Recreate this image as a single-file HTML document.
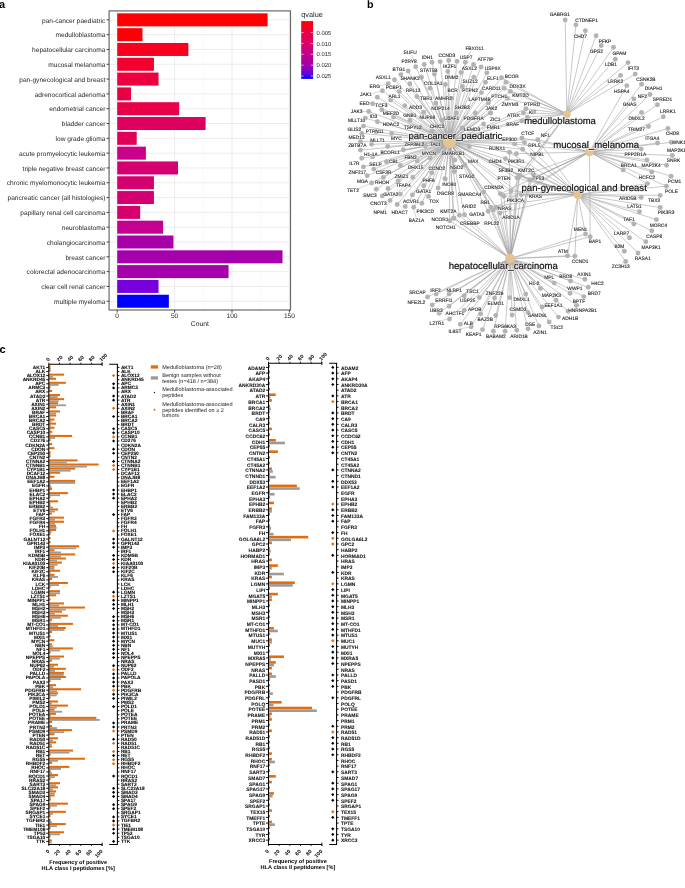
<!DOCTYPE html>
<html><head><meta charset="utf-8"><title>figure</title><style>
html,body{margin:0;padding:0;background:#fff;}
svg{display:block;will-change:transform;}
text{font-family:"Liberation Sans",sans-serif;text-rendering:geometricPrecision;}
.ax{font-size:6.6px;fill:#262626;}
.axt{font-size:6.8px;fill:#1a1a1a;}
.legt{font-size:7.3px;fill:#1a1a1a;}
.legl{font-size:5.9px;fill:#1a1a1a;}
.pl{font-size:11px;font-weight:bold;fill:#000;}
.gl text{font-size:4.85px;fill:#1a1a1a;stroke:#1a1a1a;stroke-width:0.1px;}
.glh text{font-size:4.85px;fill:#fff;stroke:#fff;stroke-width:0.8px;stroke-linejoin:round;opacity:0.8;}
.catl{font-size:9.6px;fill:#111;stroke:#fff;stroke-width:1.1px;stroke-linejoin:round;}
.catl2{font-size:9.6px;fill:#111;stroke:#111;stroke-width:0.2px;}
.cg{font-size:4.8px;font-weight:bold;fill:#000;stroke:#000;stroke-width:0.07px;}
.cg2{font-size:4.9px;font-weight:bold;fill:#111;stroke:#111;stroke-width:0.05px;}
.ct{font-size:5.2px;font-weight:bold;fill:#000;}
.cat{font-size:5.6px;font-weight:bold;fill:#000;}
.cl{font-size:5.55px;fill:#262626;}
</style></head>
<body>
<svg width="685" height="888" viewBox="0 0 685 888">
<rect width="685" height="888" fill="#fff"/>
<text x="-1" y="8.3" class="pl">a</text>
<text x="366.9" y="8.0" class="pl" style="font-size:10.6px">b</text>
<text x="-0.5" y="353.3" class="pl">c</text>
<rect x="109.1" y="10.9" width="181.4" height="299.1" fill="#fff"/>
<line x1="145.90" y1="10.9" x2="145.90" y2="310.0" stroke="#F2F2F2" stroke-width="0.5"/>
<line x1="203.30" y1="10.9" x2="203.30" y2="310.0" stroke="#F2F2F2" stroke-width="0.5"/>
<line x1="260.70" y1="10.9" x2="260.70" y2="310.0" stroke="#F2F2F2" stroke-width="0.5"/>
<line x1="117.20" y1="10.9" x2="117.20" y2="310.0" stroke="#EBEBEB" stroke-width="0.9"/>
<line x1="174.60" y1="10.9" x2="174.60" y2="310.0" stroke="#EBEBEB" stroke-width="0.9"/>
<line x1="232.00" y1="10.9" x2="232.00" y2="310.0" stroke="#EBEBEB" stroke-width="0.9"/>
<line x1="289.40" y1="10.9" x2="289.40" y2="310.0" stroke="#EBEBEB" stroke-width="0.9"/>
<line x1="109.1" y1="19.85" x2="290.5" y2="19.85" stroke="#EBEBEB" stroke-width="0.9"/>
<line x1="109.1" y1="34.66" x2="290.5" y2="34.66" stroke="#EBEBEB" stroke-width="0.9"/>
<line x1="109.1" y1="49.47" x2="290.5" y2="49.47" stroke="#EBEBEB" stroke-width="0.9"/>
<line x1="109.1" y1="64.28" x2="290.5" y2="64.28" stroke="#EBEBEB" stroke-width="0.9"/>
<line x1="109.1" y1="79.09" x2="290.5" y2="79.09" stroke="#EBEBEB" stroke-width="0.9"/>
<line x1="109.1" y1="93.90" x2="290.5" y2="93.90" stroke="#EBEBEB" stroke-width="0.9"/>
<line x1="109.1" y1="108.71" x2="290.5" y2="108.71" stroke="#EBEBEB" stroke-width="0.9"/>
<line x1="109.1" y1="123.52" x2="290.5" y2="123.52" stroke="#EBEBEB" stroke-width="0.9"/>
<line x1="109.1" y1="138.33" x2="290.5" y2="138.33" stroke="#EBEBEB" stroke-width="0.9"/>
<line x1="109.1" y1="153.14" x2="290.5" y2="153.14" stroke="#EBEBEB" stroke-width="0.9"/>
<line x1="109.1" y1="167.95" x2="290.5" y2="167.95" stroke="#EBEBEB" stroke-width="0.9"/>
<line x1="109.1" y1="182.76" x2="290.5" y2="182.76" stroke="#EBEBEB" stroke-width="0.9"/>
<line x1="109.1" y1="197.57" x2="290.5" y2="197.57" stroke="#EBEBEB" stroke-width="0.9"/>
<line x1="109.1" y1="212.38" x2="290.5" y2="212.38" stroke="#EBEBEB" stroke-width="0.9"/>
<line x1="109.1" y1="227.19" x2="290.5" y2="227.19" stroke="#EBEBEB" stroke-width="0.9"/>
<line x1="109.1" y1="242.00" x2="290.5" y2="242.00" stroke="#EBEBEB" stroke-width="0.9"/>
<line x1="109.1" y1="256.81" x2="290.5" y2="256.81" stroke="#EBEBEB" stroke-width="0.9"/>
<line x1="109.1" y1="271.62" x2="290.5" y2="271.62" stroke="#EBEBEB" stroke-width="0.9"/>
<line x1="109.1" y1="286.43" x2="290.5" y2="286.43" stroke="#EBEBEB" stroke-width="0.9"/>
<line x1="109.1" y1="301.24" x2="290.5" y2="301.24" stroke="#EBEBEB" stroke-width="0.9"/>
<rect x="117.2" y="13.35" width="150.39" height="13.0" fill="#FF0000"/>
<rect x="117.2" y="28.16" width="25.26" height="13.0" fill="#FC0008"/>
<rect x="117.2" y="42.97" width="71.18" height="13.0" fill="#F80020"/>
<rect x="117.2" y="57.78" width="36.74" height="13.0" fill="#F20030"/>
<rect x="117.2" y="72.59" width="41.33" height="13.0" fill="#EC0040"/>
<rect x="117.2" y="87.40" width="13.78" height="13.0" fill="#E80045"/>
<rect x="117.2" y="102.21" width="61.99" height="13.0" fill="#E80048"/>
<rect x="117.2" y="117.02" width="88.40" height="13.0" fill="#DE005E"/>
<rect x="117.2" y="131.83" width="19.52" height="13.0" fill="#E00055"/>
<rect x="117.2" y="146.64" width="28.70" height="13.0" fill="#C8008A"/>
<rect x="117.2" y="161.45" width="60.84" height="13.0" fill="#D40070"/>
<rect x="117.2" y="176.26" width="36.74" height="13.0" fill="#D50070"/>
<rect x="117.2" y="191.07" width="36.74" height="13.0" fill="#D50070"/>
<rect x="117.2" y="205.88" width="22.96" height="13.0" fill="#D5006E"/>
<rect x="117.2" y="220.69" width="45.92" height="13.0" fill="#C30090"/>
<rect x="117.2" y="235.50" width="56.25" height="13.0" fill="#A800A8"/>
<rect x="117.2" y="250.31" width="165.31" height="13.0" fill="#A600AC"/>
<rect x="117.2" y="265.12" width="111.36" height="13.0" fill="#A500AA"/>
<rect x="117.2" y="279.93" width="41.33" height="13.0" fill="#7800DD"/>
<rect x="117.2" y="294.74" width="51.66" height="13.0" fill="#0000FF"/>
<rect x="109.1" y="10.9" width="181.4" height="299.1" fill="none" stroke="#6a6a6a" stroke-width="1.2"/>
<line x1="106.5" y1="19.85" x2="109.1" y2="19.85" stroke="#333" stroke-width="0.9"/>
<text x="105.4" y="22.55" text-anchor="end" class="ax">pan-cancer paediatric</text>
<line x1="106.5" y1="34.66" x2="109.1" y2="34.66" stroke="#333" stroke-width="0.9"/>
<text x="105.4" y="37.36" text-anchor="end" class="ax">medulloblastoma</text>
<line x1="106.5" y1="49.47" x2="109.1" y2="49.47" stroke="#333" stroke-width="0.9"/>
<text x="105.4" y="52.17" text-anchor="end" class="ax">hepatocellular carcinoma</text>
<line x1="106.5" y1="64.28" x2="109.1" y2="64.28" stroke="#333" stroke-width="0.9"/>
<text x="105.4" y="66.98" text-anchor="end" class="ax">mucosal melanoma</text>
<line x1="106.5" y1="79.09" x2="109.1" y2="79.09" stroke="#333" stroke-width="0.9"/>
<text x="105.4" y="81.79" text-anchor="end" class="ax">pan-gynecological and breast</text>
<line x1="106.5" y1="93.90" x2="109.1" y2="93.90" stroke="#333" stroke-width="0.9"/>
<text x="105.4" y="96.60" text-anchor="end" class="ax">adrenocortical adenoma</text>
<line x1="106.5" y1="108.71" x2="109.1" y2="108.71" stroke="#333" stroke-width="0.9"/>
<text x="105.4" y="111.41" text-anchor="end" class="ax">endometrial cancer</text>
<line x1="106.5" y1="123.52" x2="109.1" y2="123.52" stroke="#333" stroke-width="0.9"/>
<text x="105.4" y="126.22" text-anchor="end" class="ax">bladder cancer</text>
<line x1="106.5" y1="138.33" x2="109.1" y2="138.33" stroke="#333" stroke-width="0.9"/>
<text x="105.4" y="141.03" text-anchor="end" class="ax">low grade glioma</text>
<line x1="106.5" y1="153.14" x2="109.1" y2="153.14" stroke="#333" stroke-width="0.9"/>
<text x="105.4" y="155.84" text-anchor="end" class="ax">acute promyelocytic leukemia</text>
<line x1="106.5" y1="167.95" x2="109.1" y2="167.95" stroke="#333" stroke-width="0.9"/>
<text x="105.4" y="170.65" text-anchor="end" class="ax">triple negative breast cancer</text>
<line x1="106.5" y1="182.76" x2="109.1" y2="182.76" stroke="#333" stroke-width="0.9"/>
<text x="105.4" y="185.46" text-anchor="end" class="ax">chronic myelomonocytic leukemia</text>
<line x1="106.5" y1="197.57" x2="109.1" y2="197.57" stroke="#333" stroke-width="0.9"/>
<text x="105.4" y="200.27" text-anchor="end" class="ax">pancreatic cancer (all histologies)</text>
<line x1="106.5" y1="212.38" x2="109.1" y2="212.38" stroke="#333" stroke-width="0.9"/>
<text x="105.4" y="215.08" text-anchor="end" class="ax">papillary renal cell carcinoma</text>
<line x1="106.5" y1="227.19" x2="109.1" y2="227.19" stroke="#333" stroke-width="0.9"/>
<text x="105.4" y="229.89" text-anchor="end" class="ax">neuroblastoma</text>
<line x1="106.5" y1="242.00" x2="109.1" y2="242.00" stroke="#333" stroke-width="0.9"/>
<text x="105.4" y="244.70" text-anchor="end" class="ax">cholangiocarcinoma</text>
<line x1="106.5" y1="256.81" x2="109.1" y2="256.81" stroke="#333" stroke-width="0.9"/>
<text x="105.4" y="259.51" text-anchor="end" class="ax">breast cancer</text>
<line x1="106.5" y1="271.62" x2="109.1" y2="271.62" stroke="#333" stroke-width="0.9"/>
<text x="105.4" y="274.32" text-anchor="end" class="ax">colorectal adenocarcinoma</text>
<line x1="106.5" y1="286.43" x2="109.1" y2="286.43" stroke="#333" stroke-width="0.9"/>
<text x="105.4" y="289.13" text-anchor="end" class="ax">clear cell renal cancer</text>
<line x1="106.5" y1="301.24" x2="109.1" y2="301.24" stroke="#333" stroke-width="0.9"/>
<text x="105.4" y="303.94" text-anchor="end" class="ax">multiple myeloma</text>
<line x1="117.20" y1="310.0" x2="117.20" y2="312.6" stroke="#333" stroke-width="0.9"/>
<text x="117.20" y="318.10" text-anchor="middle" class="ax">0</text>
<line x1="174.60" y1="310.0" x2="174.60" y2="312.6" stroke="#333" stroke-width="0.9"/>
<text x="174.60" y="318.10" text-anchor="middle" class="ax">50</text>
<line x1="232.00" y1="310.0" x2="232.00" y2="312.6" stroke="#333" stroke-width="0.9"/>
<text x="232.00" y="318.10" text-anchor="middle" class="ax">100</text>
<line x1="289.40" y1="310.0" x2="289.40" y2="312.6" stroke="#333" stroke-width="0.9"/>
<text x="289.40" y="318.10" text-anchor="middle" class="ax">150</text>
<text x="199.8" y="325.8" text-anchor="middle" class="axt">Count</text>
<defs><linearGradient id="qg" x1="0" y1="0" x2="0" y2="1"><stop offset="0" stop-color="#FF0000"/><stop offset="0.2" stop-color="#EA0045"/><stop offset="0.4" stop-color="#D7006C"/><stop offset="0.6" stop-color="#C0008E"/><stop offset="0.8" stop-color="#9A00B5"/><stop offset="0.92" stop-color="#5A00DE"/><stop offset="1" stop-color="#0000FF"/></linearGradient></defs>
<text x="301.3" y="17.3" class="legt">qvalue</text>
<rect x="301.2" y="21.1" width="11.9" height="57.8" fill="url(#qg)"/>
<line x1="301.2" y1="32.60" x2="303.6" y2="32.60" stroke="#fff" stroke-width="0.6"/>
<line x1="310.7" y1="32.60" x2="313.1" y2="32.60" stroke="#fff" stroke-width="0.6"/>
<text x="316.6" y="34.70" class="legl">0.005</text>
<line x1="301.2" y1="43.45" x2="303.6" y2="43.45" stroke="#fff" stroke-width="0.6"/>
<line x1="310.7" y1="43.45" x2="313.1" y2="43.45" stroke="#fff" stroke-width="0.6"/>
<text x="316.6" y="45.55" class="legl">0.010</text>
<line x1="301.2" y1="54.30" x2="303.6" y2="54.30" stroke="#fff" stroke-width="0.6"/>
<line x1="310.7" y1="54.30" x2="313.1" y2="54.30" stroke="#fff" stroke-width="0.6"/>
<text x="316.6" y="56.40" class="legl">0.015</text>
<line x1="301.2" y1="65.15" x2="303.6" y2="65.15" stroke="#fff" stroke-width="0.6"/>
<line x1="310.7" y1="65.15" x2="313.1" y2="65.15" stroke="#fff" stroke-width="0.6"/>
<text x="316.6" y="67.25" class="legl">0.020</text>
<line x1="301.2" y1="76.00" x2="303.6" y2="76.00" stroke="#fff" stroke-width="0.6"/>
<line x1="310.7" y1="76.00" x2="313.1" y2="76.00" stroke="#fff" stroke-width="0.6"/>
<text x="316.6" y="78.10" class="legl">0.025</text>
<g stroke="#A0A0A0" stroke-opacity="0.8" stroke-width="0.72" fill="none"><path d="M449.4 141.6L415.7 66.7"/><path d="M449.4 141.6L424.2 64.5"/><path d="M449.4 141.6L432 62.2"/><path d="M449.4 141.6L440.2 61.6"/><path d="M449.4 141.6L448.7 60.4"/><path d="M449.4 141.6L457 61.2"/><path d="M449.4 141.6L465.3 62.2"/><path d="M449.4 141.6L473.5 64.5"/><path d="M449.4 141.6L481.1 67"/><path d="M449.4 141.6L408.1 71"/><path d="M449.4 141.6L400.8 74.6"/><path d="M449.4 141.6L394.5 79.7"/><path d="M449.4 141.6L388.2 83.8"/><path d="M449.4 141.6L382.4 90.8"/><path d="M449.4 141.6L377.4 97.2"/><path d="M449.4 141.6L372.6 103.8"/><path d="M449.4 141.6L368.7 111.5"/><path d="M449.4 141.6L365.3 118.1"/><path d="M449.4 141.6L421.5 77.2"/><path d="M449.4 141.6L409.9 83.8"/><path d="M449.4 141.6L434.4 73.9"/><path d="M449.4 141.6L430 88.2"/><path d="M449.4 141.6L445.3 84.5"/><path d="M449.4 141.6L447.8 71.4"/><path d="M449.4 141.6L461 72.4"/><path d="M449.4 141.6L473.8 77.2"/><path d="M449.4 141.6L486.9 72.8"/><path d="M449.4 141.6L485.5 82.3"/><path d="M449.4 141.6L462.4 86.4"/><path d="M449.4 141.6L481.5 92.6"/><path d="M449.4 141.6L399.3 91.4"/><path d="M449.4 141.6L390.6 100.1"/><path d="M449.4 141.6L416.9 96.6"/><path d="M449.4 141.6L404.7 105.7"/><path d="M449.4 141.6L435.8 103.1"/><path d="M449.4 141.6L423.7 112.3"/><path d="M449.4 141.6L381.8 109.8"/><path d="M449.4 141.6L393.5 117.1"/><path d="M449.4 141.6L451.6 98.4"/><path d="M449.4 141.6L456.3 113"/><path d="M449.4 141.6L475.3 113"/><path d="M449.4 141.6L488.4 102.8"/><path d="M449.4 141.6L490.6 113"/><path d="M449.4 141.6L377.4 121.7"/><path d="M449.4 141.6L363.4 126.1"/><path d="M449.4 141.6L361.7 133.4"/><path d="M449.4 141.6L360.5 141.4"/><path d="M449.4 141.6L360.5 150.1"/><path d="M449.4 141.6L361.7 158.2"/><path d="M449.4 141.6L363.4 166.9"/><path d="M449.4 141.6L367.2 175.7"/><path d="M449.4 141.6L371.6 183"/><path d="M449.4 141.6L376.3 131.9"/><path d="M449.4 141.6L371.6 144.3"/><path d="M449.4 141.6L372.6 156.7"/><path d="M449.4 141.6L373.8 169.1"/><path d="M449.4 141.6L383.3 177.4"/><path d="M449.4 141.6L387.7 146.5"/><path d="M449.4 141.6L391.6 133.4"/><path d="M449.4 141.6L400.4 165.5"/><path d="M449.4 141.6L403.3 149.7"/><path d="M449.4 141.6L409.9 120.2"/><path d="M449.4 141.6L386.5 161.8"/><path d="M449.4 141.6L398.2 180.8"/><path d="M449.4 141.6L412.8 177.2"/><path d="M449.4 141.6L417.2 161.1"/><path d="M449.4 141.6L431.8 172.8"/><path d="M449.4 141.6L444.9 178.6"/><path d="M449.4 141.6L442 120.2"/><path d="M449.4 141.6L376.3 189.3"/><path d="M449.4 141.6L388 188.5"/><path d="M449.4 141.6L382.3 196"/><path d="M449.4 141.6L400.4 194.1"/><path d="M449.4 141.6L423.7 185.7"/><path d="M449.4 141.6L438.1 188"/><path d="M449.4 141.6L412.4 194.9"/><path d="M449.4 141.6L428.5 196.5"/><path d="M449.4 141.6L390 200.5"/><path d="M449.4 141.6L397.2 204.5"/><path d="M449.4 141.6L405.2 206.6"/><path d="M449.4 141.6L413.7 207.3"/><path d="M449.4 141.6L421.8 203.2"/><path d="M449.4 141.6L483.5 123.9"/><path d="M449.4 141.6L490.4 112.9"/><path d="M449.4 141.6L469.2 146.5"/><path d="M449.4 141.6L454.6 171"/><path d="M449.4 141.6L420 128"/><path d="M449.4 141.6L432 131"/><path d="M449.4 141.6L425 146"/><path d="M449.4 141.6L438 151"/><path d="M449.4 141.6L430 158"/><path d="M449.4 141.6L412 138"/><path d="M449.4 141.6L462 128"/><path d="M449.4 141.6L470 136"/><path d="M449.4 141.6L455 160"/><path d="M449.4 141.6L465 165"/><path d="M449.4 141.6L445.3 179.1"/><path d="M449.4 141.6L454.4 171.4"/><path d="M449.4 141.6L501.5 77.7"/><path d="M566.8 114.05L501.5 77.7"/><path d="M449.4 141.6L505.9 82.3"/><path d="M566.8 114.05L505.9 82.3"/><path d="M449.4 141.6L504.2 88.2"/><path d="M566.8 114.05L504.2 88.2"/><path d="M449.4 141.6L510.3 91.4"/><path d="M566.8 114.05L510.3 91.4"/><path d="M449.4 141.6L507.4 98.4"/><path d="M566.8 114.05L507.4 98.4"/><path d="M449.4 141.6L526 108.8"/><path d="M566.8 114.05L526 108.8"/><path d="M449.4 141.6L523.4 113"/><path d="M566.8 114.05L523.4 113"/><path d="M449.4 141.6L527.4 117.2"/><path d="M566.8 114.05L527.4 117.2"/><path d="M449.4 141.6L521.8 121"/><path d="M566.8 114.05L521.8 121"/><path d="M449.4 141.6L522 138"/><path d="M589.45 151.85L522 138"/><path d="M449.4 141.6L537.7 139.7"/><path d="M566.8 114.05L537.7 139.7"/><path d="M589.45 151.85L537.7 139.7"/><path d="M577.75 194.55L537.7 139.7"/><path d="M449.4 141.6L524.5 142.6"/><path d="M577.75 194.55L524.5 142.6"/><path d="M449.4 141.6L514.6 144.1"/><path d="M589.45 151.85L514.6 144.1"/><path d="M577.75 194.55L514.6 144.1"/><path d="M449.4 141.6L522.6 149.3"/><path d="M577.75 194.55L522.6 149.3"/><path d="M449.4 141.6L509.5 152.3"/><path d="M577.75 194.55L509.5 152.3"/><path d="M510.15 258.55L509.5 152.3"/><path d="M449.4 141.6L516.4 153.7"/><path d="M589.45 151.85L516.4 153.7"/><path d="M449.4 141.6L505.5 158.7"/><path d="M577.75 194.55L505.5 158.7"/><path d="M449.4 141.6L519 175.9"/><path d="M566.8 114.05L519 175.9"/><path d="M577.75 194.55L519 175.9"/><path d="M510.15 258.55L519 175.9"/><path d="M449.4 141.6L529.8 180.1"/><path d="M589.45 151.85L529.8 180.1"/><path d="M577.75 194.55L529.8 180.1"/><path d="M510.15 258.55L529.8 180.1"/><path d="M449.4 141.6L533.4 174.2"/><path d="M577.75 194.55L533.4 174.2"/><path d="M510.15 258.55L533.4 174.2"/><path d="M449.4 141.6L517.1 177.9"/><path d="M566.8 114.05L517.1 177.9"/><path d="M589.45 151.85L517.1 177.9"/><path d="M577.75 194.55L517.1 177.9"/><path d="M510.15 258.55L517.1 177.9"/><path d="M449.4 141.6L530.2 179.6"/><path d="M589.45 151.85L530.2 179.6"/><path d="M577.75 194.55L530.2 179.6"/><path d="M510.15 258.55L530.2 179.6"/><path d="M449.4 141.6L519.7 175.3"/><path d="M577.75 194.55L519.7 175.3"/><path d="M510.15 258.55L519.7 175.3"/><path d="M449.4 141.6L500.4 193.7"/><path d="M589.45 151.85L500.4 193.7"/><path d="M577.75 194.55L500.4 193.7"/><path d="M510.15 258.55L500.4 193.7"/><path d="M449.4 141.6L511 191"/><path d="M566.8 114.05L511 191"/><path d="M577.75 194.55L511 191"/><path d="M510.15 258.55L511 191"/><path d="M449.4 141.6L521.5 194.5"/><path d="M589.45 151.85L521.5 194.5"/><path d="M577.75 194.55L521.5 194.5"/><path d="M510.15 258.55L521.5 194.5"/><path d="M449.4 141.6L503.9 196.3"/><path d="M577.75 194.55L503.9 196.3"/><path d="M510.15 258.55L503.9 196.3"/><path d="M449.4 141.6L483.8 191.9"/><path d="M510.15 258.55L483.8 191.9"/><path d="M449.4 141.6L490.8 207.1"/><path d="M577.75 194.55L490.8 207.1"/><path d="M510.15 258.55L490.8 207.1"/><path d="M449.4 141.6L496.1 207.1"/><path d="M589.45 151.85L496.1 207.1"/><path d="M510.15 258.55L496.1 207.1"/><path d="M449.4 141.6L488.2 211.2"/><path d="M510.15 258.55L488.2 211.2"/><path d="M449.4 141.6L493.4 209.9"/><path d="M510.15 258.55L493.4 209.9"/><path d="M449.4 141.6L500 213"/><path d="M577.75 194.55L500 213"/><path d="M510.15 258.55L500 213"/><path d="M449.4 141.6L464.5 214.7"/><path d="M510.15 258.55L464.5 214.7"/><path d="M449.4 141.6L459.3 215.2"/><path d="M510.15 258.55L459.3 215.2"/><path d="M449.4 141.6L454 218.2"/><path d="M510.15 258.55L454 218.2"/><path d="M449.4 141.6L449.6 220.8"/><path d="M510.15 258.55L449.6 220.8"/><path d="M449.4 141.6L453.4 218.2"/><path d="M510.15 258.55L453.4 218.2"/><path d="M566.8 114.05L565.2 19.9"/><path d="M566.8 114.05L575.9 24.8"/><path d="M566.8 114.05L585.4 30.7"/><path d="M566.8 114.05L596.1 35.8"/><path d="M566.8 114.05L601.2 45.5"/><path d="M566.8 114.05L613.5 47.3"/><path d="M566.8 114.05L615.3 59.3"/><path d="M566.8 114.05L628 62.6"/><path d="M566.8 114.05L620.6 75.4"/><path d="M566.8 114.05L635.2 74.1"/><path d="M589.45 151.85L626.8 85.6"/><path d="M589.45 151.85L641.6 84.3"/><path d="M589.45 151.85L650 94.5"/><path d="M589.45 151.85L633.9 98.9"/><path d="M589.45 151.85L657.4 104.8"/><path d="M589.45 151.85L641.6 112.4"/><path d="M589.45 151.85L663.3 116.8"/><path d="M589.45 151.85L648.5 126.5"/><path d="M589.45 151.85L667.9 128.5"/><path d="M589.45 151.85L657.5 143"/><path d="M589.45 151.85L671.2 142.3"/><path d="M589.45 151.85L641.2 149.1"/><path d="M589.45 151.85L672.3 155.5"/><path d="M589.45 151.85L646.9 159.9"/><path d="M589.45 151.85L666.6 165.2"/><path d="M589.45 151.85L623.2 169.9"/><path d="M589.45 151.85L651.8 172"/><path d="M589.45 151.85L671.2 176.2"/><path d="M589.45 151.85L666.4 186.2"/><path d="M577.75 194.55L666.4 186.2"/><path d="M589.45 151.85L647.5 183.6"/><path d="M577.75 194.55L647.5 183.6"/><path d="M577.75 194.55L641.2 197.4"/><path d="M577.75 194.55L660.2 195.4"/><path d="M577.75 194.55L639.5 211.8"/><path d="M577.75 194.55L660.2 207.5"/><path d="M577.75 194.55L633.8 224"/><path d="M577.75 194.55L656.4 219.6"/><path d="M577.75 194.55L629.5 237.8"/><path d="M577.75 194.55L651.8 230.8"/><path d="M577.75 194.55L645.8 241.8"/><path d="M577.75 194.55L624.3 251.3"/><path d="M577.75 194.55L638 253"/><path d="M577.75 194.55L625.7 261.5"/><path d="M577.75 194.55L585.5 234"/><path d="M510.15 258.55L585.5 234"/><path d="M589.45 151.85L590.2 236.7"/><path d="M510.15 258.55L590.2 236.7"/><path d="M577.75 194.55L567.5 255.8"/><path d="M510.15 258.55L567.5 255.8"/><path d="M577.75 194.55L574.9 256.2"/><path d="M510.15 258.55L574.9 256.2"/><path d="M510.15 258.55L427.6 296.9"/><path d="M510.15 258.55L436.2 294.1"/><path d="M510.15 258.55L449.1 294.1"/><path d="M510.15 258.55L432.2 305"/><path d="M510.15 258.55L449.1 306.2"/><path d="M510.15 258.55L439.2 313.2"/><path d="M510.15 258.55L464.2 295.7"/><path d="M510.15 258.55L479.4 297.6"/><path d="M510.15 258.55L464.2 310.2"/><path d="M510.15 258.55L449.5 319"/><path d="M510.15 258.55L480.6 313.9"/><path d="M510.15 258.55L460.3 324.2"/><path d="M510.15 258.55L471.2 326.8"/><path d="M510.15 258.55L495.8 315.5"/><path d="M510.15 258.55L482.5 329.6"/><path d="M510.15 258.55L494.6 298"/><path d="M510.15 258.55L509.8 297.6"/><path d="M510.15 258.55L525.7 294.1"/><path d="M510.15 258.55L512.1 315.1"/><path d="M510.15 258.55L528 312.5"/><path d="M510.15 258.55L493.4 331.2"/><path d="M510.15 258.55L505.1 331.2"/><path d="M510.15 258.55L516.8 330.3"/><path d="M510.15 258.55L528 328.7"/><path d="M510.15 258.55L538.9 326"/><path d="M510.15 258.55L549.2 322"/><path d="M510.15 258.55L542.2 307"/><path d="M510.15 258.55L556.1 300.2"/><path d="M510.15 258.55L540.5 288.4"/><path d="M510.15 258.55L554.3 283.1"/><path d="M510.15 258.55L570.6 281"/><path d="M510.15 258.55L584.8 279.2"/><path d="M510.15 258.55L588.2 287.3"/><path d="M510.15 258.55L570.1 293.2"/><path d="M510.15 258.55L583.8 296.6"/><path d="M510.15 258.55L576.6 305.3"/><path d="M510.15 258.55L568.2 311.3"/><path d="M510.15 258.55L558.5 317.1"/></g>
<line x1="411.5" y1="55" x2="415.7" y2="64.5" stroke="#999" stroke-width="0.4"/>
<line x1="471" y1="50.5" x2="466" y2="60" stroke="#999" stroke-width="0.4"/>
<line x1="379" y1="86" x2="386" y2="84.2" stroke="#999" stroke-width="0.4"/>
<line x1="370" y1="94.5" x2="380.2" y2="91.2" stroke="#999" stroke-width="0.4"/>
<line x1="368" y1="102.8" x2="370.4" y2="103.5" stroke="#999" stroke-width="0.4"/>
<line x1="361" y1="111.5" x2="366.4" y2="111.5" stroke="#999" stroke-width="0.4"/>
<line x1="357.5" y1="189" x2="369.6" y2="183.8" stroke="#999" stroke-width="0.4"/>
<line x1="384" y1="210" x2="389.4" y2="202.6" stroke="#999" stroke-width="0.4"/>
<line x1="416" y1="217.5" x2="414" y2="209.5" stroke="#999" stroke-width="0.4"/>
<line x1="622.5" y1="263.5" x2="624.6" y2="262.6" stroke="#999" stroke-width="0.4"/>
<line x1="437.5" y1="321" x2="447.6" y2="319.4" stroke="#999" stroke-width="0.4"/>
<line x1="459" y1="329" x2="470" y2="327" stroke="#999" stroke-width="0.4"/>
<line x1="548.5" y1="280" x2="553" y2="282.5" stroke="#999" stroke-width="0.4"/>
<circle cx="415.7" cy="66.7" r="2.45" fill="#B3B3B3"/>
<circle cx="424.2" cy="64.5" r="2.45" fill="#B3B3B3"/>
<circle cx="432" cy="62.2" r="2.45" fill="#B3B3B3"/>
<circle cx="440.2" cy="61.6" r="2.45" fill="#B3B3B3"/>
<circle cx="448.7" cy="60.4" r="2.45" fill="#B3B3B3"/>
<circle cx="457" cy="61.2" r="2.45" fill="#B3B3B3"/>
<circle cx="465.3" cy="62.2" r="2.45" fill="#B3B3B3"/>
<circle cx="473.5" cy="64.5" r="2.45" fill="#B3B3B3"/>
<circle cx="481.1" cy="67" r="2.45" fill="#B3B3B3"/>
<circle cx="408.1" cy="71" r="2.45" fill="#B3B3B3"/>
<circle cx="400.8" cy="74.6" r="2.45" fill="#B3B3B3"/>
<circle cx="394.5" cy="79.7" r="2.45" fill="#B3B3B3"/>
<circle cx="388.2" cy="83.8" r="2.45" fill="#B3B3B3"/>
<circle cx="382.4" cy="90.8" r="2.45" fill="#B3B3B3"/>
<circle cx="377.4" cy="97.2" r="2.45" fill="#B3B3B3"/>
<circle cx="372.6" cy="103.8" r="2.45" fill="#B3B3B3"/>
<circle cx="368.7" cy="111.5" r="2.45" fill="#B3B3B3"/>
<circle cx="365.3" cy="118.1" r="2.45" fill="#B3B3B3"/>
<circle cx="421.5" cy="77.2" r="2.45" fill="#B3B3B3"/>
<circle cx="409.9" cy="83.8" r="2.45" fill="#B3B3B3"/>
<circle cx="434.4" cy="73.9" r="2.45" fill="#B3B3B3"/>
<circle cx="430" cy="88.2" r="2.45" fill="#B3B3B3"/>
<circle cx="445.3" cy="84.5" r="2.45" fill="#B3B3B3"/>
<circle cx="447.8" cy="71.4" r="2.45" fill="#B3B3B3"/>
<circle cx="461" cy="72.4" r="2.45" fill="#B3B3B3"/>
<circle cx="473.8" cy="77.2" r="2.45" fill="#B3B3B3"/>
<circle cx="486.9" cy="72.8" r="2.45" fill="#B3B3B3"/>
<circle cx="485.5" cy="82.3" r="2.45" fill="#B3B3B3"/>
<circle cx="462.4" cy="86.4" r="2.45" fill="#B3B3B3"/>
<circle cx="481.5" cy="92.6" r="2.45" fill="#B3B3B3"/>
<circle cx="399.3" cy="91.4" r="2.45" fill="#B3B3B3"/>
<circle cx="390.6" cy="100.1" r="2.45" fill="#B3B3B3"/>
<circle cx="416.9" cy="96.6" r="2.45" fill="#B3B3B3"/>
<circle cx="404.7" cy="105.7" r="2.45" fill="#B3B3B3"/>
<circle cx="435.8" cy="103.1" r="2.45" fill="#B3B3B3"/>
<circle cx="423.7" cy="112.3" r="2.45" fill="#B3B3B3"/>
<circle cx="381.8" cy="109.8" r="2.45" fill="#B3B3B3"/>
<circle cx="393.5" cy="117.1" r="2.45" fill="#B3B3B3"/>
<circle cx="451.6" cy="98.4" r="2.45" fill="#B3B3B3"/>
<circle cx="456.3" cy="113" r="2.45" fill="#B3B3B3"/>
<circle cx="475.3" cy="113" r="2.45" fill="#B3B3B3"/>
<circle cx="488.4" cy="102.8" r="2.45" fill="#B3B3B3"/>
<circle cx="490.6" cy="113" r="2.45" fill="#B3B3B3"/>
<circle cx="377.4" cy="121.7" r="2.45" fill="#B3B3B3"/>
<circle cx="363.4" cy="126.1" r="2.45" fill="#B3B3B3"/>
<circle cx="361.7" cy="133.4" r="2.45" fill="#B3B3B3"/>
<circle cx="360.5" cy="141.4" r="2.45" fill="#B3B3B3"/>
<circle cx="360.5" cy="150.1" r="2.45" fill="#B3B3B3"/>
<circle cx="361.7" cy="158.2" r="2.45" fill="#B3B3B3"/>
<circle cx="363.4" cy="166.9" r="2.45" fill="#B3B3B3"/>
<circle cx="367.2" cy="175.7" r="2.45" fill="#B3B3B3"/>
<circle cx="371.6" cy="183" r="2.45" fill="#B3B3B3"/>
<circle cx="376.3" cy="131.9" r="2.45" fill="#B3B3B3"/>
<circle cx="371.6" cy="144.3" r="2.45" fill="#B3B3B3"/>
<circle cx="372.6" cy="156.7" r="2.45" fill="#B3B3B3"/>
<circle cx="373.8" cy="169.1" r="2.45" fill="#B3B3B3"/>
<circle cx="383.3" cy="177.4" r="2.45" fill="#B3B3B3"/>
<circle cx="387.7" cy="146.5" r="2.45" fill="#B3B3B3"/>
<circle cx="391.6" cy="133.4" r="2.45" fill="#B3B3B3"/>
<circle cx="400.4" cy="165.5" r="2.45" fill="#B3B3B3"/>
<circle cx="403.3" cy="149.7" r="2.45" fill="#B3B3B3"/>
<circle cx="409.9" cy="120.2" r="2.45" fill="#B3B3B3"/>
<circle cx="386.5" cy="161.8" r="2.45" fill="#B3B3B3"/>
<circle cx="398.2" cy="180.8" r="2.45" fill="#B3B3B3"/>
<circle cx="412.8" cy="177.2" r="2.45" fill="#B3B3B3"/>
<circle cx="417.2" cy="161.1" r="2.45" fill="#B3B3B3"/>
<circle cx="431.8" cy="172.8" r="2.45" fill="#B3B3B3"/>
<circle cx="444.9" cy="178.6" r="2.45" fill="#B3B3B3"/>
<circle cx="442" cy="120.2" r="2.45" fill="#B3B3B3"/>
<circle cx="376.3" cy="189.3" r="2.45" fill="#B3B3B3"/>
<circle cx="388" cy="188.5" r="2.45" fill="#B3B3B3"/>
<circle cx="382.3" cy="196" r="2.45" fill="#B3B3B3"/>
<circle cx="400.4" cy="194.1" r="2.45" fill="#B3B3B3"/>
<circle cx="423.7" cy="185.7" r="2.45" fill="#B3B3B3"/>
<circle cx="438.1" cy="188" r="2.45" fill="#B3B3B3"/>
<circle cx="412.4" cy="194.9" r="2.45" fill="#B3B3B3"/>
<circle cx="428.5" cy="196.5" r="2.45" fill="#B3B3B3"/>
<circle cx="390" cy="200.5" r="2.45" fill="#B3B3B3"/>
<circle cx="397.2" cy="204.5" r="2.45" fill="#B3B3B3"/>
<circle cx="405.2" cy="206.6" r="2.45" fill="#B3B3B3"/>
<circle cx="413.7" cy="207.3" r="2.45" fill="#B3B3B3"/>
<circle cx="421.8" cy="203.2" r="2.45" fill="#B3B3B3"/>
<circle cx="483.5" cy="123.9" r="2.45" fill="#B3B3B3"/>
<circle cx="490.4" cy="112.9" r="2.45" fill="#B3B3B3"/>
<circle cx="469.2" cy="146.5" r="2.45" fill="#B3B3B3"/>
<circle cx="454.6" cy="171" r="2.45" fill="#B3B3B3"/>
<circle cx="420" cy="128" r="2.45" fill="#B3B3B3"/>
<circle cx="432" cy="131" r="2.45" fill="#B3B3B3"/>
<circle cx="425" cy="146" r="2.45" fill="#B3B3B3"/>
<circle cx="438" cy="151" r="2.45" fill="#B3B3B3"/>
<circle cx="430" cy="158" r="2.45" fill="#B3B3B3"/>
<circle cx="412" cy="138" r="2.45" fill="#B3B3B3"/>
<circle cx="462" cy="128" r="2.45" fill="#B3B3B3"/>
<circle cx="470" cy="136" r="2.45" fill="#B3B3B3"/>
<circle cx="455" cy="160" r="2.45" fill="#B3B3B3"/>
<circle cx="465" cy="165" r="2.45" fill="#B3B3B3"/>
<circle cx="445.3" cy="179.1" r="2.45" fill="#B3B3B3"/>
<circle cx="454.4" cy="171.4" r="2.45" fill="#B3B3B3"/>
<circle cx="501.5" cy="77.7" r="2.45" fill="#B3B3B3"/>
<circle cx="505.9" cy="82.3" r="2.45" fill="#B3B3B3"/>
<circle cx="504.2" cy="88.2" r="2.45" fill="#B3B3B3"/>
<circle cx="510.3" cy="91.4" r="2.45" fill="#B3B3B3"/>
<circle cx="507.4" cy="98.4" r="2.45" fill="#B3B3B3"/>
<circle cx="526" cy="108.8" r="2.45" fill="#B3B3B3"/>
<circle cx="523.4" cy="113" r="2.45" fill="#B3B3B3"/>
<circle cx="527.4" cy="117.2" r="2.45" fill="#B3B3B3"/>
<circle cx="521.8" cy="121" r="2.45" fill="#B3B3B3"/>
<circle cx="522" cy="138" r="2.45" fill="#B3B3B3"/>
<circle cx="537.7" cy="139.7" r="2.45" fill="#B3B3B3"/>
<circle cx="524.5" cy="142.6" r="2.45" fill="#B3B3B3"/>
<circle cx="514.6" cy="144.1" r="2.45" fill="#B3B3B3"/>
<circle cx="522.6" cy="149.3" r="2.45" fill="#B3B3B3"/>
<circle cx="509.5" cy="152.3" r="2.45" fill="#B3B3B3"/>
<circle cx="516.4" cy="153.7" r="2.45" fill="#B3B3B3"/>
<circle cx="505.5" cy="158.7" r="2.45" fill="#B3B3B3"/>
<circle cx="519" cy="175.9" r="2.45" fill="#B3B3B3"/>
<circle cx="529.8" cy="180.1" r="2.45" fill="#B3B3B3"/>
<circle cx="533.4" cy="174.2" r="2.45" fill="#B3B3B3"/>
<circle cx="517.1" cy="177.9" r="2.45" fill="#B3B3B3"/>
<circle cx="530.2" cy="179.6" r="2.45" fill="#B3B3B3"/>
<circle cx="519.7" cy="175.3" r="2.45" fill="#B3B3B3"/>
<circle cx="500.4" cy="193.7" r="2.45" fill="#B3B3B3"/>
<circle cx="511" cy="191" r="2.45" fill="#B3B3B3"/>
<circle cx="521.5" cy="194.5" r="2.45" fill="#B3B3B3"/>
<circle cx="503.9" cy="196.3" r="2.45" fill="#B3B3B3"/>
<circle cx="483.8" cy="191.9" r="2.45" fill="#B3B3B3"/>
<circle cx="490.8" cy="207.1" r="2.45" fill="#B3B3B3"/>
<circle cx="496.1" cy="207.1" r="2.45" fill="#B3B3B3"/>
<circle cx="488.2" cy="211.2" r="2.45" fill="#B3B3B3"/>
<circle cx="493.4" cy="209.9" r="2.45" fill="#B3B3B3"/>
<circle cx="500" cy="213" r="2.45" fill="#B3B3B3"/>
<circle cx="464.5" cy="214.7" r="2.45" fill="#B3B3B3"/>
<circle cx="459.3" cy="215.2" r="2.45" fill="#B3B3B3"/>
<circle cx="454" cy="218.2" r="2.45" fill="#B3B3B3"/>
<circle cx="449.6" cy="220.8" r="2.45" fill="#B3B3B3"/>
<circle cx="453.4" cy="218.2" r="2.45" fill="#B3B3B3"/>
<circle cx="565.2" cy="19.9" r="2.45" fill="#B3B3B3"/>
<circle cx="575.9" cy="24.8" r="2.45" fill="#B3B3B3"/>
<circle cx="585.4" cy="30.7" r="2.45" fill="#B3B3B3"/>
<circle cx="596.1" cy="35.8" r="2.45" fill="#B3B3B3"/>
<circle cx="601.2" cy="45.5" r="2.45" fill="#B3B3B3"/>
<circle cx="613.5" cy="47.3" r="2.45" fill="#B3B3B3"/>
<circle cx="615.3" cy="59.3" r="2.45" fill="#B3B3B3"/>
<circle cx="628" cy="62.6" r="2.45" fill="#B3B3B3"/>
<circle cx="620.6" cy="75.4" r="2.45" fill="#B3B3B3"/>
<circle cx="635.2" cy="74.1" r="2.45" fill="#B3B3B3"/>
<circle cx="626.8" cy="85.6" r="2.45" fill="#B3B3B3"/>
<circle cx="641.6" cy="84.3" r="2.45" fill="#B3B3B3"/>
<circle cx="650" cy="94.5" r="2.45" fill="#B3B3B3"/>
<circle cx="633.9" cy="98.9" r="2.45" fill="#B3B3B3"/>
<circle cx="657.4" cy="104.8" r="2.45" fill="#B3B3B3"/>
<circle cx="641.6" cy="112.4" r="2.45" fill="#B3B3B3"/>
<circle cx="663.3" cy="116.8" r="2.45" fill="#B3B3B3"/>
<circle cx="648.5" cy="126.5" r="2.45" fill="#B3B3B3"/>
<circle cx="667.9" cy="128.5" r="2.45" fill="#B3B3B3"/>
<circle cx="657.5" cy="143" r="2.45" fill="#B3B3B3"/>
<circle cx="671.2" cy="142.3" r="2.45" fill="#B3B3B3"/>
<circle cx="641.2" cy="149.1" r="2.45" fill="#B3B3B3"/>
<circle cx="672.3" cy="155.5" r="2.45" fill="#B3B3B3"/>
<circle cx="646.9" cy="159.9" r="2.45" fill="#B3B3B3"/>
<circle cx="666.6" cy="165.2" r="2.45" fill="#B3B3B3"/>
<circle cx="623.2" cy="169.9" r="2.45" fill="#B3B3B3"/>
<circle cx="651.8" cy="172" r="2.45" fill="#B3B3B3"/>
<circle cx="671.2" cy="176.2" r="2.45" fill="#B3B3B3"/>
<circle cx="666.4" cy="186.2" r="2.45" fill="#B3B3B3"/>
<circle cx="647.5" cy="183.6" r="2.45" fill="#B3B3B3"/>
<circle cx="641.2" cy="197.4" r="2.45" fill="#B3B3B3"/>
<circle cx="660.2" cy="195.4" r="2.45" fill="#B3B3B3"/>
<circle cx="639.5" cy="211.8" r="2.45" fill="#B3B3B3"/>
<circle cx="660.2" cy="207.5" r="2.45" fill="#B3B3B3"/>
<circle cx="633.8" cy="224" r="2.45" fill="#B3B3B3"/>
<circle cx="656.4" cy="219.6" r="2.45" fill="#B3B3B3"/>
<circle cx="629.5" cy="237.8" r="2.45" fill="#B3B3B3"/>
<circle cx="651.8" cy="230.8" r="2.45" fill="#B3B3B3"/>
<circle cx="645.8" cy="241.8" r="2.45" fill="#B3B3B3"/>
<circle cx="624.3" cy="251.3" r="2.45" fill="#B3B3B3"/>
<circle cx="638" cy="253" r="2.45" fill="#B3B3B3"/>
<circle cx="625.7" cy="261.5" r="2.45" fill="#B3B3B3"/>
<circle cx="585.5" cy="234" r="2.45" fill="#B3B3B3"/>
<circle cx="590.2" cy="236.7" r="2.45" fill="#B3B3B3"/>
<circle cx="567.5" cy="255.8" r="2.45" fill="#B3B3B3"/>
<circle cx="574.9" cy="256.2" r="2.45" fill="#B3B3B3"/>
<circle cx="427.6" cy="296.9" r="2.45" fill="#B3B3B3"/>
<circle cx="436.2" cy="294.1" r="2.45" fill="#B3B3B3"/>
<circle cx="449.1" cy="294.1" r="2.45" fill="#B3B3B3"/>
<circle cx="432.2" cy="305" r="2.45" fill="#B3B3B3"/>
<circle cx="449.1" cy="306.2" r="2.45" fill="#B3B3B3"/>
<circle cx="439.2" cy="313.2" r="2.45" fill="#B3B3B3"/>
<circle cx="464.2" cy="295.7" r="2.45" fill="#B3B3B3"/>
<circle cx="479.4" cy="297.6" r="2.45" fill="#B3B3B3"/>
<circle cx="464.2" cy="310.2" r="2.45" fill="#B3B3B3"/>
<circle cx="449.5" cy="319" r="2.45" fill="#B3B3B3"/>
<circle cx="480.6" cy="313.9" r="2.45" fill="#B3B3B3"/>
<circle cx="460.3" cy="324.2" r="2.45" fill="#B3B3B3"/>
<circle cx="471.2" cy="326.8" r="2.45" fill="#B3B3B3"/>
<circle cx="495.8" cy="315.5" r="2.45" fill="#B3B3B3"/>
<circle cx="482.5" cy="329.6" r="2.45" fill="#B3B3B3"/>
<circle cx="494.6" cy="298" r="2.45" fill="#B3B3B3"/>
<circle cx="509.8" cy="297.6" r="2.45" fill="#B3B3B3"/>
<circle cx="525.7" cy="294.1" r="2.45" fill="#B3B3B3"/>
<circle cx="512.1" cy="315.1" r="2.45" fill="#B3B3B3"/>
<circle cx="528" cy="312.5" r="2.45" fill="#B3B3B3"/>
<circle cx="493.4" cy="331.2" r="2.45" fill="#B3B3B3"/>
<circle cx="505.1" cy="331.2" r="2.45" fill="#B3B3B3"/>
<circle cx="516.8" cy="330.3" r="2.45" fill="#B3B3B3"/>
<circle cx="528" cy="328.7" r="2.45" fill="#B3B3B3"/>
<circle cx="538.9" cy="326" r="2.45" fill="#B3B3B3"/>
<circle cx="549.2" cy="322" r="2.45" fill="#B3B3B3"/>
<circle cx="542.2" cy="307" r="2.45" fill="#B3B3B3"/>
<circle cx="556.1" cy="300.2" r="2.45" fill="#B3B3B3"/>
<circle cx="540.5" cy="288.4" r="2.45" fill="#B3B3B3"/>
<circle cx="554.3" cy="283.1" r="2.45" fill="#B3B3B3"/>
<circle cx="570.6" cy="281" r="2.45" fill="#B3B3B3"/>
<circle cx="584.8" cy="279.2" r="2.45" fill="#B3B3B3"/>
<circle cx="588.2" cy="287.3" r="2.45" fill="#B3B3B3"/>
<circle cx="570.1" cy="293.2" r="2.45" fill="#B3B3B3"/>
<circle cx="583.8" cy="296.6" r="2.45" fill="#B3B3B3"/>
<circle cx="576.6" cy="305.3" r="2.45" fill="#B3B3B3"/>
<circle cx="568.2" cy="311.3" r="2.45" fill="#B3B3B3"/>
<circle cx="558.5" cy="317.1" r="2.45" fill="#B3B3B3"/>
<circle cx="449.4" cy="141.6" r="6.5" fill="#E5C494"/>
<circle cx="566.8" cy="114.05" r="3.9" fill="#E5C494"/>
<circle cx="589.45" cy="151.85" r="4.45" fill="#E5C494"/>
<circle cx="577.75" cy="194.55" r="4.45" fill="#E5C494"/>
<circle cx="510.15" cy="258.55" r="5.05" fill="#E5C494"/>
<g class="glh" text-anchor="middle"><text x="410.1" y="53.6">SUFU</text><text x="409.1" y="62.5">P2RY8</text><text x="427.4" y="59.1">IDH1</text><text x="446.8" y="56.6">CCND3</text><text x="474.5" y="49.6">FBXO11</text><text x="466.2" y="58.8">USP7</text><text x="485.5" y="60.9">ATF7IP</text><text x="398.9" y="70.8">BTG1</text><text x="428.8" y="71.5">STAT5B</text><text x="449.7" y="67.9">IKZF1</text><text x="469.4" y="69.6">ASXL2</text><text x="492.8" y="69.6">USP9X</text><text x="383.3" y="79.3">ASXL1</text><text x="410.1" y="80.0">SHANK2</text><text x="451.6" y="78.8">DNM2</text><text x="492.8" y="79.8">ELF1</text><text x="511.8" y="77.8">BCOR</text><text x="374.8" y="87.6">ERG</text><text x="393.8" y="88.6">PCBP1</text><text x="433.2" y="85.1">COL1A1</text><text x="470.1" y="83.2">SUZ12</text><text x="517.6" y="88.0">DDX3X</text><text x="491.3" y="89.5">CARD11</text><text x="365.8" y="96.3">JAK1</text><text x="413.1" y="92.0">RPL13</text><text x="452.6" y="91.5">BCR</text><text x="470.1" y="92.4">PTPN2</text><text x="520.5" y="96.8">KMT2D</text><text x="394.5" y="97.8">ARL1</text><text x="426.2" y="100.3">TBR1</text><text x="443.4" y="100.3">AMHR2</text><text x="479.6" y="100.7">LAPTM4B</text><text x="499.3" y="97.8">PTCH1</text><text x="364.6" y="104.7">EED</text><text x="381.4" y="106.9">TCF3</text><text x="415.4" y="108.8">ADD3</text><text x="440.5" y="109.5">NUP214</text><text x="462.1" y="109.0">SH2B3</text><text x="491.3" y="109.5">JAK2</text><text x="510" y="106.2">ZMYM3</text><text x="532.1" y="105.7">PTPRD</text><text x="356.6" y="113.1">JAK3</text><text x="390.9" y="114.6">MEF2D</text><text x="409.9" y="116.8">GNB1</text><text x="427.4" y="119.0">NUP98</text><text x="451.7" y="119.6">U2AF1</text><text x="473.6" y="119.6">PDGFRA</text><text x="495.2" y="120.7">ZIC1</text><text x="513.4" y="116.9">ATRX</text><text x="532.8" y="114.4">KIT</text><text x="373.4" y="118.2">ID3</text><text x="356.6" y="121.8">MLLT10</text><text x="390.9" y="125.5">HDAC2</text><text x="412.8" y="129.1">TSPYL2</text><text x="436.9" y="128.0">CHIC2</text><text x="472.1" y="131.3">LEMD3</text><text x="493.3" y="129.4">FMR1</text><text x="512.8" y="125.7">BRAF</text><text x="354.4" y="130.6">GLIS2</text><text x="374.8" y="132.8">PTPN11</text><text x="527.7" y="135.2">CTCF</text><text x="545.3" y="136.6">NF1</text><text x="356.6" y="138.6">MED12</text><text x="377.7" y="141.5">MLLT1</text><text x="396.4" y="140.1">MYC</text><text x="509.5" y="140.7">EP300</text><text x="357.3" y="147.4">ZBTB7A</text><text x="414.2" y="146.3">ZFP36L2</text><text x="435.4" y="145.9">TAL1</text><text x="534.3" y="146.9">RPL5</text><text x="497" y="150.4">RUNX1</text><text x="390.1" y="153.9">BCORL1</text><text x="428.8" y="154.7">MYCN</text><text x="453.1" y="154.7">SMARCB1</text><text x="537.2" y="155.6">NIPBL</text><text x="370.9" y="156.1">H1-1A</text><text x="410.6" y="158.6">FBN2</text><text x="473.3" y="162.7">MAX</text><text x="495.2" y="163.4">CHD4</text><text x="516.1" y="163.2">PIK3R1</text><text x="354.4" y="165.3">IL7R</text><text x="375.5" y="165.6">SELP</text><text x="393.8" y="162.7">CBL</text><text x="415.7" y="168.5">DHX15</text><text x="456.8" y="168.5">NSD2</text><text x="436.9" y="169.7">CCND2</text><text x="505.8" y="172.3">SF3B2</text><text x="526.2" y="172.3">KMT2C</text><text x="357.3" y="174.1">ZNF217</text><text x="383.6" y="174.1">CSF3R</text><text x="401.5" y="177.5">ZMIZ1</text><text x="466.7" y="177.8">STAG2</text><text x="504" y="180.4">PTEN</text><text x="538.3" y="179.8">TP53</text><text x="428.6" y="182.4">PHF6</text><text x="362.5" y="182.6">MGA</text><text x="382.2" y="184.0">RHOH</text><text x="403.2" y="187.0">TFAP4</text><text x="449.2" y="186.1">INO80</text><text x="494" y="188.6">CDKN2A</text><text x="353" y="191.7">TET2</text><text x="423.7" y="192.5">GATA1</text><text x="445.4" y="194.6">DGCR8</text><text x="369.9" y="196.5">SMC3</text><text x="390.8" y="195.7">GATA2</text><text x="469.8" y="195.8">SMARCA4</text><text x="535.5" y="197.9">KRAS</text><text x="515.3" y="201.7">PIK3CA</text><text x="434.1" y="203.4">TOX</text><text x="411.2" y="203.4">ACVR1</text><text x="485.2" y="204.0">RB1</text><text x="378.4" y="204.5">CNOT3</text><text x="468.9" y="207.5">ARID2</text><text x="504.8" y="210.1">NRAS</text><text x="448.3" y="212.5">KMT2A</text><text x="425.3" y="212.6">PIK3CD</text><text x="380.3" y="213.7">NPM1</text><text x="399.6" y="213.7">HDAC7</text><text x="476.8" y="216.3">GATA3</text><text x="511" y="218.6">ARID1A</text><text x="440" y="220.9">NCOR1</text><text x="469.8" y="225.0">CREBBP</text><text x="491.7" y="225.0">RPL22</text><text x="416.5" y="221.7">BAZ1A</text><text x="445.8" y="229.2">NOTCH1</text><text x="559.8" y="16.4">GABRG1</text><text x="586.6" y="21.5">CTDNEP1</text><text x="580.3" y="37.9">CHD7</text><text x="605" y="42.5">PFKP</text><text x="596.4" y="52.7">GPS2</text><text x="619.4" y="54.5">GPAM</text><text x="610.9" y="66.0">LDB1</text><text x="633.4" y="69.8">IFIT3</text><text x="615.3" y="82.8">LRRK2</text><text x="645.9" y="81.1">CSNK2B</text><text x="621.7" y="92.8">HSPA4</text><text x="653.6" y="89.7">DIAPH1</text><text x="642.3" y="98.2">NF2</text><text x="629.6" y="106.4">GNAS</text><text x="662.5" y="101.2">SPRED1</text><text x="636.5" y="119.6">DMXL2</text><text x="667.9" y="113.2">LRRK1</text><text x="636.3" y="131.2">TRIM27</text><text x="672.3" y="135.0">CHD8</text><text x="652.2" y="139.7">ITGA4</text><text x="678.7" y="143.5">WNK1</text><text x="676.5" y="152.4">MAP2K1</text><text x="635.3" y="156.2">PPP2R1A</text><text x="673.4" y="161.9">SNRK</text><text x="651.1" y="167.2">MAP2K4</text><text x="628.9" y="167.2">BRCA1</text><text x="646.9" y="178.9">HCFC2</text><text x="674.4" y="182.7">PCM1</text><text x="671.5" y="192.6">POLE</text><text x="627.8" y="199.5">ARID5B</text><text x="654" y="201.6">TBX3</text><text x="634.5" y="207.8">LATS1</text><text x="666" y="214.4">PIK3R3</text><text x="628.9" y="221.4">TAF1</text><text x="658.5" y="226.5">MORC4</text><text x="621.5" y="234.9">LARP7</text><text x="654.3" y="237.7">CASP8</text><text x="651.1" y="248.9">MAP3K1</text><text x="619.4" y="248.3">B2M</text><text x="642.7" y="259.5">RASA1</text><text x="620.8" y="267.8">ZC3H13</text><text x="580.6" y="230.7">MEN1</text><text x="595" y="243.4">BAP1</text><text x="562.9" y="252.5">ATM</text><text x="580.2" y="263.1">CCND1</text><text x="565.8" y="277.6">BRD8</text><text x="584.3" y="276.0">AXIN1</text><text x="549.2" y="279.4">MPL</text><text x="597.4" y="284.9">H4C2</text><text x="534.2" y="285.0">H1-2</text><text x="574.9" y="290.0">WWP1</text><text x="594.2" y="294.6">BRD7</text><text x="551.3" y="296.8">MAP2K3</text><text x="579" y="303.0">BPTF</text><text x="553.4" y="306.7">EEF1A1</text><text x="582.6" y="312.2">HNRNPA2B1</text><text x="537.6" y="316.5">SAMD9L</text><text x="570.1" y="320.1">ADH1B</text><text x="556.7" y="328.5">TSC2</text><text x="530.2" y="325.7">DSE</text><text x="540" y="334.1">AZIN1</text><text x="519.1" y="337.5">ARID1B</text><text x="495.8" y="338.2">BABAM2</text><text x="505.1" y="327.7">RPS6KA3</text><text x="518" y="311.3">CSMD3</text><text x="521.5" y="301.3">DMXL1</text><text x="495.8" y="305.0">ELMO1</text><text x="494.6" y="295.0">ZNF226</text><text x="485.3" y="320.6">BAZ2B</text><text x="473.6" y="335.8">KEAP1</text><text x="454.9" y="332.8">IL6ST</text><text x="468.4" y="324.9">ALB</text><text x="474.7" y="310.8">APOB</text><text x="436.9" y="324.6">LZTR1</text><text x="454.9" y="315.3">AHCTF1</text><text x="467.7" y="302.4">USP25</text><text x="472.4" y="293.1">TSC1</text><text x="436.2" y="311.8">UBR3</text><text x="443.9" y="302.4">ERRFI1</text><text x="416.4" y="304.3">NFE2L2</text><text x="454.2" y="291.5">NLRP1</text><text x="435.5" y="291.5">IRF2</text><text x="417.5" y="294.3">SRCAP</text></g>
<g class="gl" text-anchor="middle"><text x="410.1" y="53.6">SUFU</text><text x="409.1" y="62.5">P2RY8</text><text x="427.4" y="59.1">IDH1</text><text x="446.8" y="56.6">CCND3</text><text x="474.5" y="49.6">FBXO11</text><text x="466.2" y="58.8">USP7</text><text x="485.5" y="60.9">ATF7IP</text><text x="398.9" y="70.8">BTG1</text><text x="428.8" y="71.5">STAT5B</text><text x="449.7" y="67.9">IKZF1</text><text x="469.4" y="69.6">ASXL2</text><text x="492.8" y="69.6">USP9X</text><text x="383.3" y="79.3">ASXL1</text><text x="410.1" y="80.0">SHANK2</text><text x="451.6" y="78.8">DNM2</text><text x="492.8" y="79.8">ELF1</text><text x="511.8" y="77.8">BCOR</text><text x="374.8" y="87.6">ERG</text><text x="393.8" y="88.6">PCBP1</text><text x="433.2" y="85.1">COL1A1</text><text x="470.1" y="83.2">SUZ12</text><text x="517.6" y="88.0">DDX3X</text><text x="491.3" y="89.5">CARD11</text><text x="365.8" y="96.3">JAK1</text><text x="413.1" y="92.0">RPL13</text><text x="452.6" y="91.5">BCR</text><text x="470.1" y="92.4">PTPN2</text><text x="520.5" y="96.8">KMT2D</text><text x="394.5" y="97.8">ARL1</text><text x="426.2" y="100.3">TBR1</text><text x="443.4" y="100.3">AMHR2</text><text x="479.6" y="100.7">LAPTM4B</text><text x="499.3" y="97.8">PTCH1</text><text x="364.6" y="104.7">EED</text><text x="381.4" y="106.9">TCF3</text><text x="415.4" y="108.8">ADD3</text><text x="440.5" y="109.5">NUP214</text><text x="462.1" y="109.0">SH2B3</text><text x="491.3" y="109.5">JAK2</text><text x="510" y="106.2">ZMYM3</text><text x="532.1" y="105.7">PTPRD</text><text x="356.6" y="113.1">JAK3</text><text x="390.9" y="114.6">MEF2D</text><text x="409.9" y="116.8">GNB1</text><text x="427.4" y="119.0">NUP98</text><text x="451.7" y="119.6">U2AF1</text><text x="473.6" y="119.6">PDGFRA</text><text x="495.2" y="120.7">ZIC1</text><text x="513.4" y="116.9">ATRX</text><text x="532.8" y="114.4">KIT</text><text x="373.4" y="118.2">ID3</text><text x="356.6" y="121.8">MLLT10</text><text x="390.9" y="125.5">HDAC2</text><text x="412.8" y="129.1">TSPYL2</text><text x="436.9" y="128.0">CHIC2</text><text x="472.1" y="131.3">LEMD3</text><text x="493.3" y="129.4">FMR1</text><text x="512.8" y="125.7">BRAF</text><text x="354.4" y="130.6">GLIS2</text><text x="374.8" y="132.8">PTPN11</text><text x="527.7" y="135.2">CTCF</text><text x="545.3" y="136.6">NF1</text><text x="356.6" y="138.6">MED12</text><text x="377.7" y="141.5">MLLT1</text><text x="396.4" y="140.1">MYC</text><text x="509.5" y="140.7">EP300</text><text x="357.3" y="147.4">ZBTB7A</text><text x="414.2" y="146.3">ZFP36L2</text><text x="435.4" y="145.9">TAL1</text><text x="534.3" y="146.9">RPL5</text><text x="497" y="150.4">RUNX1</text><text x="390.1" y="153.9">BCORL1</text><text x="428.8" y="154.7">MYCN</text><text x="453.1" y="154.7">SMARCB1</text><text x="537.2" y="155.6">NIPBL</text><text x="370.9" y="156.1">H1-1A</text><text x="410.6" y="158.6">FBN2</text><text x="473.3" y="162.7">MAX</text><text x="495.2" y="163.4">CHD4</text><text x="516.1" y="163.2">PIK3R1</text><text x="354.4" y="165.3">IL7R</text><text x="375.5" y="165.6">SELP</text><text x="393.8" y="162.7">CBL</text><text x="415.7" y="168.5">DHX15</text><text x="456.8" y="168.5">NSD2</text><text x="436.9" y="169.7">CCND2</text><text x="505.8" y="172.3">SF3B2</text><text x="526.2" y="172.3">KMT2C</text><text x="357.3" y="174.1">ZNF217</text><text x="383.6" y="174.1">CSF3R</text><text x="401.5" y="177.5">ZMIZ1</text><text x="466.7" y="177.8">STAG2</text><text x="504" y="180.4">PTEN</text><text x="538.3" y="179.8">TP53</text><text x="428.6" y="182.4">PHF6</text><text x="362.5" y="182.6">MGA</text><text x="382.2" y="184.0">RHOH</text><text x="403.2" y="187.0">TFAP4</text><text x="449.2" y="186.1">INO80</text><text x="494" y="188.6">CDKN2A</text><text x="353" y="191.7">TET2</text><text x="423.7" y="192.5">GATA1</text><text x="445.4" y="194.6">DGCR8</text><text x="369.9" y="196.5">SMC3</text><text x="390.8" y="195.7">GATA2</text><text x="469.8" y="195.8">SMARCA4</text><text x="535.5" y="197.9">KRAS</text><text x="515.3" y="201.7">PIK3CA</text><text x="434.1" y="203.4">TOX</text><text x="411.2" y="203.4">ACVR1</text><text x="485.2" y="204.0">RB1</text><text x="378.4" y="204.5">CNOT3</text><text x="468.9" y="207.5">ARID2</text><text x="504.8" y="210.1">NRAS</text><text x="448.3" y="212.5">KMT2A</text><text x="425.3" y="212.6">PIK3CD</text><text x="380.3" y="213.7">NPM1</text><text x="399.6" y="213.7">HDAC7</text><text x="476.8" y="216.3">GATA3</text><text x="511" y="218.6">ARID1A</text><text x="440" y="220.9">NCOR1</text><text x="469.8" y="225.0">CREBBP</text><text x="491.7" y="225.0">RPL22</text><text x="416.5" y="221.7">BAZ1A</text><text x="445.8" y="229.2">NOTCH1</text><text x="559.8" y="16.4">GABRG1</text><text x="586.6" y="21.5">CTDNEP1</text><text x="580.3" y="37.9">CHD7</text><text x="605" y="42.5">PFKP</text><text x="596.4" y="52.7">GPS2</text><text x="619.4" y="54.5">GPAM</text><text x="610.9" y="66.0">LDB1</text><text x="633.4" y="69.8">IFIT3</text><text x="615.3" y="82.8">LRRK2</text><text x="645.9" y="81.1">CSNK2B</text><text x="621.7" y="92.8">HSPA4</text><text x="653.6" y="89.7">DIAPH1</text><text x="642.3" y="98.2">NF2</text><text x="629.6" y="106.4">GNAS</text><text x="662.5" y="101.2">SPRED1</text><text x="636.5" y="119.6">DMXL2</text><text x="667.9" y="113.2">LRRK1</text><text x="636.3" y="131.2">TRIM27</text><text x="672.3" y="135.0">CHD8</text><text x="652.2" y="139.7">ITGA4</text><text x="678.7" y="143.5">WNK1</text><text x="676.5" y="152.4">MAP2K1</text><text x="635.3" y="156.2">PPP2R1A</text><text x="673.4" y="161.9">SNRK</text><text x="651.1" y="167.2">MAP2K4</text><text x="628.9" y="167.2">BRCA1</text><text x="646.9" y="178.9">HCFC2</text><text x="674.4" y="182.7">PCM1</text><text x="671.5" y="192.6">POLE</text><text x="627.8" y="199.5">ARID5B</text><text x="654" y="201.6">TBX3</text><text x="634.5" y="207.8">LATS1</text><text x="666" y="214.4">PIK3R3</text><text x="628.9" y="221.4">TAF1</text><text x="658.5" y="226.5">MORC4</text><text x="621.5" y="234.9">LARP7</text><text x="654.3" y="237.7">CASP8</text><text x="651.1" y="248.9">MAP3K1</text><text x="619.4" y="248.3">B2M</text><text x="642.7" y="259.5">RASA1</text><text x="620.8" y="267.8">ZC3H13</text><text x="580.6" y="230.7">MEN1</text><text x="595" y="243.4">BAP1</text><text x="562.9" y="252.5">ATM</text><text x="580.2" y="263.1">CCND1</text><text x="565.8" y="277.6">BRD8</text><text x="584.3" y="276.0">AXIN1</text><text x="549.2" y="279.4">MPL</text><text x="597.4" y="284.9">H4C2</text><text x="534.2" y="285.0">H1-2</text><text x="574.9" y="290.0">WWP1</text><text x="594.2" y="294.6">BRD7</text><text x="551.3" y="296.8">MAP2K3</text><text x="579" y="303.0">BPTF</text><text x="553.4" y="306.7">EEF1A1</text><text x="582.6" y="312.2">HNRNPA2B1</text><text x="537.6" y="316.5">SAMD9L</text><text x="570.1" y="320.1">ADH1B</text><text x="556.7" y="328.5">TSC2</text><text x="530.2" y="325.7">DSE</text><text x="540" y="334.1">AZIN1</text><text x="519.1" y="337.5">ARID1B</text><text x="495.8" y="338.2">BABAM2</text><text x="505.1" y="327.7">RPS6KA3</text><text x="518" y="311.3">CSMD3</text><text x="521.5" y="301.3">DMXL1</text><text x="495.8" y="305.0">ELMO1</text><text x="494.6" y="295.0">ZNF226</text><text x="485.3" y="320.6">BAZ2B</text><text x="473.6" y="335.8">KEAP1</text><text x="454.9" y="332.8">IL6ST</text><text x="468.4" y="324.9">ALB</text><text x="474.7" y="310.8">APOB</text><text x="436.9" y="324.6">LZTR1</text><text x="454.9" y="315.3">AHCTF1</text><text x="467.7" y="302.4">USP25</text><text x="472.4" y="293.1">TSC1</text><text x="436.2" y="311.8">UBR3</text><text x="443.9" y="302.4">ERRFI1</text><text x="416.4" y="304.3">NFE2L2</text><text x="454.2" y="291.5">NLRP1</text><text x="435.5" y="291.5">IRF2</text><text x="417.5" y="294.3">SRCAP</text></g>
<text x="455.45" y="138.7" text-anchor="middle" class="catl" style="font-size:9.49px">pan-cancer_paediatric</text>
<text x="455.45" y="138.7" text-anchor="middle" class="catl2" style="font-size:9.49px">pan-cancer_paediatric</text>
<text x="560.0" y="124.2" text-anchor="middle" class="catl" style="font-size:9.49px">medulloblastoma</text>
<text x="560.0" y="124.2" text-anchor="middle" class="catl2" style="font-size:9.49px">medulloblastoma</text>
<text x="596.1" y="148.1" text-anchor="middle" class="catl" style="font-size:9.6px">mucosal_melanoma</text>
<text x="596.1" y="148.1" text-anchor="middle" class="catl2" style="font-size:9.6px">mucosal_melanoma</text>
<text x="584.15" y="191.4" text-anchor="middle" class="catl" style="font-size:9.6px">pan-gynecological and breast</text>
<text x="584.15" y="191.4" text-anchor="middle" class="catl2" style="font-size:9.6px">pan-gynecological and breast</text>
<text x="503.3" y="268.7" text-anchor="middle" class="catl" style="font-size:9.58px">hepatocellular_carcinoma</text>
<text x="503.3" y="268.7" text-anchor="middle" class="catl2" style="font-size:9.58px">hepatocellular_carcinoma</text>
<rect x="48.8" y="365.45" width="1.76" height="2.05" fill="#E46C0A"/>
<rect x="48.8" y="367.60" width="2.08" height="1.85" fill="#9B9B9B"/>
<rect x="48.8" y="369.54" width="1.76" height="2.05" fill="#E46C0A"/>
<rect x="48.8" y="373.62" width="15.30" height="2.05" fill="#E46C0A"/>
<rect x="48.8" y="375.77" width="4.32" height="1.85" fill="#9B9B9B"/>
<rect x="48.8" y="377.71" width="7.20" height="2.05" fill="#E46C0A"/>
<rect x="48.8" y="381.79" width="17.06" height="2.05" fill="#E46C0A"/>
<rect x="48.8" y="383.94" width="9.91" height="1.85" fill="#9B9B9B"/>
<rect x="48.8" y="385.88" width="1.76" height="2.05" fill="#E46C0A"/>
<rect x="48.8" y="388.03" width="1.49" height="1.85" fill="#9B9B9B"/>
<rect x="48.8" y="389.96" width="3.30" height="2.05" fill="#E46C0A"/>
<rect x="48.8" y="394.05" width="11.19" height="2.05" fill="#E46C0A"/>
<rect x="48.8" y="396.20" width="8.90" height="1.85" fill="#9B9B9B"/>
<rect x="48.8" y="398.14" width="15.30" height="2.05" fill="#E46C0A"/>
<rect x="48.8" y="400.29" width="9.91" height="1.85" fill="#9B9B9B"/>
<rect x="48.8" y="402.22" width="9.22" height="2.05" fill="#E46C0A"/>
<rect x="48.8" y="404.37" width="17.32" height="1.85" fill="#9B9B9B"/>
<rect x="48.8" y="406.31" width="7.20" height="2.05" fill="#E46C0A"/>
<rect x="48.8" y="408.46" width="0.75" height="1.85" fill="#9B9B9B"/>
<rect x="48.8" y="410.39" width="11.19" height="2.05" fill="#E46C0A"/>
<rect x="48.8" y="412.54" width="7.20" height="1.85" fill="#9B9B9B"/>
<rect x="48.8" y="414.48" width="7.20" height="2.05" fill="#E46C0A"/>
<rect x="48.8" y="416.63" width="1.76" height="1.85" fill="#9B9B9B"/>
<rect x="48.8" y="418.57" width="5.65" height="2.05" fill="#E46C0A"/>
<rect x="48.8" y="420.72" width="2.77" height="1.85" fill="#9B9B9B"/>
<rect x="48.8" y="422.65" width="7.20" height="2.05" fill="#E46C0A"/>
<rect x="48.8" y="424.80" width="2.08" height="1.85" fill="#9B9B9B"/>
<rect x="48.8" y="426.74" width="5.65" height="2.05" fill="#E46C0A"/>
<rect x="48.8" y="428.89" width="1.76" height="1.85" fill="#9B9B9B"/>
<rect x="48.8" y="430.82" width="3.30" height="2.05" fill="#E46C0A"/>
<rect x="48.8" y="432.97" width="1.76" height="1.85" fill="#9B9B9B"/>
<rect x="48.8" y="434.91" width="23.13" height="2.05" fill="#E46C0A"/>
<rect x="48.8" y="437.06" width="6.34" height="1.85" fill="#9B9B9B"/>
<rect x="48.8" y="438.99" width="1.76" height="2.05" fill="#E46C0A"/>
<rect x="48.8" y="443.08" width="3.30" height="2.05" fill="#E46C0A"/>
<rect x="48.8" y="447.17" width="5.65" height="2.05" fill="#E46C0A"/>
<rect x="48.8" y="451.25" width="1.76" height="2.05" fill="#E46C0A"/>
<rect x="48.8" y="453.40" width="1.76" height="1.85" fill="#9B9B9B"/>
<rect x="48.8" y="455.34" width="1.76" height="2.05" fill="#E46C0A"/>
<rect x="48.8" y="459.42" width="28.73" height="2.05" fill="#E46C0A"/>
<rect x="48.8" y="461.57" width="18.07" height="1.85" fill="#9B9B9B"/>
<rect x="48.8" y="463.51" width="49.78" height="2.05" fill="#E46C0A"/>
<rect x="48.8" y="465.66" width="38.22" height="1.85" fill="#9B9B9B"/>
<rect x="48.8" y="467.59" width="26.38" height="2.05" fill="#E46C0A"/>
<rect x="48.8" y="469.74" width="21.91" height="1.85" fill="#9B9B9B"/>
<rect x="48.8" y="471.68" width="11.14" height="2.05" fill="#E46C0A"/>
<rect x="48.8" y="473.83" width="1.76" height="1.85" fill="#9B9B9B"/>
<rect x="48.8" y="475.77" width="5.65" height="2.05" fill="#E46C0A"/>
<rect x="48.8" y="477.92" width="1.28" height="1.85" fill="#9B9B9B"/>
<rect x="48.8" y="479.85" width="26.38" height="2.05" fill="#E46C0A"/>
<rect x="48.8" y="482.00" width="26.38" height="1.85" fill="#9B9B9B"/>
<rect x="48.8" y="483.94" width="1.60" height="2.05" fill="#E46C0A"/>
<rect x="48.8" y="486.09" width="2.77" height="1.85" fill="#9B9B9B"/>
<rect x="48.8" y="488.02" width="3.09" height="2.05" fill="#E46C0A"/>
<rect x="48.8" y="490.17" width="1.07" height="1.85" fill="#9B9B9B"/>
<rect x="48.8" y="492.11" width="19.08" height="2.05" fill="#E46C0A"/>
<rect x="48.8" y="494.26" width="11.19" height="1.85" fill="#9B9B9B"/>
<rect x="48.8" y="496.20" width="1.60" height="2.05" fill="#E46C0A"/>
<rect x="48.8" y="500.28" width="9.22" height="2.05" fill="#E46C0A"/>
<rect x="48.8" y="502.43" width="1.76" height="1.85" fill="#9B9B9B"/>
<rect x="48.8" y="504.37" width="1.60" height="2.05" fill="#E46C0A"/>
<rect x="48.8" y="506.52" width="4.32" height="1.85" fill="#9B9B9B"/>
<rect x="48.8" y="508.45" width="9.22" height="2.05" fill="#E46C0A"/>
<rect x="48.8" y="510.60" width="6.13" height="1.85" fill="#9B9B9B"/>
<rect x="48.8" y="512.54" width="3.09" height="2.05" fill="#E46C0A"/>
<rect x="48.8" y="516.62" width="15.19" height="2.05" fill="#E46C0A"/>
<rect x="48.8" y="518.77" width="6.13" height="1.85" fill="#9B9B9B"/>
<rect x="48.8" y="520.71" width="15.19" height="2.05" fill="#E46C0A"/>
<rect x="48.8" y="522.86" width="6.13" height="1.85" fill="#9B9B9B"/>
<rect x="48.8" y="524.80" width="7.20" height="2.05" fill="#E46C0A"/>
<rect x="48.8" y="526.95" width="7.89" height="1.85" fill="#9B9B9B"/>
<rect x="48.8" y="528.88" width="7.20" height="2.05" fill="#E46C0A"/>
<rect x="48.8" y="531.03" width="2.77" height="1.85" fill="#9B9B9B"/>
<rect x="48.8" y="532.97" width="1.76" height="2.05" fill="#E46C0A"/>
<rect x="48.8" y="537.05" width="1.76" height="2.05" fill="#E46C0A"/>
<rect x="48.8" y="541.14" width="1.76" height="2.05" fill="#E46C0A"/>
<rect x="48.8" y="545.23" width="30.27" height="2.05" fill="#E46C0A"/>
<rect x="48.8" y="547.38" width="27.40" height="1.85" fill="#9B9B9B"/>
<rect x="48.8" y="549.31" width="5.65" height="2.05" fill="#E46C0A"/>
<rect x="48.8" y="551.46" width="12.15" height="1.85" fill="#9B9B9B"/>
<rect x="48.8" y="553.40" width="26.38" height="2.05" fill="#E46C0A"/>
<rect x="48.8" y="555.55" width="12.15" height="1.85" fill="#9B9B9B"/>
<rect x="48.8" y="557.48" width="17.06" height="2.05" fill="#E46C0A"/>
<rect x="48.8" y="559.63" width="8.21" height="1.85" fill="#9B9B9B"/>
<rect x="48.8" y="561.57" width="13.17" height="2.05" fill="#E46C0A"/>
<rect x="48.8" y="563.72" width="8.90" height="1.85" fill="#9B9B9B"/>
<rect x="48.8" y="565.65" width="5.65" height="2.05" fill="#E46C0A"/>
<rect x="48.8" y="567.80" width="5.65" height="1.85" fill="#9B9B9B"/>
<rect x="48.8" y="569.74" width="11.19" height="2.05" fill="#E46C0A"/>
<rect x="48.8" y="571.89" width="1.76" height="1.85" fill="#9B9B9B"/>
<rect x="48.8" y="573.83" width="5.65" height="2.05" fill="#E46C0A"/>
<rect x="48.8" y="575.98" width="9.22" height="1.85" fill="#9B9B9B"/>
<rect x="48.8" y="577.91" width="3.30" height="2.05" fill="#E46C0A"/>
<rect x="48.8" y="580.06" width="1.28" height="1.85" fill="#9B9B9B"/>
<rect x="48.8" y="582.00" width="19.08" height="2.05" fill="#E46C0A"/>
<rect x="48.8" y="584.15" width="10.23" height="1.85" fill="#9B9B9B"/>
<rect x="48.8" y="586.08" width="1.76" height="2.05" fill="#E46C0A"/>
<rect x="48.8" y="588.23" width="0.75" height="1.85" fill="#9B9B9B"/>
<rect x="48.8" y="590.17" width="11.19" height="2.05" fill="#E46C0A"/>
<rect x="48.8" y="592.32" width="11.19" height="1.85" fill="#9B9B9B"/>
<rect x="48.8" y="594.25" width="7.20" height="2.05" fill="#E46C0A"/>
<rect x="48.8" y="598.34" width="1.76" height="2.05" fill="#E46C0A"/>
<rect x="48.8" y="602.43" width="15.19" height="2.05" fill="#E46C0A"/>
<rect x="48.8" y="604.58" width="10.23" height="1.85" fill="#9B9B9B"/>
<rect x="48.8" y="606.51" width="36.14" height="2.05" fill="#E46C0A"/>
<rect x="48.8" y="608.66" width="17.06" height="1.85" fill="#9B9B9B"/>
<rect x="48.8" y="610.60" width="13.17" height="2.05" fill="#E46C0A"/>
<rect x="48.8" y="612.75" width="6.13" height="1.85" fill="#9B9B9B"/>
<rect x="48.8" y="614.68" width="19.08" height="2.05" fill="#E46C0A"/>
<rect x="48.8" y="616.83" width="12.15" height="1.85" fill="#9B9B9B"/>
<rect x="48.8" y="618.77" width="3.30" height="2.05" fill="#E46C0A"/>
<rect x="48.8" y="620.92" width="1.76" height="1.85" fill="#9B9B9B"/>
<rect x="48.8" y="622.86" width="24.14" height="2.05" fill="#E46C0A"/>
<rect x="48.8" y="625.01" width="9.22" height="1.85" fill="#9B9B9B"/>
<rect x="48.8" y="626.94" width="17.06" height="2.05" fill="#E46C0A"/>
<rect x="48.8" y="629.09" width="15.83" height="1.85" fill="#9B9B9B"/>
<rect x="48.8" y="631.03" width="3.09" height="2.05" fill="#E46C0A"/>
<rect x="48.8" y="633.18" width="0.75" height="1.85" fill="#9B9B9B"/>
<rect x="48.8" y="635.11" width="1.76" height="2.05" fill="#E46C0A"/>
<rect x="48.8" y="639.20" width="5.65" height="2.05" fill="#E46C0A"/>
<rect x="48.8" y="643.28" width="3.09" height="2.05" fill="#E46C0A"/>
<rect x="48.8" y="645.43" width="4.32" height="1.85" fill="#9B9B9B"/>
<rect x="48.8" y="647.37" width="24.14" height="2.05" fill="#E46C0A"/>
<rect x="48.8" y="649.52" width="11.19" height="1.85" fill="#9B9B9B"/>
<rect x="48.8" y="651.46" width="1.76" height="2.05" fill="#E46C0A"/>
<rect x="48.8" y="655.54" width="15.19" height="2.05" fill="#E46C0A"/>
<rect x="48.8" y="657.69" width="11.19" height="1.85" fill="#9B9B9B"/>
<rect x="48.8" y="659.63" width="3.09" height="2.05" fill="#E46C0A"/>
<rect x="48.8" y="661.78" width="0.75" height="1.85" fill="#9B9B9B"/>
<rect x="48.8" y="663.71" width="9.22" height="2.05" fill="#E46C0A"/>
<rect x="48.8" y="665.86" width="5.12" height="1.85" fill="#9B9B9B"/>
<rect x="48.8" y="667.80" width="17.06" height="2.05" fill="#E46C0A"/>
<rect x="48.8" y="669.95" width="6.13" height="1.85" fill="#9B9B9B"/>
<rect x="48.8" y="671.88" width="15.19" height="2.05" fill="#E46C0A"/>
<rect x="48.8" y="674.03" width="14.82" height="1.85" fill="#9B9B9B"/>
<rect x="48.8" y="675.97" width="17.06" height="2.05" fill="#E46C0A"/>
<rect x="48.8" y="678.12" width="12.15" height="1.85" fill="#9B9B9B"/>
<rect x="48.8" y="680.06" width="1.76" height="2.05" fill="#E46C0A"/>
<rect x="48.8" y="684.14" width="7.20" height="2.05" fill="#E46C0A"/>
<rect x="48.8" y="686.29" width="4.32" height="1.85" fill="#9B9B9B"/>
<rect x="48.8" y="688.23" width="32.30" height="2.05" fill="#E46C0A"/>
<rect x="48.8" y="690.38" width="8.21" height="1.85" fill="#9B9B9B"/>
<rect x="48.8" y="692.31" width="9.22" height="2.05" fill="#E46C0A"/>
<rect x="48.8" y="694.46" width="7.89" height="1.85" fill="#9B9B9B"/>
<rect x="48.8" y="696.40" width="1.76" height="2.05" fill="#E46C0A"/>
<rect x="48.8" y="700.49" width="9.22" height="2.05" fill="#E46C0A"/>
<rect x="48.8" y="702.64" width="3.09" height="1.85" fill="#9B9B9B"/>
<rect x="48.8" y="704.57" width="19.08" height="2.05" fill="#E46C0A"/>
<rect x="48.8" y="706.72" width="7.89" height="1.85" fill="#9B9B9B"/>
<rect x="48.8" y="708.66" width="5.65" height="2.05" fill="#E46C0A"/>
<rect x="48.8" y="710.81" width="13.17" height="1.85" fill="#9B9B9B"/>
<rect x="48.8" y="712.74" width="7.20" height="2.05" fill="#E46C0A"/>
<rect x="48.8" y="714.89" width="2.08" height="1.85" fill="#9B9B9B"/>
<rect x="48.8" y="716.83" width="47.54" height="2.05" fill="#E46C0A"/>
<rect x="48.8" y="718.98" width="50.90" height="1.85" fill="#9B9B9B"/>
<rect x="48.8" y="720.91" width="3.30" height="2.05" fill="#E46C0A"/>
<rect x="48.8" y="723.06" width="0.75" height="1.85" fill="#9B9B9B"/>
<rect x="48.8" y="725.00" width="3.30" height="2.05" fill="#E46C0A"/>
<rect x="48.8" y="727.15" width="8.21" height="1.85" fill="#9B9B9B"/>
<rect x="48.8" y="729.09" width="23.13" height="2.05" fill="#E46C0A"/>
<rect x="48.8" y="731.24" width="15.19" height="1.85" fill="#9B9B9B"/>
<rect x="48.8" y="733.17" width="5.65" height="2.05" fill="#E46C0A"/>
<rect x="48.8" y="737.26" width="9.22" height="2.05" fill="#E46C0A"/>
<rect x="48.8" y="739.41" width="4.10" height="1.85" fill="#9B9B9B"/>
<rect x="48.8" y="741.34" width="7.20" height="2.05" fill="#E46C0A"/>
<rect x="48.8" y="743.49" width="2.77" height="1.85" fill="#9B9B9B"/>
<rect x="48.8" y="745.43" width="3.30" height="2.05" fill="#E46C0A"/>
<rect x="48.8" y="749.52" width="24.14" height="2.05" fill="#E46C0A"/>
<rect x="48.8" y="751.67" width="20.63" height="1.85" fill="#9B9B9B"/>
<rect x="48.8" y="753.60" width="1.76" height="2.05" fill="#E46C0A"/>
<rect x="48.8" y="757.69" width="36.14" height="2.05" fill="#E46C0A"/>
<rect x="48.8" y="759.84" width="9.22" height="1.85" fill="#9B9B9B"/>
<rect x="48.8" y="761.77" width="3.30" height="2.05" fill="#E46C0A"/>
<rect x="48.8" y="765.86" width="20.63" height="2.05" fill="#E46C0A"/>
<rect x="48.8" y="768.01" width="12.15" height="1.85" fill="#9B9B9B"/>
<rect x="48.8" y="769.94" width="1.76" height="2.05" fill="#E46C0A"/>
<rect x="48.8" y="772.09" width="3.09" height="1.85" fill="#9B9B9B"/>
<rect x="48.8" y="774.03" width="9.22" height="2.05" fill="#E46C0A"/>
<rect x="48.8" y="776.18" width="6.13" height="1.85" fill="#9B9B9B"/>
<rect x="48.8" y="778.12" width="1.76" height="2.05" fill="#E46C0A"/>
<rect x="48.8" y="782.20" width="11.19" height="2.05" fill="#E46C0A"/>
<rect x="48.8" y="784.35" width="7.20" height="1.85" fill="#9B9B9B"/>
<rect x="48.8" y="786.29" width="9.22" height="2.05" fill="#E46C0A"/>
<rect x="48.8" y="788.44" width="4.10" height="1.85" fill="#9B9B9B"/>
<rect x="48.8" y="790.37" width="7.20" height="2.05" fill="#E46C0A"/>
<rect x="48.8" y="792.52" width="6.13" height="1.85" fill="#9B9B9B"/>
<rect x="48.8" y="794.46" width="5.65" height="2.05" fill="#E46C0A"/>
<rect x="48.8" y="796.61" width="2.08" height="1.85" fill="#9B9B9B"/>
<rect x="48.8" y="798.54" width="2.08" height="2.05" fill="#E46C0A"/>
<rect x="48.8" y="802.63" width="19.08" height="2.05" fill="#E46C0A"/>
<rect x="48.8" y="804.78" width="8.21" height="1.85" fill="#9B9B9B"/>
<rect x="48.8" y="806.72" width="1.76" height="2.05" fill="#E46C0A"/>
<rect x="48.8" y="810.80" width="17.06" height="2.05" fill="#E46C0A"/>
<rect x="48.8" y="812.95" width="4.10" height="1.85" fill="#9B9B9B"/>
<rect x="48.8" y="814.89" width="1.76" height="2.05" fill="#E46C0A"/>
<rect x="48.8" y="818.97" width="1.76" height="2.05" fill="#E46C0A"/>
<rect x="48.8" y="821.12" width="3.09" height="1.85" fill="#9B9B9B"/>
<rect x="48.8" y="823.06" width="17.06" height="2.05" fill="#E46C0A"/>
<rect x="48.8" y="825.21" width="8.21" height="1.85" fill="#9B9B9B"/>
<rect x="48.8" y="827.15" width="1.76" height="2.05" fill="#E46C0A"/>
<rect x="48.8" y="831.23" width="15.19" height="2.05" fill="#E46C0A"/>
<rect x="48.8" y="833.38" width="11.19" height="1.85" fill="#9B9B9B"/>
<rect x="48.8" y="835.32" width="1.76" height="2.05" fill="#E46C0A"/>
<rect x="48.8" y="839.40" width="3.09" height="2.05" fill="#E46C0A"/>
<rect x="48.8" y="841.55" width="2.77" height="1.85" fill="#9B9B9B"/>
<path d="M102.10 364.2H48.8V844.4H102.10" fill="none" stroke="#000" stroke-width="1.05"/>
<path d="M102.10 362.59999999999997V366.0M102.10 842.6V846.0" stroke="#000" stroke-width="0.9"/>
<line x1="48.80" y1="364.2" x2="48.80" y2="362.59999999999997" stroke="#000" stroke-width="0.8"/>
<line x1="48.80" y1="844.4" x2="48.80" y2="846.0" stroke="#000" stroke-width="0.8"/>
<text transform="translate(48.20,361.80) rotate(-45)" class="ct">0</text>
<text transform="translate(49.70,851.80) rotate(-45)" text-anchor="end" class="ct">0</text>
<line x1="59.46" y1="364.2" x2="59.46" y2="362.59999999999997" stroke="#000" stroke-width="0.8"/>
<line x1="59.46" y1="844.4" x2="59.46" y2="846.0" stroke="#000" stroke-width="0.8"/>
<text transform="translate(58.86,361.80) rotate(-45)" class="ct">20</text>
<text transform="translate(60.36,851.80) rotate(-45)" text-anchor="end" class="ct">20</text>
<line x1="70.12" y1="364.2" x2="70.12" y2="362.59999999999997" stroke="#000" stroke-width="0.8"/>
<line x1="70.12" y1="844.4" x2="70.12" y2="846.0" stroke="#000" stroke-width="0.8"/>
<text transform="translate(69.52,361.80) rotate(-45)" class="ct">40</text>
<text transform="translate(71.02,851.80) rotate(-45)" text-anchor="end" class="ct">40</text>
<line x1="80.78" y1="364.2" x2="80.78" y2="362.59999999999997" stroke="#000" stroke-width="0.8"/>
<line x1="80.78" y1="844.4" x2="80.78" y2="846.0" stroke="#000" stroke-width="0.8"/>
<text transform="translate(80.18,361.80) rotate(-45)" class="ct">60</text>
<text transform="translate(81.68,851.80) rotate(-45)" text-anchor="end" class="ct">60</text>
<line x1="91.44" y1="364.2" x2="91.44" y2="362.59999999999997" stroke="#000" stroke-width="0.8"/>
<line x1="91.44" y1="844.4" x2="91.44" y2="846.0" stroke="#000" stroke-width="0.8"/>
<text transform="translate(90.84,361.80) rotate(-45)" class="ct">80</text>
<text transform="translate(92.34,851.80) rotate(-45)" text-anchor="end" class="ct">80</text>
<line x1="102.10" y1="364.2" x2="102.10" y2="362.59999999999997" stroke="#000" stroke-width="0.8"/>
<line x1="102.10" y1="844.4" x2="102.10" y2="846.0" stroke="#000" stroke-width="0.8"/>
<text transform="translate(101.50,361.80) rotate(-45)" class="ct">100</text>
<text transform="translate(103.00,851.80) rotate(-45)" text-anchor="end" class="ct">100</text>
<line x1="46.20" y1="367.45" x2="48.8" y2="367.45" stroke="#000" stroke-width="0.9"/>
<text x="45.3" y="368.95" text-anchor="end" class="cg">AKT1</text>
<line x1="46.20" y1="371.54" x2="48.8" y2="371.54" stroke="#000" stroke-width="0.9"/>
<text x="45.3" y="373.04" text-anchor="end" class="cg">ALK</text>
<line x1="46.20" y1="375.62" x2="48.8" y2="375.62" stroke="#000" stroke-width="0.9"/>
<text x="45.3" y="377.12" text-anchor="end" class="cg">ALOX12</text>
<line x1="46.20" y1="379.71" x2="48.8" y2="379.71" stroke="#000" stroke-width="0.9"/>
<text x="45.3" y="381.21" text-anchor="end" class="cg">ANKRD45</text>
<line x1="46.20" y1="383.79" x2="48.8" y2="383.79" stroke="#000" stroke-width="0.9"/>
<text x="45.3" y="385.29" text-anchor="end" class="cg">APC</text>
<line x1="46.20" y1="387.88" x2="48.8" y2="387.88" stroke="#000" stroke-width="0.9"/>
<text x="45.3" y="389.38" text-anchor="end" class="cg">ARMC3</text>
<line x1="46.20" y1="391.96" x2="48.8" y2="391.96" stroke="#000" stroke-width="0.9"/>
<text x="45.3" y="393.46" text-anchor="end" class="cg">ARX</text>
<line x1="46.20" y1="396.05" x2="48.8" y2="396.05" stroke="#000" stroke-width="0.9"/>
<text x="45.3" y="397.55" text-anchor="end" class="cg">ATAD2</text>
<line x1="46.20" y1="400.14" x2="48.8" y2="400.14" stroke="#000" stroke-width="0.9"/>
<text x="45.3" y="401.64" text-anchor="end" class="cg">ATR</text>
<line x1="46.20" y1="404.22" x2="48.8" y2="404.22" stroke="#000" stroke-width="0.9"/>
<text x="45.3" y="405.72" text-anchor="end" class="cg">AXIN1</text>
<line x1="46.20" y1="408.31" x2="48.8" y2="408.31" stroke="#000" stroke-width="0.9"/>
<text x="45.3" y="409.81" text-anchor="end" class="cg">AXIN2</text>
<line x1="46.20" y1="412.39" x2="48.8" y2="412.39" stroke="#000" stroke-width="0.9"/>
<text x="45.3" y="413.89" text-anchor="end" class="cg">BRAF</text>
<line x1="46.20" y1="416.48" x2="48.8" y2="416.48" stroke="#000" stroke-width="0.9"/>
<text x="45.3" y="417.98" text-anchor="end" class="cg">BRCA1</text>
<line x1="46.20" y1="420.57" x2="48.8" y2="420.57" stroke="#000" stroke-width="0.9"/>
<text x="45.3" y="422.07" text-anchor="end" class="cg">BRCA2</text>
<line x1="46.20" y1="424.65" x2="48.8" y2="424.65" stroke="#000" stroke-width="0.9"/>
<text x="45.3" y="426.15" text-anchor="end" class="cg">BRDT</text>
<line x1="46.20" y1="428.74" x2="48.8" y2="428.74" stroke="#000" stroke-width="0.9"/>
<text x="45.3" y="430.24" text-anchor="end" class="cg">CASC5</text>
<line x1="46.20" y1="432.82" x2="48.8" y2="432.82" stroke="#000" stroke-width="0.9"/>
<text x="45.3" y="434.32" text-anchor="end" class="cg">CASP10</text>
<line x1="46.20" y1="436.91" x2="48.8" y2="436.91" stroke="#000" stroke-width="0.9"/>
<text x="45.3" y="438.41" text-anchor="end" class="cg">CCNB1</text>
<line x1="46.20" y1="440.99" x2="48.8" y2="440.99" stroke="#000" stroke-width="0.9"/>
<text x="45.3" y="442.49" text-anchor="end" class="cg">CD276</text>
<line x1="46.20" y1="445.08" x2="48.8" y2="445.08" stroke="#000" stroke-width="0.9"/>
<text x="45.3" y="446.58" text-anchor="end" class="cg">CDKN2A</text>
<line x1="46.20" y1="449.17" x2="48.8" y2="449.17" stroke="#000" stroke-width="0.9"/>
<text x="45.3" y="450.67" text-anchor="end" class="cg">CDON</text>
<line x1="46.20" y1="453.25" x2="48.8" y2="453.25" stroke="#000" stroke-width="0.9"/>
<text x="45.3" y="454.75" text-anchor="end" class="cg">CEP250</text>
<line x1="46.20" y1="457.34" x2="48.8" y2="457.34" stroke="#000" stroke-width="0.9"/>
<text x="45.3" y="458.84" text-anchor="end" class="cg">CNTN2</text>
<line x1="46.20" y1="461.42" x2="48.8" y2="461.42" stroke="#000" stroke-width="0.9"/>
<text x="45.3" y="462.92" text-anchor="end" class="cg">CTNNA2</text>
<line x1="46.20" y1="465.51" x2="48.8" y2="465.51" stroke="#000" stroke-width="0.9"/>
<text x="45.3" y="467.01" text-anchor="end" class="cg">CTNNB1</text>
<line x1="46.20" y1="469.59" x2="48.8" y2="469.59" stroke="#000" stroke-width="0.9"/>
<text x="45.3" y="471.09" text-anchor="end" class="cg">CYP1B1</text>
<line x1="46.20" y1="473.68" x2="48.8" y2="473.68" stroke="#000" stroke-width="0.9"/>
<text x="45.3" y="475.18" text-anchor="end" class="cg">DCAF12</text>
<line x1="46.20" y1="477.77" x2="48.8" y2="477.77" stroke="#000" stroke-width="0.9"/>
<text x="45.3" y="479.27" text-anchor="end" class="cg">DNAJB8</text>
<line x1="46.20" y1="481.85" x2="48.8" y2="481.85" stroke="#000" stroke-width="0.9"/>
<text x="45.3" y="483.35" text-anchor="end" class="cg">EEF1A2</text>
<line x1="46.20" y1="485.94" x2="48.8" y2="485.94" stroke="#000" stroke-width="0.9"/>
<text x="45.3" y="487.44" text-anchor="end" class="cg">EGFR</text>
<line x1="46.20" y1="490.02" x2="48.8" y2="490.02" stroke="#000" stroke-width="0.9"/>
<text x="45.3" y="491.52" text-anchor="end" class="cg">EHBP1</text>
<line x1="46.20" y1="494.11" x2="48.8" y2="494.11" stroke="#000" stroke-width="0.9"/>
<text x="45.3" y="495.61" text-anchor="end" class="cg">ELAC2</text>
<line x1="46.20" y1="498.20" x2="48.8" y2="498.20" stroke="#000" stroke-width="0.9"/>
<text x="45.3" y="499.70" text-anchor="end" class="cg">EPHA2</text>
<line x1="46.20" y1="502.28" x2="48.8" y2="502.28" stroke="#000" stroke-width="0.9"/>
<text x="45.3" y="503.78" text-anchor="end" class="cg">EPHB2</text>
<line x1="46.20" y1="506.37" x2="48.8" y2="506.37" stroke="#000" stroke-width="0.9"/>
<text x="45.3" y="507.87" text-anchor="end" class="cg">ERBB2</text>
<line x1="46.20" y1="510.45" x2="48.8" y2="510.45" stroke="#000" stroke-width="0.9"/>
<text x="45.3" y="511.95" text-anchor="end" class="cg">ETV6</text>
<line x1="46.20" y1="514.54" x2="48.8" y2="514.54" stroke="#000" stroke-width="0.9"/>
<text x="45.3" y="516.04" text-anchor="end" class="cg">FAP</text>
<line x1="46.20" y1="518.62" x2="48.8" y2="518.62" stroke="#000" stroke-width="0.9"/>
<text x="45.3" y="520.12" text-anchor="end" class="cg">FGFR3</text>
<line x1="46.20" y1="522.71" x2="48.8" y2="522.71" stroke="#000" stroke-width="0.9"/>
<text x="45.3" y="524.21" text-anchor="end" class="cg">FGFR4</text>
<line x1="46.20" y1="526.80" x2="48.8" y2="526.80" stroke="#000" stroke-width="0.9"/>
<text x="45.3" y="528.30" text-anchor="end" class="cg">FH</text>
<line x1="46.20" y1="530.88" x2="48.8" y2="530.88" stroke="#000" stroke-width="0.9"/>
<text x="45.3" y="532.38" text-anchor="end" class="cg">FOLH1</text>
<line x1="46.20" y1="534.97" x2="48.8" y2="534.97" stroke="#000" stroke-width="0.9"/>
<text x="45.3" y="536.47" text-anchor="end" class="cg">FOXE1</text>
<line x1="46.20" y1="539.05" x2="48.8" y2="539.05" stroke="#000" stroke-width="0.9"/>
<text x="45.3" y="540.55" text-anchor="end" class="cg">GALNT12</text>
<line x1="46.20" y1="543.14" x2="48.8" y2="543.14" stroke="#000" stroke-width="0.9"/>
<text x="45.3" y="544.64" text-anchor="end" class="cg">GPR143</text>
<line x1="46.20" y1="547.23" x2="48.8" y2="547.23" stroke="#000" stroke-width="0.9"/>
<text x="45.3" y="548.73" text-anchor="end" class="cg">IMP3</text>
<line x1="46.20" y1="551.31" x2="48.8" y2="551.31" stroke="#000" stroke-width="0.9"/>
<text x="45.3" y="552.81" text-anchor="end" class="cg">IRF1</text>
<line x1="46.20" y1="555.40" x2="48.8" y2="555.40" stroke="#000" stroke-width="0.9"/>
<text x="45.3" y="556.90" text-anchor="end" class="cg">KDM5B</text>
<line x1="46.20" y1="559.48" x2="48.8" y2="559.48" stroke="#000" stroke-width="0.9"/>
<text x="45.3" y="560.98" text-anchor="end" class="cg">KDR</text>
<line x1="46.20" y1="563.57" x2="48.8" y2="563.57" stroke="#000" stroke-width="0.9"/>
<text x="45.3" y="565.07" text-anchor="end" class="cg">KIAA0100</text>
<line x1="46.20" y1="567.65" x2="48.8" y2="567.65" stroke="#000" stroke-width="0.9"/>
<text x="45.3" y="569.15" text-anchor="end" class="cg">KIF20B</text>
<line x1="46.20" y1="571.74" x2="48.8" y2="571.74" stroke="#000" stroke-width="0.9"/>
<text x="45.3" y="573.24" text-anchor="end" class="cg">KIF2C</text>
<line x1="46.20" y1="575.83" x2="48.8" y2="575.83" stroke="#000" stroke-width="0.9"/>
<text x="45.3" y="577.33" text-anchor="end" class="cg">KLF6</text>
<line x1="46.20" y1="579.91" x2="48.8" y2="579.91" stroke="#000" stroke-width="0.9"/>
<text x="45.3" y="581.41" text-anchor="end" class="cg">KRAS</text>
<line x1="46.20" y1="584.00" x2="48.8" y2="584.00" stroke="#000" stroke-width="0.9"/>
<text x="45.3" y="585.50" text-anchor="end" class="cg">LCK</text>
<line x1="46.20" y1="588.08" x2="48.8" y2="588.08" stroke="#000" stroke-width="0.9"/>
<text x="45.3" y="589.58" text-anchor="end" class="cg">LDHC</text>
<line x1="46.20" y1="592.17" x2="48.8" y2="592.17" stroke="#000" stroke-width="0.9"/>
<text x="45.3" y="593.67" text-anchor="end" class="cg">LGMN</text>
<line x1="46.20" y1="596.25" x2="48.8" y2="596.25" stroke="#000" stroke-width="0.9"/>
<text x="45.3" y="597.75" text-anchor="end" class="cg">LZTS1</text>
<line x1="46.20" y1="600.34" x2="48.8" y2="600.34" stroke="#000" stroke-width="0.9"/>
<text x="45.3" y="601.84" text-anchor="end" class="cg">MINPP1</text>
<line x1="46.20" y1="604.43" x2="48.8" y2="604.43" stroke="#000" stroke-width="0.9"/>
<text x="45.3" y="605.93" text-anchor="end" class="cg">MLH1</text>
<line x1="46.20" y1="608.51" x2="48.8" y2="608.51" stroke="#000" stroke-width="0.9"/>
<text x="45.3" y="610.01" text-anchor="end" class="cg">MSH2</text>
<line x1="46.20" y1="612.60" x2="48.8" y2="612.60" stroke="#000" stroke-width="0.9"/>
<text x="45.3" y="614.10" text-anchor="end" class="cg">MSH3</text>
<line x1="46.20" y1="616.68" x2="48.8" y2="616.68" stroke="#000" stroke-width="0.9"/>
<text x="45.3" y="618.18" text-anchor="end" class="cg">MSH6</text>
<line x1="46.20" y1="620.77" x2="48.8" y2="620.77" stroke="#000" stroke-width="0.9"/>
<text x="45.3" y="622.27" text-anchor="end" class="cg">MSR1</text>
<line x1="46.20" y1="624.86" x2="48.8" y2="624.86" stroke="#000" stroke-width="0.9"/>
<text x="45.3" y="626.36" text-anchor="end" class="cg">MT-CO1</text>
<line x1="46.20" y1="628.94" x2="48.8" y2="628.94" stroke="#000" stroke-width="0.9"/>
<text x="45.3" y="630.44" text-anchor="end" class="cg">MTHFD1</text>
<line x1="46.20" y1="633.03" x2="48.8" y2="633.03" stroke="#000" stroke-width="0.9"/>
<text x="45.3" y="634.53" text-anchor="end" class="cg">MTUS1</text>
<line x1="46.20" y1="637.11" x2="48.8" y2="637.11" stroke="#000" stroke-width="0.9"/>
<text x="45.3" y="638.61" text-anchor="end" class="cg">MXI1</text>
<line x1="46.20" y1="641.20" x2="48.8" y2="641.20" stroke="#000" stroke-width="0.9"/>
<text x="45.3" y="642.70" text-anchor="end" class="cg">MYCN</text>
<line x1="46.20" y1="645.28" x2="48.8" y2="645.28" stroke="#000" stroke-width="0.9"/>
<text x="45.3" y="646.78" text-anchor="end" class="cg">NBN</text>
<line x1="46.20" y1="649.37" x2="48.8" y2="649.37" stroke="#000" stroke-width="0.9"/>
<text x="45.3" y="650.87" text-anchor="end" class="cg">NF1</text>
<line x1="46.20" y1="653.46" x2="48.8" y2="653.46" stroke="#000" stroke-width="0.9"/>
<text x="45.3" y="654.96" text-anchor="end" class="cg">NOL4</text>
<line x1="46.20" y1="657.54" x2="48.8" y2="657.54" stroke="#000" stroke-width="0.9"/>
<text x="45.3" y="659.04" text-anchor="end" class="cg">NPEPPS</text>
<line x1="46.20" y1="661.63" x2="48.8" y2="661.63" stroke="#000" stroke-width="0.9"/>
<text x="45.3" y="663.13" text-anchor="end" class="cg">NRAS</text>
<line x1="46.20" y1="665.71" x2="48.8" y2="665.71" stroke="#000" stroke-width="0.9"/>
<text x="45.3" y="667.21" text-anchor="end" class="cg">NUP62</text>
<line x1="46.20" y1="669.80" x2="48.8" y2="669.80" stroke="#000" stroke-width="0.9"/>
<text x="45.3" y="671.30" text-anchor="end" class="cg">ODF2</text>
<line x1="46.20" y1="673.88" x2="48.8" y2="673.88" stroke="#000" stroke-width="0.9"/>
<text x="45.3" y="675.38" text-anchor="end" class="cg">PALLD</text>
<line x1="46.20" y1="677.97" x2="48.8" y2="677.97" stroke="#000" stroke-width="0.9"/>
<text x="45.3" y="679.47" text-anchor="end" class="cg">PAPOLA</text>
<line x1="46.20" y1="682.06" x2="48.8" y2="682.06" stroke="#000" stroke-width="0.9"/>
<text x="45.3" y="683.56" text-anchor="end" class="cg">PAX3</text>
<line x1="46.20" y1="686.14" x2="48.8" y2="686.14" stroke="#000" stroke-width="0.9"/>
<text x="45.3" y="687.64" text-anchor="end" class="cg">PBK</text>
<line x1="46.20" y1="690.23" x2="48.8" y2="690.23" stroke="#000" stroke-width="0.9"/>
<text x="45.3" y="691.73" text-anchor="end" class="cg">PDGFRB</text>
<line x1="46.20" y1="694.31" x2="48.8" y2="694.31" stroke="#000" stroke-width="0.9"/>
<text x="45.3" y="695.81" text-anchor="end" class="cg">PIK3CA</text>
<line x1="46.20" y1="698.40" x2="48.8" y2="698.40" stroke="#000" stroke-width="0.9"/>
<text x="45.3" y="699.90" text-anchor="end" class="cg">PIWIL2</text>
<line x1="46.20" y1="702.49" x2="48.8" y2="702.49" stroke="#000" stroke-width="0.9"/>
<text x="45.3" y="703.99" text-anchor="end" class="cg">PMS2</text>
<line x1="46.20" y1="706.57" x2="48.8" y2="706.57" stroke="#000" stroke-width="0.9"/>
<text x="45.3" y="708.07" text-anchor="end" class="cg">POLD1</text>
<line x1="46.20" y1="710.66" x2="48.8" y2="710.66" stroke="#000" stroke-width="0.9"/>
<text x="45.3" y="712.16" text-anchor="end" class="cg">POLE</text>
<line x1="46.20" y1="714.74" x2="48.8" y2="714.74" stroke="#000" stroke-width="0.9"/>
<text x="45.3" y="716.24" text-anchor="end" class="cg">POTEA</text>
<line x1="46.20" y1="718.83" x2="48.8" y2="718.83" stroke="#000" stroke-width="0.9"/>
<text x="45.3" y="720.33" text-anchor="end" class="cg">POTEE</text>
<line x1="46.20" y1="722.91" x2="48.8" y2="722.91" stroke="#000" stroke-width="0.9"/>
<text x="45.3" y="724.41" text-anchor="end" class="cg">PRAME</text>
<line x1="46.20" y1="727.00" x2="48.8" y2="727.00" stroke="#000" stroke-width="0.9"/>
<text x="45.3" y="728.50" text-anchor="end" class="cg">PRTN3</text>
<line x1="46.20" y1="731.09" x2="48.8" y2="731.09" stroke="#000" stroke-width="0.9"/>
<text x="45.3" y="732.59" text-anchor="end" class="cg">PSMD9</text>
<line x1="46.20" y1="735.17" x2="48.8" y2="735.17" stroke="#000" stroke-width="0.9"/>
<text x="45.3" y="736.67" text-anchor="end" class="cg">PTEN</text>
<line x1="46.20" y1="739.26" x2="48.8" y2="739.26" stroke="#000" stroke-width="0.9"/>
<text x="45.3" y="740.76" text-anchor="end" class="cg">RAD50</text>
<line x1="46.20" y1="743.34" x2="48.8" y2="743.34" stroke="#000" stroke-width="0.9"/>
<text x="45.3" y="744.84" text-anchor="end" class="cg">RAD51</text>
<line x1="46.20" y1="747.43" x2="48.8" y2="747.43" stroke="#000" stroke-width="0.9"/>
<text x="45.3" y="748.93" text-anchor="end" class="cg">RAD51C</text>
<line x1="46.20" y1="751.52" x2="48.8" y2="751.52" stroke="#000" stroke-width="0.9"/>
<text x="45.3" y="753.02" text-anchor="end" class="cg">RB1</text>
<line x1="46.20" y1="755.60" x2="48.8" y2="755.60" stroke="#000" stroke-width="0.9"/>
<text x="45.3" y="757.10" text-anchor="end" class="cg">RET</text>
<line x1="46.20" y1="759.69" x2="48.8" y2="759.69" stroke="#000" stroke-width="0.9"/>
<text x="45.3" y="761.19" text-anchor="end" class="cg">RGS5</text>
<line x1="46.20" y1="763.77" x2="48.8" y2="763.77" stroke="#000" stroke-width="0.9"/>
<text x="45.3" y="765.27" text-anchor="end" class="cg">RHBDF2</text>
<line x1="46.20" y1="767.86" x2="48.8" y2="767.86" stroke="#000" stroke-width="0.9"/>
<text x="45.3" y="769.36" text-anchor="end" class="cg">RHOC</text>
<line x1="46.20" y1="771.94" x2="48.8" y2="771.94" stroke="#000" stroke-width="0.9"/>
<text x="45.3" y="773.44" text-anchor="end" class="cg">RNF17</text>
<line x1="46.20" y1="776.03" x2="48.8" y2="776.03" stroke="#000" stroke-width="0.9"/>
<text x="45.3" y="777.53" text-anchor="end" class="cg">RQCD1</text>
<line x1="46.20" y1="780.12" x2="48.8" y2="780.12" stroke="#000" stroke-width="0.9"/>
<text x="45.3" y="781.62" text-anchor="end" class="cg">RRAS2</text>
<line x1="46.20" y1="784.20" x2="48.8" y2="784.20" stroke="#000" stroke-width="0.9"/>
<text x="45.3" y="785.70" text-anchor="end" class="cg">SART3</text>
<line x1="46.20" y1="788.29" x2="48.8" y2="788.29" stroke="#000" stroke-width="0.9"/>
<text x="45.3" y="789.79" text-anchor="end" class="cg">SLC22A18</text>
<line x1="46.20" y1="792.37" x2="48.8" y2="792.37" stroke="#000" stroke-width="0.9"/>
<text x="45.3" y="793.87" text-anchor="end" class="cg">SMAD3</text>
<line x1="46.20" y1="796.46" x2="48.8" y2="796.46" stroke="#000" stroke-width="0.9"/>
<text x="45.3" y="797.96" text-anchor="end" class="cg">SMAD4</text>
<line x1="46.20" y1="800.54" x2="48.8" y2="800.54" stroke="#000" stroke-width="0.9"/>
<text x="45.3" y="802.04" text-anchor="end" class="cg">SPA17</text>
<line x1="46.20" y1="804.63" x2="48.8" y2="804.63" stroke="#000" stroke-width="0.9"/>
<text x="45.3" y="806.13" text-anchor="end" class="cg">SPAG9</text>
<line x1="46.20" y1="808.72" x2="48.8" y2="808.72" stroke="#000" stroke-width="0.9"/>
<text x="45.3" y="810.22" text-anchor="end" class="cg">SPEF2</text>
<line x1="46.20" y1="812.80" x2="48.8" y2="812.80" stroke="#000" stroke-width="0.9"/>
<text x="45.3" y="814.30" text-anchor="end" class="cg">SRGAP1</text>
<line x1="46.20" y1="816.89" x2="48.8" y2="816.89" stroke="#000" stroke-width="0.9"/>
<text x="45.3" y="818.39" text-anchor="end" class="cg">SYCE1</text>
<line x1="46.20" y1="820.97" x2="48.8" y2="820.97" stroke="#000" stroke-width="0.9"/>
<text x="45.3" y="822.47" text-anchor="end" class="cg">TGFBR2</text>
<line x1="46.20" y1="825.06" x2="48.8" y2="825.06" stroke="#000" stroke-width="0.9"/>
<text x="45.3" y="826.56" text-anchor="end" class="cg">TIE1</text>
<line x1="46.20" y1="829.15" x2="48.8" y2="829.15" stroke="#000" stroke-width="0.9"/>
<text x="45.3" y="830.65" text-anchor="end" class="cg">TMEM108</text>
<line x1="46.20" y1="833.23" x2="48.8" y2="833.23" stroke="#000" stroke-width="0.9"/>
<text x="45.3" y="834.73" text-anchor="end" class="cg">TP53</text>
<line x1="46.20" y1="837.32" x2="48.8" y2="837.32" stroke="#000" stroke-width="0.9"/>
<text x="45.3" y="838.82" text-anchor="end" class="cg">TSGA10</text>
<line x1="46.20" y1="841.40" x2="48.8" y2="841.40" stroke="#000" stroke-width="0.9"/>
<text x="45.3" y="842.90" text-anchor="end" class="cg">TTK</text>
<path d="M109.2 364.2H117.4V844.4H109.2" fill="none" stroke="#000" stroke-width="1.05"/>
<line x1="117.4" y1="367.45" x2="119.40" y2="367.45" stroke="#000" stroke-width="0.9"/>
<text x="120.9" y="368.95" class="cg">AKT1</text>
<line x1="117.4" y1="371.54" x2="119.40" y2="371.54" stroke="#000" stroke-width="0.9"/>
<text x="120.9" y="373.04" class="cg">ALK</text>
<line x1="117.4" y1="375.62" x2="119.40" y2="375.62" stroke="#000" stroke-width="0.9"/>
<text x="120.9" y="377.12" class="cg">ALOX12</text>
<path d="M113.60 373.92L115.30 375.62L113.60 377.32L111.90 375.62Z" fill="#E46C0A"/>
<line x1="117.4" y1="379.71" x2="119.40" y2="379.71" stroke="#000" stroke-width="0.9"/>
<text x="120.9" y="381.21" class="cg">ANKRD45</text>
<line x1="117.4" y1="383.79" x2="119.40" y2="383.79" stroke="#000" stroke-width="0.9"/>
<text x="120.9" y="385.29" class="cg">APC</text>
<path d="M113.60 382.19L115.20 383.79L113.60 385.39L112.00 383.79Z" fill="#000"/>
<line x1="117.4" y1="387.88" x2="119.40" y2="387.88" stroke="#000" stroke-width="0.9"/>
<text x="120.9" y="389.38" class="cg">ARMC3</text>
<path d="M113.60 386.28L115.20 387.88L113.60 389.48L112.00 387.88Z" fill="#000"/>
<line x1="117.4" y1="391.96" x2="119.40" y2="391.96" stroke="#000" stroke-width="0.9"/>
<text x="120.9" y="393.46" class="cg">ARX</text>
<line x1="117.4" y1="396.05" x2="119.40" y2="396.05" stroke="#000" stroke-width="0.9"/>
<text x="120.9" y="397.55" class="cg">ATAD2</text>
<path d="M113.60 394.45L115.20 396.05L113.60 397.65L112.00 396.05Z" fill="#000"/>
<line x1="117.4" y1="400.14" x2="119.40" y2="400.14" stroke="#000" stroke-width="0.9"/>
<text x="120.9" y="401.64" class="cg">ATR</text>
<path d="M113.60 398.54L115.20 400.14L113.60 401.74L112.00 400.14Z" fill="#000"/>
<line x1="117.4" y1="404.22" x2="119.40" y2="404.22" stroke="#000" stroke-width="0.9"/>
<text x="120.9" y="405.72" class="cg">AXIN1</text>
<line x1="117.4" y1="408.31" x2="119.40" y2="408.31" stroke="#000" stroke-width="0.9"/>
<text x="120.9" y="409.81" class="cg">AXIN2</text>
<path d="M113.60 406.61L115.30 408.31L113.60 410.01L111.90 408.31Z" fill="#E46C0A"/>
<line x1="117.4" y1="412.39" x2="119.40" y2="412.39" stroke="#000" stroke-width="0.9"/>
<text x="120.9" y="413.89" class="cg">BRAF</text>
<line x1="117.4" y1="416.48" x2="119.40" y2="416.48" stroke="#000" stroke-width="0.9"/>
<text x="120.9" y="417.98" class="cg">BRCA1</text>
<path d="M113.60 414.88L115.20 416.48L113.60 418.08L112.00 416.48Z" fill="#000"/>
<line x1="117.4" y1="420.57" x2="119.40" y2="420.57" stroke="#000" stroke-width="0.9"/>
<text x="120.9" y="422.07" class="cg">BRCA2</text>
<line x1="117.4" y1="424.65" x2="119.40" y2="424.65" stroke="#000" stroke-width="0.9"/>
<text x="120.9" y="426.15" class="cg">BRDT</text>
<line x1="117.4" y1="428.74" x2="119.40" y2="428.74" stroke="#000" stroke-width="0.9"/>
<text x="120.9" y="430.24" class="cg">CASC5</text>
<path d="M113.60 427.14L115.20 428.74L113.60 430.34L112.00 428.74Z" fill="#000"/>
<line x1="117.4" y1="432.82" x2="119.40" y2="432.82" stroke="#000" stroke-width="0.9"/>
<text x="120.9" y="434.32" class="cg">CASP10</text>
<path d="M113.60 431.22L115.20 432.82L113.60 434.42L112.00 432.82Z" fill="#000"/>
<line x1="117.4" y1="436.91" x2="119.40" y2="436.91" stroke="#000" stroke-width="0.9"/>
<text x="120.9" y="438.41" class="cg">CCNB1</text>
<path d="M113.60 435.21L115.30 436.91L113.60 438.61L111.90 436.91Z" fill="#E46C0A"/>
<line x1="117.4" y1="440.99" x2="119.40" y2="440.99" stroke="#000" stroke-width="0.9"/>
<text x="120.9" y="442.49" class="cg">CD276</text>
<path d="M113.60 439.39L115.20 440.99L113.60 442.59L112.00 440.99Z" fill="#000"/>
<line x1="117.4" y1="445.08" x2="119.40" y2="445.08" stroke="#000" stroke-width="0.9"/>
<text x="120.9" y="446.58" class="cg">CDKN2A</text>
<line x1="117.4" y1="449.17" x2="119.40" y2="449.17" stroke="#000" stroke-width="0.9"/>
<text x="120.9" y="450.67" class="cg">CDON</text>
<path d="M113.60 447.57L115.20 449.17L113.60 450.77L112.00 449.17Z" fill="#000"/>
<line x1="117.4" y1="453.25" x2="119.40" y2="453.25" stroke="#000" stroke-width="0.9"/>
<text x="120.9" y="454.75" class="cg">CEP250</text>
<path d="M113.60 451.65L115.20 453.25L113.60 454.85L112.00 453.25Z" fill="#000"/>
<line x1="117.4" y1="457.34" x2="119.40" y2="457.34" stroke="#000" stroke-width="0.9"/>
<text x="120.9" y="458.84" class="cg">CNTN2</text>
<line x1="117.4" y1="461.42" x2="119.40" y2="461.42" stroke="#000" stroke-width="0.9"/>
<text x="120.9" y="462.92" class="cg">CTNNA2</text>
<path d="M113.60 459.82L115.20 461.42L113.60 463.02L112.00 461.42Z" fill="#000"/>
<line x1="117.4" y1="465.51" x2="119.40" y2="465.51" stroke="#000" stroke-width="0.9"/>
<text x="120.9" y="467.01" class="cg">CTNNB1</text>
<path d="M113.60 463.81L115.30 465.51L113.60 467.21L111.90 465.51Z" fill="#E46C0A"/>
<line x1="117.4" y1="469.59" x2="119.40" y2="469.59" stroke="#000" stroke-width="0.9"/>
<text x="120.9" y="471.09" class="cg">CYP1B1</text>
<path d="M113.60 467.89L115.30 469.59L113.60 471.29L111.90 469.59Z" fill="#E46C0A"/>
<line x1="117.4" y1="473.68" x2="119.40" y2="473.68" stroke="#000" stroke-width="0.9"/>
<text x="120.9" y="475.18" class="cg">DCAF12</text>
<line x1="117.4" y1="477.77" x2="119.40" y2="477.77" stroke="#000" stroke-width="0.9"/>
<text x="120.9" y="479.27" class="cg">DNAJB8</text>
<line x1="117.4" y1="481.85" x2="119.40" y2="481.85" stroke="#000" stroke-width="0.9"/>
<text x="120.9" y="483.35" class="cg">EEF1A2</text>
<line x1="117.4" y1="485.94" x2="119.40" y2="485.94" stroke="#000" stroke-width="0.9"/>
<text x="120.9" y="487.44" class="cg">EGFR</text>
<line x1="117.4" y1="490.02" x2="119.40" y2="490.02" stroke="#000" stroke-width="0.9"/>
<text x="120.9" y="491.52" class="cg">EHBP1</text>
<path d="M113.60 488.42L115.20 490.02L113.60 491.62L112.00 490.02Z" fill="#000"/>
<line x1="117.4" y1="494.11" x2="119.40" y2="494.11" stroke="#000" stroke-width="0.9"/>
<text x="120.9" y="495.61" class="cg">ELAC2</text>
<path d="M113.60 492.51L115.20 494.11L113.60 495.71L112.00 494.11Z" fill="#000"/>
<line x1="117.4" y1="498.20" x2="119.40" y2="498.20" stroke="#000" stroke-width="0.9"/>
<text x="120.9" y="499.70" class="cg">EPHA2</text>
<path d="M113.60 496.60L115.20 498.20L113.60 499.80L112.00 498.20Z" fill="#000"/>
<line x1="117.4" y1="502.28" x2="119.40" y2="502.28" stroke="#000" stroke-width="0.9"/>
<text x="120.9" y="503.78" class="cg">EPHB2</text>
<line x1="117.4" y1="506.37" x2="119.40" y2="506.37" stroke="#000" stroke-width="0.9"/>
<text x="120.9" y="507.87" class="cg">ERBB2</text>
<line x1="117.4" y1="510.45" x2="119.40" y2="510.45" stroke="#000" stroke-width="0.9"/>
<text x="120.9" y="511.95" class="cg">ETV6</text>
<line x1="117.4" y1="514.54" x2="119.40" y2="514.54" stroke="#000" stroke-width="0.9"/>
<text x="120.9" y="516.04" class="cg">FAP</text>
<path d="M113.60 512.94L115.20 514.54L113.60 516.14L112.00 514.54Z" fill="#000"/>
<line x1="117.4" y1="518.62" x2="119.40" y2="518.62" stroke="#000" stroke-width="0.9"/>
<text x="120.9" y="520.12" class="cg">FGFR3</text>
<line x1="117.4" y1="522.71" x2="119.40" y2="522.71" stroke="#000" stroke-width="0.9"/>
<text x="120.9" y="524.21" class="cg">FGFR4</text>
<line x1="117.4" y1="526.80" x2="119.40" y2="526.80" stroke="#000" stroke-width="0.9"/>
<text x="120.9" y="528.30" class="cg">FH</text>
<line x1="117.4" y1="530.88" x2="119.40" y2="530.88" stroke="#000" stroke-width="0.9"/>
<text x="120.9" y="532.38" class="cg">FOLH1</text>
<path d="M113.60 529.18L115.30 530.88L113.60 532.58L111.90 530.88Z" fill="#E46C0A"/>
<line x1="117.4" y1="534.97" x2="119.40" y2="534.97" stroke="#000" stroke-width="0.9"/>
<text x="120.9" y="536.47" class="cg">FOXE1</text>
<line x1="117.4" y1="539.05" x2="119.40" y2="539.05" stroke="#000" stroke-width="0.9"/>
<text x="120.9" y="540.55" class="cg">GALNT12</text>
<path d="M113.60 537.45L115.20 539.05L113.60 540.65L112.00 539.05Z" fill="#000"/>
<line x1="117.4" y1="543.14" x2="119.40" y2="543.14" stroke="#000" stroke-width="0.9"/>
<text x="120.9" y="544.64" class="cg">GPR143</text>
<path d="M113.60 541.54L115.20 543.14L113.60 544.74L112.00 543.14Z" fill="#000"/>
<line x1="117.4" y1="547.23" x2="119.40" y2="547.23" stroke="#000" stroke-width="0.9"/>
<text x="120.9" y="548.73" class="cg">IMP3</text>
<path d="M113.60 545.63L115.20 547.23L113.60 548.83L112.00 547.23Z" fill="#000"/>
<line x1="117.4" y1="551.31" x2="119.40" y2="551.31" stroke="#000" stroke-width="0.9"/>
<text x="120.9" y="552.81" class="cg">IRF1</text>
<line x1="117.4" y1="555.40" x2="119.40" y2="555.40" stroke="#000" stroke-width="0.9"/>
<text x="120.9" y="556.90" class="cg">KDM5B</text>
<path d="M113.60 553.80L115.20 555.40L113.60 557.00L112.00 555.40Z" fill="#000"/>
<line x1="117.4" y1="559.48" x2="119.40" y2="559.48" stroke="#000" stroke-width="0.9"/>
<text x="120.9" y="560.98" class="cg">KDR</text>
<path d="M113.60 557.88L115.20 559.48L113.60 561.08L112.00 559.48Z" fill="#000"/>
<line x1="117.4" y1="563.57" x2="119.40" y2="563.57" stroke="#000" stroke-width="0.9"/>
<text x="120.9" y="565.07" class="cg">KIAA0100</text>
<path d="M113.60 561.87L115.30 563.57L113.60 565.27L111.90 563.57Z" fill="#E46C0A"/>
<line x1="117.4" y1="567.65" x2="119.40" y2="567.65" stroke="#000" stroke-width="0.9"/>
<text x="120.9" y="569.15" class="cg">KIF20B</text>
<path d="M113.60 566.05L115.20 567.65L113.60 569.25L112.00 567.65Z" fill="#000"/>
<line x1="117.4" y1="571.74" x2="119.40" y2="571.74" stroke="#000" stroke-width="0.9"/>
<text x="120.9" y="573.24" class="cg">KIF2C</text>
<path d="M113.60 570.14L115.20 571.74L113.60 573.34L112.00 571.74Z" fill="#000"/>
<line x1="117.4" y1="575.83" x2="119.40" y2="575.83" stroke="#000" stroke-width="0.9"/>
<text x="120.9" y="577.33" class="cg">KLF6</text>
<line x1="117.4" y1="579.91" x2="119.40" y2="579.91" stroke="#000" stroke-width="0.9"/>
<text x="120.9" y="581.41" class="cg">KRAS</text>
<line x1="117.4" y1="584.00" x2="119.40" y2="584.00" stroke="#000" stroke-width="0.9"/>
<text x="120.9" y="585.50" class="cg">LCK</text>
<line x1="117.4" y1="588.08" x2="119.40" y2="588.08" stroke="#000" stroke-width="0.9"/>
<text x="120.9" y="589.58" class="cg">LDHC</text>
<line x1="117.4" y1="592.17" x2="119.40" y2="592.17" stroke="#000" stroke-width="0.9"/>
<text x="120.9" y="593.67" class="cg">LGMN</text>
<path d="M113.60 590.57L115.20 592.17L113.60 593.77L112.00 592.17Z" fill="#000"/>
<line x1="117.4" y1="596.25" x2="119.40" y2="596.25" stroke="#000" stroke-width="0.9"/>
<text x="120.9" y="597.75" class="cg">LZTS1</text>
<path d="M113.60 594.55L115.30 596.25L113.60 597.95L111.90 596.25Z" fill="#E46C0A"/>
<line x1="117.4" y1="600.34" x2="119.40" y2="600.34" stroke="#000" stroke-width="0.9"/>
<text x="120.9" y="601.84" class="cg">MINPP1</text>
<path d="M113.60 598.74L115.20 600.34L113.60 601.94L112.00 600.34Z" fill="#000"/>
<line x1="117.4" y1="604.43" x2="119.40" y2="604.43" stroke="#000" stroke-width="0.9"/>
<text x="120.9" y="605.93" class="cg">MLH1</text>
<path d="M113.60 602.83L115.20 604.43L113.60 606.03L112.00 604.43Z" fill="#000"/>
<line x1="117.4" y1="608.51" x2="119.40" y2="608.51" stroke="#000" stroke-width="0.9"/>
<text x="120.9" y="610.01" class="cg">MSH2</text>
<path d="M113.60 606.91L115.20 608.51L113.60 610.11L112.00 608.51Z" fill="#000"/>
<line x1="117.4" y1="612.60" x2="119.40" y2="612.60" stroke="#000" stroke-width="0.9"/>
<text x="120.9" y="614.10" class="cg">MSH3</text>
<line x1="117.4" y1="616.68" x2="119.40" y2="616.68" stroke="#000" stroke-width="0.9"/>
<text x="120.9" y="618.18" class="cg">MSH6</text>
<path d="M113.60 615.08L115.20 616.68L113.60 618.28L112.00 616.68Z" fill="#000"/>
<line x1="117.4" y1="620.77" x2="119.40" y2="620.77" stroke="#000" stroke-width="0.9"/>
<text x="120.9" y="622.27" class="cg">MSR1</text>
<path d="M113.60 619.17L115.20 620.77L113.60 622.37L112.00 620.77Z" fill="#000"/>
<line x1="117.4" y1="624.86" x2="119.40" y2="624.86" stroke="#000" stroke-width="0.9"/>
<text x="120.9" y="626.36" class="cg">MT-CO1</text>
<path d="M113.60 623.26L115.20 624.86L113.60 626.46L112.00 624.86Z" fill="#000"/>
<line x1="117.4" y1="628.94" x2="119.40" y2="628.94" stroke="#000" stroke-width="0.9"/>
<text x="120.9" y="630.44" class="cg">MTHFD1</text>
<path d="M113.60 627.34L115.20 628.94L113.60 630.54L112.00 628.94Z" fill="#000"/>
<line x1="117.4" y1="633.03" x2="119.40" y2="633.03" stroke="#000" stroke-width="0.9"/>
<text x="120.9" y="634.53" class="cg">MTUS1</text>
<path d="M113.60 631.43L115.20 633.03L113.60 634.63L112.00 633.03Z" fill="#000"/>
<line x1="117.4" y1="637.11" x2="119.40" y2="637.11" stroke="#000" stroke-width="0.9"/>
<text x="120.9" y="638.61" class="cg">MXI1</text>
<path d="M113.60 635.51L115.20 637.11L113.60 638.71L112.00 637.11Z" fill="#000"/>
<line x1="117.4" y1="641.20" x2="119.40" y2="641.20" stroke="#000" stroke-width="0.9"/>
<text x="120.9" y="642.70" class="cg">MYCN</text>
<path d="M113.60 639.60L115.20 641.20L113.60 642.80L112.00 641.20Z" fill="#000"/>
<line x1="117.4" y1="645.28" x2="119.40" y2="645.28" stroke="#000" stroke-width="0.9"/>
<text x="120.9" y="646.78" class="cg">NBN</text>
<path d="M113.60 643.68L115.20 645.28L113.60 646.88L112.00 645.28Z" fill="#000"/>
<line x1="117.4" y1="649.37" x2="119.40" y2="649.37" stroke="#000" stroke-width="0.9"/>
<text x="120.9" y="650.87" class="cg">NF1</text>
<path d="M113.60 647.77L115.20 649.37L113.60 650.97L112.00 649.37Z" fill="#000"/>
<line x1="117.4" y1="653.46" x2="119.40" y2="653.46" stroke="#000" stroke-width="0.9"/>
<text x="120.9" y="654.96" class="cg">NOL4</text>
<path d="M113.60 651.86L115.20 653.46L113.60 655.06L112.00 653.46Z" fill="#000"/>
<line x1="117.4" y1="657.54" x2="119.40" y2="657.54" stroke="#000" stroke-width="0.9"/>
<text x="120.9" y="659.04" class="cg">NPEPPS</text>
<path d="M113.60 655.94L115.20 657.54L113.60 659.14L112.00 657.54Z" fill="#000"/>
<line x1="117.4" y1="661.63" x2="119.40" y2="661.63" stroke="#000" stroke-width="0.9"/>
<text x="120.9" y="663.13" class="cg">NRAS</text>
<line x1="117.4" y1="665.71" x2="119.40" y2="665.71" stroke="#000" stroke-width="0.9"/>
<text x="120.9" y="667.21" class="cg">NUP62</text>
<path d="M113.60 664.11L115.20 665.71L113.60 667.31L112.00 665.71Z" fill="#000"/>
<line x1="117.4" y1="669.80" x2="119.40" y2="669.80" stroke="#000" stroke-width="0.9"/>
<text x="120.9" y="671.30" class="cg">ODF2</text>
<path d="M113.60 668.10L115.30 669.80L113.60 671.50L111.90 669.80Z" fill="#E46C0A"/>
<line x1="117.4" y1="673.88" x2="119.40" y2="673.88" stroke="#000" stroke-width="0.9"/>
<text x="120.9" y="675.38" class="cg">PALLD</text>
<path d="M113.60 672.28L115.20 673.88L113.60 675.49L112.00 673.88Z" fill="#000"/>
<line x1="117.4" y1="677.97" x2="119.40" y2="677.97" stroke="#000" stroke-width="0.9"/>
<text x="120.9" y="679.47" class="cg">PAPOLA</text>
<path d="M113.60 676.37L115.20 677.97L113.60 679.57L112.00 677.97Z" fill="#000"/>
<line x1="117.4" y1="682.06" x2="119.40" y2="682.06" stroke="#000" stroke-width="0.9"/>
<text x="120.9" y="683.56" class="cg">PAX3</text>
<path d="M113.60 680.46L115.20 682.06L113.60 683.66L112.00 682.06Z" fill="#000"/>
<line x1="117.4" y1="686.14" x2="119.40" y2="686.14" stroke="#000" stroke-width="0.9"/>
<text x="120.9" y="687.64" class="cg">PBK</text>
<path d="M113.60 684.54L115.20 686.14L113.60 687.74L112.00 686.14Z" fill="#000"/>
<line x1="117.4" y1="690.23" x2="119.40" y2="690.23" stroke="#000" stroke-width="0.9"/>
<text x="120.9" y="691.73" class="cg">PDGFRB</text>
<path d="M113.60 688.53L115.30 690.23L113.60 691.93L111.90 690.23Z" fill="#E46C0A"/>
<line x1="117.4" y1="694.31" x2="119.40" y2="694.31" stroke="#000" stroke-width="0.9"/>
<text x="120.9" y="695.81" class="cg">PIK3CA</text>
<path d="M113.60 692.71L115.20 694.31L113.60 695.91L112.00 694.31Z" fill="#000"/>
<line x1="117.4" y1="698.40" x2="119.40" y2="698.40" stroke="#000" stroke-width="0.9"/>
<text x="120.9" y="699.90" class="cg">PIWIL2</text>
<path d="M113.60 696.80L115.20 698.40L113.60 700.00L112.00 698.40Z" fill="#000"/>
<line x1="117.4" y1="702.49" x2="119.40" y2="702.49" stroke="#000" stroke-width="0.9"/>
<text x="120.9" y="703.99" class="cg">PMS2</text>
<line x1="117.4" y1="706.57" x2="119.40" y2="706.57" stroke="#000" stroke-width="0.9"/>
<text x="120.9" y="708.07" class="cg">POLD1</text>
<path d="M113.60 704.97L115.20 706.57L113.60 708.17L112.00 706.57Z" fill="#000"/>
<line x1="117.4" y1="710.66" x2="119.40" y2="710.66" stroke="#000" stroke-width="0.9"/>
<text x="120.9" y="712.16" class="cg">POLE</text>
<line x1="117.4" y1="714.74" x2="119.40" y2="714.74" stroke="#000" stroke-width="0.9"/>
<text x="120.9" y="716.24" class="cg">POTEA</text>
<line x1="117.4" y1="718.83" x2="119.40" y2="718.83" stroke="#000" stroke-width="0.9"/>
<text x="120.9" y="720.33" class="cg">POTEE</text>
<line x1="117.4" y1="722.91" x2="119.40" y2="722.91" stroke="#000" stroke-width="0.9"/>
<text x="120.9" y="724.41" class="cg">PRAME</text>
<path d="M113.60 721.31L115.20 722.91L113.60 724.51L112.00 722.91Z" fill="#000"/>
<line x1="117.4" y1="727.00" x2="119.40" y2="727.00" stroke="#000" stroke-width="0.9"/>
<text x="120.9" y="728.50" class="cg">PRTN3</text>
<path d="M113.60 725.40L115.20 727.00L113.60 728.60L112.00 727.00Z" fill="#000"/>
<line x1="117.4" y1="731.09" x2="119.40" y2="731.09" stroke="#000" stroke-width="0.9"/>
<text x="120.9" y="732.59" class="cg">PSMD9</text>
<path d="M113.60 729.39L115.30 731.09L113.60 732.79L111.90 731.09Z" fill="#E46C0A"/>
<line x1="117.4" y1="735.17" x2="119.40" y2="735.17" stroke="#000" stroke-width="0.9"/>
<text x="120.9" y="736.67" class="cg">PTEN</text>
<line x1="117.4" y1="739.26" x2="119.40" y2="739.26" stroke="#000" stroke-width="0.9"/>
<text x="120.9" y="740.76" class="cg">RAD50</text>
<path d="M113.60 737.66L115.20 739.26L113.60 740.86L112.00 739.26Z" fill="#000"/>
<line x1="117.4" y1="743.34" x2="119.40" y2="743.34" stroke="#000" stroke-width="0.9"/>
<text x="120.9" y="744.84" class="cg">RAD51</text>
<path d="M113.60 741.64L115.30 743.34L113.60 745.04L111.90 743.34Z" fill="#E46C0A"/>
<line x1="117.4" y1="747.43" x2="119.40" y2="747.43" stroke="#000" stroke-width="0.9"/>
<text x="120.9" y="748.93" class="cg">RAD51C</text>
<line x1="117.4" y1="751.52" x2="119.40" y2="751.52" stroke="#000" stroke-width="0.9"/>
<text x="120.9" y="753.02" class="cg">RB1</text>
<path d="M113.60 749.82L115.30 751.52L113.60 753.22L111.90 751.52Z" fill="#E46C0A"/>
<line x1="117.4" y1="755.60" x2="119.40" y2="755.60" stroke="#000" stroke-width="0.9"/>
<text x="120.9" y="757.10" class="cg">RET</text>
<path d="M113.60 754.00L115.20 755.60L113.60 757.20L112.00 755.60Z" fill="#000"/>
<line x1="117.4" y1="759.69" x2="119.40" y2="759.69" stroke="#000" stroke-width="0.9"/>
<text x="120.9" y="761.19" class="cg">RGS5</text>
<path d="M113.60 757.99L115.30 759.69L113.60 761.39L111.90 759.69Z" fill="#E46C0A"/>
<line x1="117.4" y1="763.77" x2="119.40" y2="763.77" stroke="#000" stroke-width="0.9"/>
<text x="120.9" y="765.27" class="cg">RHBDF2</text>
<path d="M113.60 762.07L115.30 763.77L113.60 765.47L111.90 763.77Z" fill="#E46C0A"/>
<line x1="117.4" y1="767.86" x2="119.40" y2="767.86" stroke="#000" stroke-width="0.9"/>
<text x="120.9" y="769.36" class="cg">RHOC</text>
<line x1="117.4" y1="771.94" x2="119.40" y2="771.94" stroke="#000" stroke-width="0.9"/>
<text x="120.9" y="773.44" class="cg">RNF17</text>
<line x1="117.4" y1="776.03" x2="119.40" y2="776.03" stroke="#000" stroke-width="0.9"/>
<text x="120.9" y="777.53" class="cg">RQCD1</text>
<path d="M113.60 774.43L115.20 776.03L113.60 777.63L112.00 776.03Z" fill="#000"/>
<line x1="117.4" y1="780.12" x2="119.40" y2="780.12" stroke="#000" stroke-width="0.9"/>
<text x="120.9" y="781.62" class="cg">RRAS2</text>
<line x1="117.4" y1="784.20" x2="119.40" y2="784.20" stroke="#000" stroke-width="0.9"/>
<text x="120.9" y="785.70" class="cg">SART3</text>
<line x1="117.4" y1="788.29" x2="119.40" y2="788.29" stroke="#000" stroke-width="0.9"/>
<text x="120.9" y="789.79" class="cg">SLC22A18</text>
<path d="M113.60 786.69L115.20 788.29L113.60 789.89L112.00 788.29Z" fill="#000"/>
<line x1="117.4" y1="792.37" x2="119.40" y2="792.37" stroke="#000" stroke-width="0.9"/>
<text x="120.9" y="793.87" class="cg">SMAD3</text>
<path d="M113.60 790.77L115.20 792.37L113.60 793.97L112.00 792.37Z" fill="#000"/>
<line x1="117.4" y1="796.46" x2="119.40" y2="796.46" stroke="#000" stroke-width="0.9"/>
<text x="120.9" y="797.96" class="cg">SMAD4</text>
<path d="M113.60 794.86L115.20 796.46L113.60 798.06L112.00 796.46Z" fill="#000"/>
<line x1="117.4" y1="800.54" x2="119.40" y2="800.54" stroke="#000" stroke-width="0.9"/>
<text x="120.9" y="802.04" class="cg">SPA17</text>
<line x1="117.4" y1="804.63" x2="119.40" y2="804.63" stroke="#000" stroke-width="0.9"/>
<text x="120.9" y="806.13" class="cg">SPAG9</text>
<path d="M113.60 803.03L115.20 804.63L113.60 806.23L112.00 804.63Z" fill="#000"/>
<line x1="117.4" y1="808.72" x2="119.40" y2="808.72" stroke="#000" stroke-width="0.9"/>
<text x="120.9" y="810.22" class="cg">SPEF2</text>
<path d="M113.60 807.12L115.20 808.72L113.60 810.32L112.00 808.72Z" fill="#000"/>
<line x1="117.4" y1="812.80" x2="119.40" y2="812.80" stroke="#000" stroke-width="0.9"/>
<text x="120.9" y="814.30" class="cg">SRGAP1</text>
<line x1="117.4" y1="816.89" x2="119.40" y2="816.89" stroke="#000" stroke-width="0.9"/>
<text x="120.9" y="818.39" class="cg">SYCE1</text>
<path d="M113.60 815.29L115.20 816.89L113.60 818.49L112.00 816.89Z" fill="#000"/>
<line x1="117.4" y1="820.97" x2="119.40" y2="820.97" stroke="#000" stroke-width="0.9"/>
<text x="120.9" y="822.47" class="cg">TGFBR2</text>
<path d="M113.60 819.37L115.20 820.97L113.60 822.57L112.00 820.97Z" fill="#000"/>
<line x1="117.4" y1="825.06" x2="119.40" y2="825.06" stroke="#000" stroke-width="0.9"/>
<text x="120.9" y="826.56" class="cg">TIE1</text>
<path d="M113.60 823.36L115.30 825.06L113.60 826.76L111.90 825.06Z" fill="#E46C0A"/>
<line x1="117.4" y1="829.15" x2="119.40" y2="829.15" stroke="#000" stroke-width="0.9"/>
<text x="120.9" y="830.65" class="cg">TMEM108</text>
<path d="M113.60 827.55L115.20 829.15L113.60 830.75L112.00 829.15Z" fill="#000"/>
<line x1="117.4" y1="833.23" x2="119.40" y2="833.23" stroke="#000" stroke-width="0.9"/>
<text x="120.9" y="834.73" class="cg">TP53</text>
<path d="M113.60 831.63L115.20 833.23L113.60 834.83L112.00 833.23Z" fill="#000"/>
<line x1="117.4" y1="837.32" x2="119.40" y2="837.32" stroke="#000" stroke-width="0.9"/>
<text x="120.9" y="838.82" class="cg">TSGA10</text>
<line x1="117.4" y1="841.40" x2="119.40" y2="841.40" stroke="#000" stroke-width="0.9"/>
<text x="120.9" y="842.90" class="cg">TTK</text>
<path d="M113.60 839.80L115.20 841.40L113.60 843.00L112.00 841.40Z" fill="#000"/>
<text x="78.2" y="864.0" text-anchor="middle" class="cat">Frequency of positive</text>
<text x="78.2" y="870.0" text-anchor="middle" class="cat">HLA class I peptidomes [%]</text>
<rect x="268.5" y="364.95" width="1.55" height="2.6" fill="#E46C0A"/>
<rect x="268.5" y="370.65" width="1.55" height="2.6" fill="#E46C0A"/>
<rect x="268.5" y="376.34" width="1.55" height="2.6" fill="#E46C0A"/>
<rect x="268.5" y="382.04" width="1.55" height="2.6" fill="#E46C0A"/>
<rect x="268.5" y="387.73" width="1.55" height="2.6" fill="#E46C0A"/>
<rect x="268.5" y="393.43" width="7.30" height="2.6" fill="#E46C0A"/>
<rect x="268.5" y="396.13" width="2.03" height="2.6" fill="#9B9B9B"/>
<rect x="268.5" y="399.13" width="3.36" height="2.6" fill="#E46C0A"/>
<rect x="268.5" y="404.82" width="1.55" height="2.6" fill="#E46C0A"/>
<rect x="268.5" y="407.52" width="2.35" height="2.6" fill="#9B9B9B"/>
<rect x="268.5" y="410.52" width="1.33" height="2.6" fill="#E46C0A"/>
<rect x="268.5" y="416.21" width="1.55" height="2.6" fill="#E46C0A"/>
<rect x="268.5" y="418.91" width="0.75" height="2.6" fill="#9B9B9B"/>
<rect x="268.5" y="421.91" width="1.55" height="2.6" fill="#E46C0A"/>
<rect x="268.5" y="427.61" width="3.36" height="2.6" fill="#E46C0A"/>
<rect x="268.5" y="433.30" width="1.55" height="2.6" fill="#E46C0A"/>
<rect x="268.5" y="439.00" width="7.30" height="2.6" fill="#E46C0A"/>
<rect x="268.5" y="441.70" width="16.42" height="2.6" fill="#9B9B9B"/>
<rect x="268.5" y="444.69" width="1.55" height="2.6" fill="#E46C0A"/>
<rect x="268.5" y="450.39" width="9.38" height="2.6" fill="#E46C0A"/>
<rect x="268.5" y="456.09" width="1.55" height="2.6" fill="#E46C0A"/>
<rect x="268.5" y="461.78" width="1.55" height="2.6" fill="#E46C0A"/>
<rect x="268.5" y="467.48" width="3.36" height="2.6" fill="#E46C0A"/>
<rect x="268.5" y="470.18" width="4.37" height="2.6" fill="#9B9B9B"/>
<rect x="268.5" y="473.17" width="1.55" height="2.6" fill="#E46C0A"/>
<rect x="268.5" y="475.87" width="7.09" height="2.6" fill="#9B9B9B"/>
<rect x="268.5" y="478.87" width="1.55" height="2.6" fill="#E46C0A"/>
<rect x="268.5" y="484.57" width="28.36" height="2.6" fill="#E46C0A"/>
<rect x="268.5" y="487.27" width="31.23" height="2.6" fill="#9B9B9B"/>
<rect x="268.5" y="490.26" width="1.55" height="2.6" fill="#E46C0A"/>
<rect x="268.5" y="492.96" width="6.08" height="2.6" fill="#9B9B9B"/>
<rect x="268.5" y="495.96" width="1.55" height="2.6" fill="#E46C0A"/>
<rect x="268.5" y="501.65" width="5.38" height="2.6" fill="#E46C0A"/>
<rect x="268.5" y="507.35" width="3.36" height="2.6" fill="#E46C0A"/>
<rect x="268.5" y="510.05" width="3.36" height="2.6" fill="#9B9B9B"/>
<rect x="268.5" y="513.05" width="1.55" height="2.6" fill="#E46C0A"/>
<rect x="268.5" y="518.74" width="1.55" height="2.6" fill="#E46C0A"/>
<rect x="268.5" y="524.44" width="1.55" height="2.6" fill="#E46C0A"/>
<rect x="268.5" y="527.14" width="2.56" height="2.6" fill="#9B9B9B"/>
<rect x="268.5" y="530.13" width="1.55" height="2.6" fill="#E46C0A"/>
<rect x="268.5" y="532.83" width="5.06" height="2.6" fill="#9B9B9B"/>
<rect x="268.5" y="535.83" width="39.71" height="2.6" fill="#E46C0A"/>
<rect x="268.5" y="538.53" width="22.49" height="2.6" fill="#9B9B9B"/>
<rect x="268.5" y="541.53" width="3.36" height="2.6" fill="#E46C0A"/>
<rect x="268.5" y="547.22" width="1.55" height="2.6" fill="#E46C0A"/>
<rect x="268.5" y="549.92" width="2.35" height="2.6" fill="#9B9B9B"/>
<rect x="268.5" y="552.92" width="1.55" height="2.6" fill="#E46C0A"/>
<rect x="268.5" y="558.61" width="3.36" height="2.6" fill="#E46C0A"/>
<rect x="268.5" y="561.31" width="0.75" height="2.6" fill="#9B9B9B"/>
<rect x="268.5" y="564.31" width="9.33" height="2.6" fill="#E46C0A"/>
<rect x="268.5" y="567.01" width="3.36" height="2.6" fill="#9B9B9B"/>
<rect x="268.5" y="570.01" width="1.55" height="2.6" fill="#E46C0A"/>
<rect x="268.5" y="572.71" width="15.40" height="2.6" fill="#9B9B9B"/>
<rect x="268.5" y="575.70" width="3.36" height="2.6" fill="#E46C0A"/>
<rect x="268.5" y="581.40" width="26.33" height="2.6" fill="#E46C0A"/>
<rect x="268.5" y="584.10" width="24.30" height="2.6" fill="#9B9B9B"/>
<rect x="268.5" y="587.09" width="1.55" height="2.6" fill="#E46C0A"/>
<rect x="268.5" y="592.79" width="9.33" height="2.6" fill="#E46C0A"/>
<rect x="268.5" y="595.49" width="3.36" height="2.6" fill="#9B9B9B"/>
<rect x="268.5" y="598.49" width="3.36" height="2.6" fill="#E46C0A"/>
<rect x="268.5" y="601.19" width="0.96" height="2.6" fill="#9B9B9B"/>
<rect x="268.5" y="604.18" width="1.55" height="2.6" fill="#E46C0A"/>
<rect x="268.5" y="609.88" width="1.55" height="2.6" fill="#E46C0A"/>
<rect x="268.5" y="615.57" width="1.55" height="2.6" fill="#E46C0A"/>
<rect x="268.5" y="621.27" width="1.55" height="2.6" fill="#E46C0A"/>
<rect x="268.5" y="626.97" width="5.38" height="2.6" fill="#E46C0A"/>
<rect x="268.5" y="629.67" width="9.33" height="2.6" fill="#9B9B9B"/>
<rect x="268.5" y="632.66" width="1.55" height="2.6" fill="#E46C0A"/>
<rect x="268.5" y="638.36" width="3.36" height="2.6" fill="#E46C0A"/>
<rect x="268.5" y="641.06" width="3.36" height="2.6" fill="#9B9B9B"/>
<rect x="268.5" y="644.05" width="1.55" height="2.6" fill="#E46C0A"/>
<rect x="268.5" y="649.75" width="1.55" height="2.6" fill="#E46C0A"/>
<rect x="268.5" y="655.45" width="15.40" height="2.6" fill="#E46C0A"/>
<rect x="268.5" y="658.15" width="2.35" height="2.6" fill="#9B9B9B"/>
<rect x="268.5" y="661.14" width="7.30" height="2.6" fill="#E46C0A"/>
<rect x="268.5" y="663.84" width="5.38" height="2.6" fill="#9B9B9B"/>
<rect x="268.5" y="666.84" width="3.36" height="2.6" fill="#E46C0A"/>
<rect x="268.5" y="672.53" width="3.36" height="2.6" fill="#E46C0A"/>
<rect x="268.5" y="675.23" width="7.30" height="2.6" fill="#9B9B9B"/>
<rect x="268.5" y="678.23" width="1.55" height="2.6" fill="#E46C0A"/>
<rect x="268.5" y="683.93" width="1.55" height="2.6" fill="#E46C0A"/>
<rect x="268.5" y="689.62" width="1.55" height="2.6" fill="#E46C0A"/>
<rect x="268.5" y="692.32" width="4.37" height="2.6" fill="#9B9B9B"/>
<rect x="268.5" y="695.32" width="1.55" height="2.6" fill="#E46C0A"/>
<rect x="268.5" y="701.01" width="13.17" height="2.6" fill="#E46C0A"/>
<rect x="268.5" y="703.71" width="5.06" height="2.6" fill="#9B9B9B"/>
<rect x="268.5" y="706.71" width="43.55" height="2.6" fill="#E46C0A"/>
<rect x="268.5" y="709.41" width="48.34" height="2.6" fill="#9B9B9B"/>
<rect x="268.5" y="712.41" width="3.36" height="2.6" fill="#E46C0A"/>
<rect x="268.5" y="715.11" width="2.03" height="2.6" fill="#9B9B9B"/>
<rect x="268.5" y="718.10" width="3.36" height="2.6" fill="#E46C0A"/>
<rect x="268.5" y="720.80" width="0.96" height="2.6" fill="#9B9B9B"/>
<rect x="268.5" y="723.80" width="1.55" height="2.6" fill="#E46C0A"/>
<rect x="268.5" y="729.49" width="3.36" height="2.6" fill="#E46C0A"/>
<rect x="268.5" y="735.19" width="1.55" height="2.6" fill="#E46C0A"/>
<rect x="268.5" y="740.89" width="1.55" height="2.6" fill="#E46C0A"/>
<rect x="268.5" y="746.58" width="1.55" height="2.6" fill="#E46C0A"/>
<rect x="268.5" y="752.28" width="3.36" height="2.6" fill="#E46C0A"/>
<rect x="268.5" y="757.97" width="3.36" height="2.6" fill="#E46C0A"/>
<rect x="268.5" y="760.67" width="6.40" height="2.6" fill="#9B9B9B"/>
<rect x="268.5" y="763.67" width="1.55" height="2.6" fill="#E46C0A"/>
<rect x="268.5" y="769.37" width="1.55" height="2.6" fill="#E46C0A"/>
<rect x="268.5" y="775.06" width="7.30" height="2.6" fill="#E46C0A"/>
<rect x="268.5" y="780.76" width="3.36" height="2.6" fill="#E46C0A"/>
<rect x="268.5" y="786.45" width="1.55" height="2.6" fill="#E46C0A"/>
<rect x="268.5" y="789.15" width="0.75" height="2.6" fill="#9B9B9B"/>
<rect x="268.5" y="792.15" width="5.38" height="2.6" fill="#E46C0A"/>
<rect x="268.5" y="794.85" width="4.05" height="2.6" fill="#9B9B9B"/>
<rect x="268.5" y="797.85" width="1.55" height="2.6" fill="#E46C0A"/>
<rect x="268.5" y="803.54" width="1.55" height="2.6" fill="#E46C0A"/>
<rect x="268.5" y="806.24" width="0.75" height="2.6" fill="#9B9B9B"/>
<rect x="268.5" y="809.24" width="3.36" height="2.6" fill="#E46C0A"/>
<rect x="268.5" y="814.93" width="1.55" height="2.6" fill="#E46C0A"/>
<rect x="268.5" y="820.63" width="3.36" height="2.6" fill="#E46C0A"/>
<rect x="268.5" y="823.33" width="6.40" height="2.6" fill="#9B9B9B"/>
<rect x="268.5" y="826.33" width="1.55" height="2.6" fill="#E46C0A"/>
<rect x="268.5" y="832.02" width="1.55" height="2.6" fill="#E46C0A"/>
<rect x="268.5" y="837.72" width="1.55" height="2.6" fill="#E46C0A"/>
<path d="M321.80 363.3H268.5V844.4H321.80" fill="none" stroke="#000" stroke-width="1.05"/>
<path d="M321.80 361.7V365.1M321.80 842.6V846.0" stroke="#000" stroke-width="0.9"/>
<line x1="268.50" y1="363.3" x2="268.50" y2="361.7" stroke="#000" stroke-width="0.8"/>
<line x1="268.50" y1="844.4" x2="268.50" y2="846.0" stroke="#000" stroke-width="0.8"/>
<text transform="translate(267.90,360.90) rotate(-45)" class="ct">0</text>
<text transform="translate(269.40,851.80) rotate(-45)" text-anchor="end" class="ct">0</text>
<line x1="279.16" y1="363.3" x2="279.16" y2="361.7" stroke="#000" stroke-width="0.8"/>
<line x1="279.16" y1="844.4" x2="279.16" y2="846.0" stroke="#000" stroke-width="0.8"/>
<text transform="translate(278.56,360.90) rotate(-45)" class="ct">20</text>
<text transform="translate(280.06,851.80) rotate(-45)" text-anchor="end" class="ct">20</text>
<line x1="289.82" y1="363.3" x2="289.82" y2="361.7" stroke="#000" stroke-width="0.8"/>
<line x1="289.82" y1="844.4" x2="289.82" y2="846.0" stroke="#000" stroke-width="0.8"/>
<text transform="translate(289.22,360.90) rotate(-45)" class="ct">40</text>
<text transform="translate(290.72,851.80) rotate(-45)" text-anchor="end" class="ct">40</text>
<line x1="300.48" y1="363.3" x2="300.48" y2="361.7" stroke="#000" stroke-width="0.8"/>
<line x1="300.48" y1="844.4" x2="300.48" y2="846.0" stroke="#000" stroke-width="0.8"/>
<text transform="translate(299.88,360.90) rotate(-45)" class="ct">60</text>
<text transform="translate(301.38,851.80) rotate(-45)" text-anchor="end" class="ct">60</text>
<line x1="311.14" y1="363.3" x2="311.14" y2="361.7" stroke="#000" stroke-width="0.8"/>
<line x1="311.14" y1="844.4" x2="311.14" y2="846.0" stroke="#000" stroke-width="0.8"/>
<text transform="translate(310.54,360.90) rotate(-45)" class="ct">80</text>
<text transform="translate(312.04,851.80) rotate(-45)" text-anchor="end" class="ct">80</text>
<line x1="321.80" y1="363.3" x2="321.80" y2="361.7" stroke="#000" stroke-width="0.8"/>
<line x1="321.80" y1="844.4" x2="321.80" y2="846.0" stroke="#000" stroke-width="0.8"/>
<text transform="translate(321.20,360.90) rotate(-45)" class="ct">100</text>
<text transform="translate(322.70,851.80) rotate(-45)" text-anchor="end" class="ct">100</text>
<line x1="265.90" y1="367.40" x2="268.5" y2="367.40" stroke="#000" stroke-width="0.9"/>
<text x="265.2" y="369.70" text-anchor="end" class="cg2">ADAM2</text>
<line x1="265.90" y1="373.10" x2="268.5" y2="373.10" stroke="#000" stroke-width="0.9"/>
<text x="265.2" y="375.40" text-anchor="end" class="cg2">AFP</text>
<line x1="265.90" y1="378.79" x2="268.5" y2="378.79" stroke="#000" stroke-width="0.9"/>
<text x="265.2" y="381.09" text-anchor="end" class="cg2">AKAP4</text>
<line x1="265.90" y1="384.49" x2="268.5" y2="384.49" stroke="#000" stroke-width="0.9"/>
<text x="265.2" y="386.79" text-anchor="end" class="cg2">ANKRD30A</text>
<line x1="265.90" y1="390.18" x2="268.5" y2="390.18" stroke="#000" stroke-width="0.9"/>
<text x="265.2" y="392.48" text-anchor="end" class="cg2">ATAD2</text>
<line x1="265.90" y1="395.88" x2="268.5" y2="395.88" stroke="#000" stroke-width="0.9"/>
<text x="265.2" y="398.18" text-anchor="end" class="cg2">ATR</text>
<line x1="265.90" y1="401.58" x2="268.5" y2="401.58" stroke="#000" stroke-width="0.9"/>
<text x="265.2" y="403.88" text-anchor="end" class="cg2">BRCA1</text>
<line x1="265.90" y1="407.27" x2="268.5" y2="407.27" stroke="#000" stroke-width="0.9"/>
<text x="265.2" y="409.57" text-anchor="end" class="cg2">BRCA2</text>
<line x1="265.90" y1="412.97" x2="268.5" y2="412.97" stroke="#000" stroke-width="0.9"/>
<text x="265.2" y="415.27" text-anchor="end" class="cg2">BRDT</text>
<line x1="265.90" y1="418.66" x2="268.5" y2="418.66" stroke="#000" stroke-width="0.9"/>
<text x="265.2" y="420.96" text-anchor="end" class="cg2">CA9</text>
<line x1="265.90" y1="424.36" x2="268.5" y2="424.36" stroke="#000" stroke-width="0.9"/>
<text x="265.2" y="426.66" text-anchor="end" class="cg2">CALR3</text>
<line x1="265.90" y1="430.06" x2="268.5" y2="430.06" stroke="#000" stroke-width="0.9"/>
<text x="265.2" y="432.36" text-anchor="end" class="cg2">CASC5</text>
<line x1="265.90" y1="435.75" x2="268.5" y2="435.75" stroke="#000" stroke-width="0.9"/>
<text x="265.2" y="438.05" text-anchor="end" class="cg2">CCDC62</text>
<line x1="265.90" y1="441.45" x2="268.5" y2="441.45" stroke="#000" stroke-width="0.9"/>
<text x="265.2" y="443.75" text-anchor="end" class="cg2">CDH1</text>
<line x1="265.90" y1="447.14" x2="268.5" y2="447.14" stroke="#000" stroke-width="0.9"/>
<text x="265.2" y="449.44" text-anchor="end" class="cg2">CEP55</text>
<line x1="265.90" y1="452.84" x2="268.5" y2="452.84" stroke="#000" stroke-width="0.9"/>
<text x="265.2" y="455.14" text-anchor="end" class="cg2">CNTN2</text>
<line x1="265.90" y1="458.54" x2="268.5" y2="458.54" stroke="#000" stroke-width="0.9"/>
<text x="265.2" y="460.84" text-anchor="end" class="cg2">CT45A1</text>
<line x1="265.90" y1="464.23" x2="268.5" y2="464.23" stroke="#000" stroke-width="0.9"/>
<text x="265.2" y="466.53" text-anchor="end" class="cg2">CT45A2</text>
<line x1="265.90" y1="469.93" x2="268.5" y2="469.93" stroke="#000" stroke-width="0.9"/>
<text x="265.2" y="472.23" text-anchor="end" class="cg2">CTNNA2</text>
<line x1="265.90" y1="475.62" x2="268.5" y2="475.62" stroke="#000" stroke-width="0.9"/>
<text x="265.2" y="477.92" text-anchor="end" class="cg2">CTNND1</text>
<line x1="265.90" y1="481.32" x2="268.5" y2="481.32" stroke="#000" stroke-width="0.9"/>
<text x="265.2" y="483.62" text-anchor="end" class="cg2">DDX53</text>
<line x1="265.90" y1="487.02" x2="268.5" y2="487.02" stroke="#000" stroke-width="0.9"/>
<text x="265.2" y="489.32" text-anchor="end" class="cg2">EEF1A2</text>
<line x1="265.90" y1="492.71" x2="268.5" y2="492.71" stroke="#000" stroke-width="0.9"/>
<text x="265.2" y="495.01" text-anchor="end" class="cg2">EGFR</text>
<line x1="265.90" y1="498.41" x2="268.5" y2="498.41" stroke="#000" stroke-width="0.9"/>
<text x="265.2" y="500.71" text-anchor="end" class="cg2">EPHA3</text>
<line x1="265.90" y1="504.10" x2="268.5" y2="504.10" stroke="#000" stroke-width="0.9"/>
<text x="265.2" y="506.40" text-anchor="end" class="cg2">EPHB2</text>
<line x1="265.90" y1="509.80" x2="268.5" y2="509.80" stroke="#000" stroke-width="0.9"/>
<text x="265.2" y="512.10" text-anchor="end" class="cg2">ERBB2</text>
<line x1="265.90" y1="515.50" x2="268.5" y2="515.50" stroke="#000" stroke-width="0.9"/>
<text x="265.2" y="517.80" text-anchor="end" class="cg2">FAM133A</text>
<line x1="265.90" y1="521.19" x2="268.5" y2="521.19" stroke="#000" stroke-width="0.9"/>
<text x="265.2" y="523.49" text-anchor="end" class="cg2">FAP</text>
<line x1="265.90" y1="526.89" x2="268.5" y2="526.89" stroke="#000" stroke-width="0.9"/>
<text x="265.2" y="529.19" text-anchor="end" class="cg2">FGFR3</text>
<line x1="265.90" y1="532.58" x2="268.5" y2="532.58" stroke="#000" stroke-width="0.9"/>
<text x="265.2" y="534.88" text-anchor="end" class="cg2">FH</text>
<line x1="265.90" y1="538.28" x2="268.5" y2="538.28" stroke="#000" stroke-width="0.9"/>
<text x="265.2" y="540.58" text-anchor="end" class="cg2">GOLGA6L2</text>
<line x1="265.90" y1="543.98" x2="268.5" y2="543.98" stroke="#000" stroke-width="0.9"/>
<text x="265.2" y="546.28" text-anchor="end" class="cg2">GPC2</text>
<line x1="265.90" y1="549.67" x2="268.5" y2="549.67" stroke="#000" stroke-width="0.9"/>
<text x="265.2" y="551.97" text-anchor="end" class="cg2">HABP2</text>
<line x1="265.90" y1="555.37" x2="268.5" y2="555.37" stroke="#000" stroke-width="0.9"/>
<text x="265.2" y="557.67" text-anchor="end" class="cg2">HORMAD1</text>
<line x1="265.90" y1="561.06" x2="268.5" y2="561.06" stroke="#000" stroke-width="0.9"/>
<text x="265.2" y="563.36" text-anchor="end" class="cg2">HRAS</text>
<line x1="265.90" y1="566.76" x2="268.5" y2="566.76" stroke="#000" stroke-width="0.9"/>
<text x="265.2" y="569.06" text-anchor="end" class="cg2">IMP3</text>
<line x1="265.90" y1="572.46" x2="268.5" y2="572.46" stroke="#000" stroke-width="0.9"/>
<text x="265.2" y="574.76" text-anchor="end" class="cg2">KDR</text>
<line x1="265.90" y1="578.15" x2="268.5" y2="578.15" stroke="#000" stroke-width="0.9"/>
<text x="265.2" y="580.45" text-anchor="end" class="cg2">KRAS</text>
<line x1="265.90" y1="583.85" x2="268.5" y2="583.85" stroke="#000" stroke-width="0.9"/>
<text x="265.2" y="586.15" text-anchor="end" class="cg2">LGMN</text>
<line x1="265.90" y1="589.54" x2="268.5" y2="589.54" stroke="#000" stroke-width="0.9"/>
<text x="265.2" y="591.84" text-anchor="end" class="cg2">LIPI</text>
<line x1="265.90" y1="595.24" x2="268.5" y2="595.24" stroke="#000" stroke-width="0.9"/>
<text x="265.2" y="597.54" text-anchor="end" class="cg2">MGAT5</text>
<line x1="265.90" y1="600.94" x2="268.5" y2="600.94" stroke="#000" stroke-width="0.9"/>
<text x="265.2" y="603.24" text-anchor="end" class="cg2">MINPP1</text>
<line x1="265.90" y1="606.63" x2="268.5" y2="606.63" stroke="#000" stroke-width="0.9"/>
<text x="265.2" y="608.93" text-anchor="end" class="cg2">MLH3</text>
<line x1="265.90" y1="612.33" x2="268.5" y2="612.33" stroke="#000" stroke-width="0.9"/>
<text x="265.2" y="614.63" text-anchor="end" class="cg2">MSH3</text>
<line x1="265.90" y1="618.02" x2="268.5" y2="618.02" stroke="#000" stroke-width="0.9"/>
<text x="265.2" y="620.32" text-anchor="end" class="cg2">MSR1</text>
<line x1="265.90" y1="623.72" x2="268.5" y2="623.72" stroke="#000" stroke-width="0.9"/>
<text x="265.2" y="626.02" text-anchor="end" class="cg2">MT-CO1</text>
<line x1="265.90" y1="629.42" x2="268.5" y2="629.42" stroke="#000" stroke-width="0.9"/>
<text x="265.2" y="631.72" text-anchor="end" class="cg2">MTHFD1</text>
<line x1="265.90" y1="635.11" x2="268.5" y2="635.11" stroke="#000" stroke-width="0.9"/>
<text x="265.2" y="637.41" text-anchor="end" class="cg2">MTUS1</text>
<line x1="265.90" y1="640.81" x2="268.5" y2="640.81" stroke="#000" stroke-width="0.9"/>
<text x="265.2" y="643.11" text-anchor="end" class="cg2">MUC1</text>
<line x1="265.90" y1="646.50" x2="268.5" y2="646.50" stroke="#000" stroke-width="0.9"/>
<text x="265.2" y="648.80" text-anchor="end" class="cg2">MUTYH</text>
<line x1="265.90" y1="652.20" x2="268.5" y2="652.20" stroke="#000" stroke-width="0.9"/>
<text x="265.2" y="654.50" text-anchor="end" class="cg2">MXI1</text>
<line x1="265.90" y1="657.90" x2="268.5" y2="657.90" stroke="#000" stroke-width="0.9"/>
<text x="265.2" y="660.20" text-anchor="end" class="cg2">MXRA5</text>
<line x1="265.90" y1="663.59" x2="268.5" y2="663.59" stroke="#000" stroke-width="0.9"/>
<text x="265.2" y="665.89" text-anchor="end" class="cg2">NPEPPS</text>
<line x1="265.90" y1="669.29" x2="268.5" y2="669.29" stroke="#000" stroke-width="0.9"/>
<text x="265.2" y="671.59" text-anchor="end" class="cg2">NRAS</text>
<line x1="265.90" y1="674.98" x2="268.5" y2="674.98" stroke="#000" stroke-width="0.9"/>
<text x="265.2" y="677.28" text-anchor="end" class="cg2">PALLD</text>
<line x1="265.90" y1="680.68" x2="268.5" y2="680.68" stroke="#000" stroke-width="0.9"/>
<text x="265.2" y="682.98" text-anchor="end" class="cg2">PASD1</text>
<line x1="265.90" y1="686.38" x2="268.5" y2="686.38" stroke="#000" stroke-width="0.9"/>
<text x="265.2" y="688.68" text-anchor="end" class="cg2">PBK</text>
<line x1="265.90" y1="692.07" x2="268.5" y2="692.07" stroke="#000" stroke-width="0.9"/>
<text x="265.2" y="694.37" text-anchor="end" class="cg2">PDGFRB</text>
<line x1="265.90" y1="697.77" x2="268.5" y2="697.77" stroke="#000" stroke-width="0.9"/>
<text x="265.2" y="700.07" text-anchor="end" class="cg2">PDGFRL</text>
<line x1="265.90" y1="703.46" x2="268.5" y2="703.46" stroke="#000" stroke-width="0.9"/>
<text x="265.2" y="705.76" text-anchor="end" class="cg2">POLQ</text>
<line x1="265.90" y1="709.16" x2="268.5" y2="709.16" stroke="#000" stroke-width="0.9"/>
<text x="265.2" y="711.46" text-anchor="end" class="cg2">POTEE</text>
<line x1="265.90" y1="714.86" x2="268.5" y2="714.86" stroke="#000" stroke-width="0.9"/>
<text x="265.2" y="717.16" text-anchor="end" class="cg2">PRAME</text>
<line x1="265.90" y1="720.55" x2="268.5" y2="720.55" stroke="#000" stroke-width="0.9"/>
<text x="265.2" y="722.85" text-anchor="end" class="cg2">PRM1</text>
<line x1="265.90" y1="726.25" x2="268.5" y2="726.25" stroke="#000" stroke-width="0.9"/>
<text x="265.2" y="728.55" text-anchor="end" class="cg2">PRM2</text>
<line x1="265.90" y1="731.94" x2="268.5" y2="731.94" stroke="#000" stroke-width="0.9"/>
<text x="265.2" y="734.24" text-anchor="end" class="cg2">RAD51</text>
<line x1="265.90" y1="737.64" x2="268.5" y2="737.64" stroke="#000" stroke-width="0.9"/>
<text x="265.2" y="739.94" text-anchor="end" class="cg2">RAD51D</text>
<line x1="265.90" y1="743.34" x2="268.5" y2="743.34" stroke="#000" stroke-width="0.9"/>
<text x="265.2" y="745.64" text-anchor="end" class="cg2">RB1</text>
<line x1="265.90" y1="749.03" x2="268.5" y2="749.03" stroke="#000" stroke-width="0.9"/>
<text x="265.2" y="751.33" text-anchor="end" class="cg2">RGS5</text>
<line x1="265.90" y1="754.73" x2="268.5" y2="754.73" stroke="#000" stroke-width="0.9"/>
<text x="265.2" y="757.03" text-anchor="end" class="cg2">RHBDF2</text>
<line x1="265.90" y1="760.42" x2="268.5" y2="760.42" stroke="#000" stroke-width="0.9"/>
<text x="265.2" y="762.72" text-anchor="end" class="cg2">RHOC</text>
<line x1="265.90" y1="766.12" x2="268.5" y2="766.12" stroke="#000" stroke-width="0.9"/>
<text x="265.2" y="768.42" text-anchor="end" class="cg2">RNF17</text>
<line x1="265.90" y1="771.82" x2="268.5" y2="771.82" stroke="#000" stroke-width="0.9"/>
<text x="265.2" y="774.12" text-anchor="end" class="cg2">SART3</text>
<line x1="265.90" y1="777.51" x2="268.5" y2="777.51" stroke="#000" stroke-width="0.9"/>
<text x="265.2" y="779.81" text-anchor="end" class="cg2">SMAD7</text>
<line x1="265.90" y1="783.21" x2="268.5" y2="783.21" stroke="#000" stroke-width="0.9"/>
<text x="265.2" y="785.51" text-anchor="end" class="cg2">SPAG1</text>
<line x1="265.90" y1="788.90" x2="268.5" y2="788.90" stroke="#000" stroke-width="0.9"/>
<text x="265.2" y="791.20" text-anchor="end" class="cg2">SPAG17</text>
<line x1="265.90" y1="794.60" x2="268.5" y2="794.60" stroke="#000" stroke-width="0.9"/>
<text x="265.2" y="796.90" text-anchor="end" class="cg2">SPAG9</text>
<line x1="265.90" y1="800.30" x2="268.5" y2="800.30" stroke="#000" stroke-width="0.9"/>
<text x="265.2" y="802.60" text-anchor="end" class="cg2">SPEF2</text>
<line x1="265.90" y1="805.99" x2="268.5" y2="805.99" stroke="#000" stroke-width="0.9"/>
<text x="265.2" y="808.29" text-anchor="end" class="cg2">SRGAP1</text>
<line x1="265.90" y1="811.69" x2="268.5" y2="811.69" stroke="#000" stroke-width="0.9"/>
<text x="265.2" y="813.99" text-anchor="end" class="cg2">TEX15</text>
<line x1="265.90" y1="817.38" x2="268.5" y2="817.38" stroke="#000" stroke-width="0.9"/>
<text x="265.2" y="819.68" text-anchor="end" class="cg2">TMEFF1</text>
<line x1="265.90" y1="823.08" x2="268.5" y2="823.08" stroke="#000" stroke-width="0.9"/>
<text x="265.2" y="825.38" text-anchor="end" class="cg2">TPTE</text>
<line x1="265.90" y1="828.78" x2="268.5" y2="828.78" stroke="#000" stroke-width="0.9"/>
<text x="265.2" y="831.08" text-anchor="end" class="cg2">TSGA10</text>
<line x1="265.90" y1="834.47" x2="268.5" y2="834.47" stroke="#000" stroke-width="0.9"/>
<text x="265.2" y="836.77" text-anchor="end" class="cg2">TYR</text>
<line x1="265.90" y1="840.17" x2="268.5" y2="840.17" stroke="#000" stroke-width="0.9"/>
<text x="265.2" y="842.47" text-anchor="end" class="cg2">XRCC3</text>
<path d="M329.2 363.3H336.6V844.4H329.2" fill="none" stroke="#000" stroke-width="1.05"/>
<line x1="336.6" y1="367.40" x2="338.60" y2="367.40" stroke="#000" stroke-width="0.9"/>
<text x="341.0" y="369.70" class="cg2">ADAM2</text>
<path d="M332.80 365.80L334.40 367.40L332.80 369.00L331.20 367.40Z" fill="#000"/>
<line x1="336.6" y1="373.10" x2="338.60" y2="373.10" stroke="#000" stroke-width="0.9"/>
<text x="341.0" y="375.40" class="cg2">AFP</text>
<path d="M332.80 371.50L334.40 373.10L332.80 374.70L331.20 373.10Z" fill="#000"/>
<line x1="336.6" y1="378.79" x2="338.60" y2="378.79" stroke="#000" stroke-width="0.9"/>
<text x="341.0" y="381.09" class="cg2">AKAP4</text>
<path d="M332.80 377.19L334.40 378.79L332.80 380.39L331.20 378.79Z" fill="#000"/>
<line x1="336.6" y1="384.49" x2="338.60" y2="384.49" stroke="#000" stroke-width="0.9"/>
<text x="341.0" y="386.79" class="cg2">ANKRD30A</text>
<path d="M332.80 382.89L334.40 384.49L332.80 386.09L331.20 384.49Z" fill="#000"/>
<line x1="336.6" y1="390.18" x2="338.60" y2="390.18" stroke="#000" stroke-width="0.9"/>
<text x="341.0" y="392.48" class="cg2">ATAD2</text>
<line x1="336.6" y1="395.88" x2="338.60" y2="395.88" stroke="#000" stroke-width="0.9"/>
<text x="341.0" y="398.18" class="cg2">ATR</text>
<path d="M332.80 394.28L334.40 395.88L332.80 397.48L331.20 395.88Z" fill="#000"/>
<line x1="336.6" y1="401.58" x2="338.60" y2="401.58" stroke="#000" stroke-width="0.9"/>
<text x="341.0" y="403.88" class="cg2">BRCA1</text>
<path d="M332.80 399.88L334.50 401.58L332.80 403.28L331.10 401.58Z" fill="#E46C0A"/>
<line x1="336.6" y1="407.27" x2="338.60" y2="407.27" stroke="#000" stroke-width="0.9"/>
<text x="341.0" y="409.57" class="cg2">BRCA2</text>
<line x1="336.6" y1="412.97" x2="338.60" y2="412.97" stroke="#000" stroke-width="0.9"/>
<text x="341.0" y="415.27" class="cg2">BRDT</text>
<path d="M332.80 411.37L334.40 412.97L332.80 414.57L331.20 412.97Z" fill="#000"/>
<line x1="336.6" y1="418.66" x2="338.60" y2="418.66" stroke="#000" stroke-width="0.9"/>
<text x="341.0" y="420.96" class="cg2">CA9</text>
<path d="M332.80 417.06L334.40 418.66L332.80 420.26L331.20 418.66Z" fill="#000"/>
<line x1="336.6" y1="424.36" x2="338.60" y2="424.36" stroke="#000" stroke-width="0.9"/>
<text x="341.0" y="426.66" class="cg2">CALR3</text>
<path d="M332.80 422.76L334.40 424.36L332.80 425.96L331.20 424.36Z" fill="#000"/>
<line x1="336.6" y1="430.06" x2="338.60" y2="430.06" stroke="#000" stroke-width="0.9"/>
<text x="341.0" y="432.36" class="cg2">CASC5</text>
<path d="M332.80 428.46L334.40 430.06L332.80 431.66L331.20 430.06Z" fill="#000"/>
<line x1="336.6" y1="435.75" x2="338.60" y2="435.75" stroke="#000" stroke-width="0.9"/>
<text x="341.0" y="438.05" class="cg2">CCDC62</text>
<path d="M332.80 434.15L334.40 435.75L332.80 437.35L331.20 435.75Z" fill="#000"/>
<line x1="336.6" y1="441.45" x2="338.60" y2="441.45" stroke="#000" stroke-width="0.9"/>
<text x="341.0" y="443.75" class="cg2">CDH1</text>
<path d="M332.80 439.85L334.40 441.45L332.80 443.05L331.20 441.45Z" fill="#000"/>
<line x1="336.6" y1="447.14" x2="338.60" y2="447.14" stroke="#000" stroke-width="0.9"/>
<text x="341.0" y="449.44" class="cg2">CEP55</text>
<path d="M332.80 445.54L334.40 447.14L332.80 448.74L331.20 447.14Z" fill="#000"/>
<line x1="336.6" y1="452.84" x2="338.60" y2="452.84" stroke="#000" stroke-width="0.9"/>
<text x="341.0" y="455.14" class="cg2">CNTN2</text>
<path d="M332.80 451.24L334.40 452.84L332.80 454.44L331.20 452.84Z" fill="#000"/>
<line x1="336.6" y1="458.54" x2="338.60" y2="458.54" stroke="#000" stroke-width="0.9"/>
<text x="341.0" y="460.84" class="cg2">CT45A1</text>
<line x1="336.6" y1="464.23" x2="338.60" y2="464.23" stroke="#000" stroke-width="0.9"/>
<text x="341.0" y="466.53" class="cg2">CT45A2</text>
<line x1="336.6" y1="469.93" x2="338.60" y2="469.93" stroke="#000" stroke-width="0.9"/>
<text x="341.0" y="472.23" class="cg2">CTNNA2</text>
<path d="M332.80 468.33L334.40 469.93L332.80 471.53L331.20 469.93Z" fill="#000"/>
<line x1="336.6" y1="475.62" x2="338.60" y2="475.62" stroke="#000" stroke-width="0.9"/>
<text x="341.0" y="477.92" class="cg2">CTNND1</text>
<line x1="336.6" y1="481.32" x2="338.60" y2="481.32" stroke="#000" stroke-width="0.9"/>
<text x="341.0" y="483.62" class="cg2">DDX53</text>
<path d="M332.80 479.72L334.40 481.32L332.80 482.92L331.20 481.32Z" fill="#000"/>
<line x1="336.6" y1="487.02" x2="338.60" y2="487.02" stroke="#000" stroke-width="0.9"/>
<text x="341.0" y="489.32" class="cg2">EEF1A2</text>
<path d="M332.80 485.42L334.40 487.02L332.80 488.62L331.20 487.02Z" fill="#000"/>
<line x1="336.6" y1="492.71" x2="338.60" y2="492.71" stroke="#000" stroke-width="0.9"/>
<text x="341.0" y="495.01" class="cg2">EGFR</text>
<line x1="336.6" y1="498.41" x2="338.60" y2="498.41" stroke="#000" stroke-width="0.9"/>
<text x="341.0" y="500.71" class="cg2">EPHA3</text>
<line x1="336.6" y1="504.10" x2="338.60" y2="504.10" stroke="#000" stroke-width="0.9"/>
<text x="341.0" y="506.40" class="cg2">EPHB2</text>
<path d="M332.80 502.40L334.50 504.10L332.80 505.80L331.10 504.10Z" fill="#E46C0A"/>
<line x1="336.6" y1="509.80" x2="338.60" y2="509.80" stroke="#000" stroke-width="0.9"/>
<text x="341.0" y="512.10" class="cg2">ERBB2</text>
<path d="M332.80 508.20L334.40 509.80L332.80 511.40L331.20 509.80Z" fill="#000"/>
<line x1="336.6" y1="515.50" x2="338.60" y2="515.50" stroke="#000" stroke-width="0.9"/>
<text x="341.0" y="517.80" class="cg2">FAM133A</text>
<path d="M332.80 513.90L334.40 515.50L332.80 517.10L331.20 515.50Z" fill="#000"/>
<line x1="336.6" y1="521.19" x2="338.60" y2="521.19" stroke="#000" stroke-width="0.9"/>
<text x="341.0" y="523.49" class="cg2">FAP</text>
<path d="M332.80 519.59L334.40 521.19L332.80 522.79L331.20 521.19Z" fill="#000"/>
<line x1="336.6" y1="526.89" x2="338.60" y2="526.89" stroke="#000" stroke-width="0.9"/>
<text x="341.0" y="529.19" class="cg2">FGFR3</text>
<line x1="336.6" y1="532.58" x2="338.60" y2="532.58" stroke="#000" stroke-width="0.9"/>
<text x="341.0" y="534.88" class="cg2">FH</text>
<path d="M332.80 530.98L334.40 532.58L332.80 534.18L331.20 532.58Z" fill="#000"/>
<line x1="336.6" y1="538.28" x2="338.60" y2="538.28" stroke="#000" stroke-width="0.9"/>
<text x="341.0" y="540.58" class="cg2">GOLGA6L2</text>
<path d="M332.80 536.58L334.50 538.28L332.80 539.98L331.10 538.28Z" fill="#E46C0A"/>
<line x1="336.6" y1="543.98" x2="338.60" y2="543.98" stroke="#000" stroke-width="0.9"/>
<text x="341.0" y="546.28" class="cg2">GPC2</text>
<path d="M332.80 542.28L334.50 543.98L332.80 545.68L331.10 543.98Z" fill="#E46C0A"/>
<line x1="336.6" y1="549.67" x2="338.60" y2="549.67" stroke="#000" stroke-width="0.9"/>
<text x="341.0" y="551.97" class="cg2">HABP2</text>
<line x1="336.6" y1="555.37" x2="338.60" y2="555.37" stroke="#000" stroke-width="0.9"/>
<text x="341.0" y="557.67" class="cg2">HORMAD1</text>
<path d="M332.80 553.77L334.40 555.37L332.80 556.97L331.20 555.37Z" fill="#000"/>
<line x1="336.6" y1="561.06" x2="338.60" y2="561.06" stroke="#000" stroke-width="0.9"/>
<text x="341.0" y="563.36" class="cg2">HRAS</text>
<line x1="336.6" y1="566.76" x2="338.60" y2="566.76" stroke="#000" stroke-width="0.9"/>
<text x="341.0" y="569.06" class="cg2">IMP3</text>
<line x1="336.6" y1="572.46" x2="338.60" y2="572.46" stroke="#000" stroke-width="0.9"/>
<text x="341.0" y="574.76" class="cg2">KDR</text>
<path d="M332.80 570.86L334.40 572.46L332.80 574.06L331.20 572.46Z" fill="#000"/>
<line x1="336.6" y1="578.15" x2="338.60" y2="578.15" stroke="#000" stroke-width="0.9"/>
<text x="341.0" y="580.45" class="cg2">KRAS</text>
<line x1="336.6" y1="583.85" x2="338.60" y2="583.85" stroke="#000" stroke-width="0.9"/>
<text x="341.0" y="586.15" class="cg2">LGMN</text>
<path d="M332.80 582.15L334.50 583.85L332.80 585.55L331.10 583.85Z" fill="#E46C0A"/>
<line x1="336.6" y1="589.54" x2="338.60" y2="589.54" stroke="#000" stroke-width="0.9"/>
<text x="341.0" y="591.84" class="cg2">LIPI</text>
<path d="M332.80 587.94L334.40 589.54L332.80 591.14L331.20 589.54Z" fill="#000"/>
<line x1="336.6" y1="595.24" x2="338.60" y2="595.24" stroke="#000" stroke-width="0.9"/>
<text x="341.0" y="597.54" class="cg2">MGAT5</text>
<path d="M332.80 593.64L334.40 595.24L332.80 596.84L331.20 595.24Z" fill="#000"/>
<line x1="336.6" y1="600.94" x2="338.60" y2="600.94" stroke="#000" stroke-width="0.9"/>
<text x="341.0" y="603.24" class="cg2">MINPP1</text>
<path d="M332.80 599.34L334.40 600.94L332.80 602.54L331.20 600.94Z" fill="#000"/>
<line x1="336.6" y1="606.63" x2="338.60" y2="606.63" stroke="#000" stroke-width="0.9"/>
<text x="341.0" y="608.93" class="cg2">MLH3</text>
<path d="M332.80 605.03L334.40 606.63L332.80 608.23L331.20 606.63Z" fill="#000"/>
<line x1="336.6" y1="612.33" x2="338.60" y2="612.33" stroke="#000" stroke-width="0.9"/>
<text x="341.0" y="614.63" class="cg2">MSH3</text>
<path d="M332.80 610.73L334.40 612.33L332.80 613.93L331.20 612.33Z" fill="#000"/>
<line x1="336.6" y1="618.02" x2="338.60" y2="618.02" stroke="#000" stroke-width="0.9"/>
<text x="341.0" y="620.32" class="cg2">MSR1</text>
<path d="M332.80 616.42L334.40 618.02L332.80 619.62L331.20 618.02Z" fill="#000"/>
<line x1="336.6" y1="623.72" x2="338.60" y2="623.72" stroke="#000" stroke-width="0.9"/>
<text x="341.0" y="626.02" class="cg2">MT-CO1</text>
<path d="M332.80 622.12L334.40 623.72L332.80 625.32L331.20 623.72Z" fill="#000"/>
<line x1="336.6" y1="629.42" x2="338.60" y2="629.42" stroke="#000" stroke-width="0.9"/>
<text x="341.0" y="631.72" class="cg2">MTHFD1</text>
<path d="M332.80 627.82L334.40 629.42L332.80 631.02L331.20 629.42Z" fill="#000"/>
<line x1="336.6" y1="635.11" x2="338.60" y2="635.11" stroke="#000" stroke-width="0.9"/>
<text x="341.0" y="637.41" class="cg2">MTUS1</text>
<path d="M332.80 633.51L334.40 635.11L332.80 636.71L331.20 635.11Z" fill="#000"/>
<line x1="336.6" y1="640.81" x2="338.60" y2="640.81" stroke="#000" stroke-width="0.9"/>
<text x="341.0" y="643.11" class="cg2">MUC1</text>
<path d="M332.80 639.11L334.50 640.81L332.80 642.51L331.10 640.81Z" fill="#E46C0A"/>
<line x1="336.6" y1="646.50" x2="338.60" y2="646.50" stroke="#000" stroke-width="0.9"/>
<text x="341.0" y="648.80" class="cg2">MUTYH</text>
<path d="M332.80 644.90L334.40 646.50L332.80 648.10L331.20 646.50Z" fill="#000"/>
<line x1="336.6" y1="652.20" x2="338.60" y2="652.20" stroke="#000" stroke-width="0.9"/>
<text x="341.0" y="654.50" class="cg2">MXI1</text>
<path d="M332.80 650.60L334.40 652.20L332.80 653.80L331.20 652.20Z" fill="#000"/>
<line x1="336.6" y1="657.90" x2="338.60" y2="657.90" stroke="#000" stroke-width="0.9"/>
<text x="341.0" y="660.20" class="cg2">MXRA5</text>
<path d="M332.80 656.30L334.40 657.90L332.80 659.50L331.20 657.90Z" fill="#000"/>
<line x1="336.6" y1="663.59" x2="338.60" y2="663.59" stroke="#000" stroke-width="0.9"/>
<text x="341.0" y="665.89" class="cg2">NPEPPS</text>
<path d="M332.80 661.99L334.40 663.59L332.80 665.19L331.20 663.59Z" fill="#000"/>
<line x1="336.6" y1="669.29" x2="338.60" y2="669.29" stroke="#000" stroke-width="0.9"/>
<text x="341.0" y="671.59" class="cg2">NRAS</text>
<line x1="336.6" y1="674.98" x2="338.60" y2="674.98" stroke="#000" stroke-width="0.9"/>
<text x="341.0" y="677.28" class="cg2">PALLD</text>
<path d="M332.80 673.38L334.40 674.98L332.80 676.58L331.20 674.98Z" fill="#000"/>
<line x1="336.6" y1="680.68" x2="338.60" y2="680.68" stroke="#000" stroke-width="0.9"/>
<text x="341.0" y="682.98" class="cg2">PASD1</text>
<path d="M332.80 679.08L334.40 680.68L332.80 682.28L331.20 680.68Z" fill="#000"/>
<line x1="336.6" y1="686.38" x2="338.60" y2="686.38" stroke="#000" stroke-width="0.9"/>
<text x="341.0" y="688.68" class="cg2">PBK</text>
<path d="M332.80 684.78L334.40 686.38L332.80 687.98L331.20 686.38Z" fill="#000"/>
<line x1="336.6" y1="692.07" x2="338.60" y2="692.07" stroke="#000" stroke-width="0.9"/>
<text x="341.0" y="694.37" class="cg2">PDGFRB</text>
<line x1="336.6" y1="697.77" x2="338.60" y2="697.77" stroke="#000" stroke-width="0.9"/>
<text x="341.0" y="700.07" class="cg2">PDGFRL</text>
<path d="M332.80 696.17L334.40 697.77L332.80 699.37L331.20 697.77Z" fill="#000"/>
<line x1="336.6" y1="703.46" x2="338.60" y2="703.46" stroke="#000" stroke-width="0.9"/>
<text x="341.0" y="705.76" class="cg2">POLQ</text>
<line x1="336.6" y1="709.16" x2="338.60" y2="709.16" stroke="#000" stroke-width="0.9"/>
<text x="341.0" y="711.46" class="cg2">POTEE</text>
<line x1="336.6" y1="714.86" x2="338.60" y2="714.86" stroke="#000" stroke-width="0.9"/>
<text x="341.0" y="717.16" class="cg2">PRAME</text>
<line x1="336.6" y1="720.55" x2="338.60" y2="720.55" stroke="#000" stroke-width="0.9"/>
<text x="341.0" y="722.85" class="cg2">PRM1</text>
<line x1="336.6" y1="726.25" x2="338.60" y2="726.25" stroke="#000" stroke-width="0.9"/>
<text x="341.0" y="728.55" class="cg2">PRM2</text>
<path d="M332.80 724.65L334.40 726.25L332.80 727.85L331.20 726.25Z" fill="#000"/>
<line x1="336.6" y1="731.94" x2="338.60" y2="731.94" stroke="#000" stroke-width="0.9"/>
<text x="341.0" y="734.24" class="cg2">RAD51</text>
<path d="M332.80 730.24L334.50 731.94L332.80 733.64L331.10 731.94Z" fill="#E46C0A"/>
<line x1="336.6" y1="737.64" x2="338.60" y2="737.64" stroke="#000" stroke-width="0.9"/>
<text x="341.0" y="739.94" class="cg2">RAD51D</text>
<path d="M332.80 736.04L334.40 737.64L332.80 739.24L331.20 737.64Z" fill="#000"/>
<line x1="336.6" y1="743.34" x2="338.60" y2="743.34" stroke="#000" stroke-width="0.9"/>
<text x="341.0" y="745.64" class="cg2">RB1</text>
<path d="M332.80 741.74L334.40 743.34L332.80 744.94L331.20 743.34Z" fill="#000"/>
<line x1="336.6" y1="749.03" x2="338.60" y2="749.03" stroke="#000" stroke-width="0.9"/>
<text x="341.0" y="751.33" class="cg2">RGS5</text>
<path d="M332.80 747.43L334.40 749.03L332.80 750.63L331.20 749.03Z" fill="#000"/>
<line x1="336.6" y1="754.73" x2="338.60" y2="754.73" stroke="#000" stroke-width="0.9"/>
<text x="341.0" y="757.03" class="cg2">RHBDF2</text>
<path d="M332.80 753.13L334.40 754.73L332.80 756.33L331.20 754.73Z" fill="#000"/>
<line x1="336.6" y1="760.42" x2="338.60" y2="760.42" stroke="#000" stroke-width="0.9"/>
<text x="341.0" y="762.72" class="cg2">RHOC</text>
<line x1="336.6" y1="766.12" x2="338.60" y2="766.12" stroke="#000" stroke-width="0.9"/>
<text x="341.0" y="768.42" class="cg2">RNF17</text>
<line x1="336.6" y1="771.82" x2="338.60" y2="771.82" stroke="#000" stroke-width="0.9"/>
<text x="341.0" y="774.12" class="cg2">SART3</text>
<path d="M332.80 770.22L334.40 771.82L332.80 773.42L331.20 771.82Z" fill="#000"/>
<line x1="336.6" y1="777.51" x2="338.60" y2="777.51" stroke="#000" stroke-width="0.9"/>
<text x="341.0" y="779.81" class="cg2">SMAD7</text>
<line x1="336.6" y1="783.21" x2="338.60" y2="783.21" stroke="#000" stroke-width="0.9"/>
<text x="341.0" y="785.51" class="cg2">SPAG1</text>
<path d="M332.80 781.61L334.40 783.21L332.80 784.81L331.20 783.21Z" fill="#000"/>
<line x1="336.6" y1="788.90" x2="338.60" y2="788.90" stroke="#000" stroke-width="0.9"/>
<text x="341.0" y="791.20" class="cg2">SPAG17</text>
<path d="M332.80 787.30L334.40 788.90L332.80 790.50L331.20 788.90Z" fill="#000"/>
<line x1="336.6" y1="794.60" x2="338.60" y2="794.60" stroke="#000" stroke-width="0.9"/>
<text x="341.0" y="796.90" class="cg2">SPAG9</text>
<path d="M332.80 793.00L334.40 794.60L332.80 796.20L331.20 794.60Z" fill="#000"/>
<line x1="336.6" y1="800.30" x2="338.60" y2="800.30" stroke="#000" stroke-width="0.9"/>
<text x="341.0" y="802.60" class="cg2">SPEF2</text>
<path d="M332.80 798.70L334.40 800.30L332.80 801.90L331.20 800.30Z" fill="#000"/>
<line x1="336.6" y1="805.99" x2="338.60" y2="805.99" stroke="#000" stroke-width="0.9"/>
<text x="341.0" y="808.29" class="cg2">SRGAP1</text>
<line x1="336.6" y1="811.69" x2="338.60" y2="811.69" stroke="#000" stroke-width="0.9"/>
<text x="341.0" y="813.99" class="cg2">TEX15</text>
<path d="M332.80 809.99L334.50 811.69L332.80 813.39L331.10 811.69Z" fill="#E46C0A"/>
<line x1="336.6" y1="817.38" x2="338.60" y2="817.38" stroke="#000" stroke-width="0.9"/>
<text x="341.0" y="819.68" class="cg2">TMEFF1</text>
<path d="M332.80 815.78L334.40 817.38L332.80 818.98L331.20 817.38Z" fill="#000"/>
<line x1="336.6" y1="823.08" x2="338.60" y2="823.08" stroke="#000" stroke-width="0.9"/>
<text x="341.0" y="825.38" class="cg2">TPTE</text>
<line x1="336.6" y1="828.78" x2="338.60" y2="828.78" stroke="#000" stroke-width="0.9"/>
<text x="341.0" y="831.08" class="cg2">TSGA10</text>
<path d="M332.80 827.18L334.40 828.78L332.80 830.38L331.20 828.78Z" fill="#000"/>
<line x1="336.6" y1="834.47" x2="338.60" y2="834.47" stroke="#000" stroke-width="0.9"/>
<text x="341.0" y="836.77" class="cg2">TYR</text>
<path d="M332.80 832.87L334.40 834.47L332.80 836.07L331.20 834.47Z" fill="#000"/>
<line x1="336.6" y1="840.17" x2="338.60" y2="840.17" stroke="#000" stroke-width="0.9"/>
<text x="341.0" y="842.47" class="cg2">XRCC3</text>
<path d="M332.80 838.57L334.40 840.17L332.80 841.77L331.20 840.17Z" fill="#000"/>
<text x="297.9" y="862.5" text-anchor="middle" class="cat">Frequency of positive</text>
<text x="297.9" y="868.5" text-anchor="middle" class="cat">HLA class II peptidomes [%]</text>
<rect x="150.8" y="365.3" width="7.3" height="3.3" fill="#E46C0A"/>
<rect x="150.8" y="376.3" width="7.3" height="3.3" fill="#9B9B9B"/>
<circle cx="154.5" cy="392.5" r="0.65" fill="#111"/>
<path d="M154.5 408.6V411M153.3 409.8H155.7" stroke="#E46C0A" stroke-width="0.7"/>
<text x="162.2" y="368.90" class="cl">Medulloblastoma (n=28)</text>
<text x="162.2" y="377.10" class="cl">Benign samples without</text>
<text x="162.2" y="383.00" class="cl">testes (n=418 / n=384)</text>
<text x="162.2" y="391.10" class="cl">Medulloblastoma-associated</text>
<text x="162.2" y="397.20" class="cl">peptides</text>
<text x="162.2" y="405.90" class="cl">Medulloblastoma-associated</text>
<text x="162.2" y="411.70" class="cl">peptides identified on ≥ 2</text>
<text x="162.2" y="417.40" class="cl">tumors</text>
</svg>
</body></html>
